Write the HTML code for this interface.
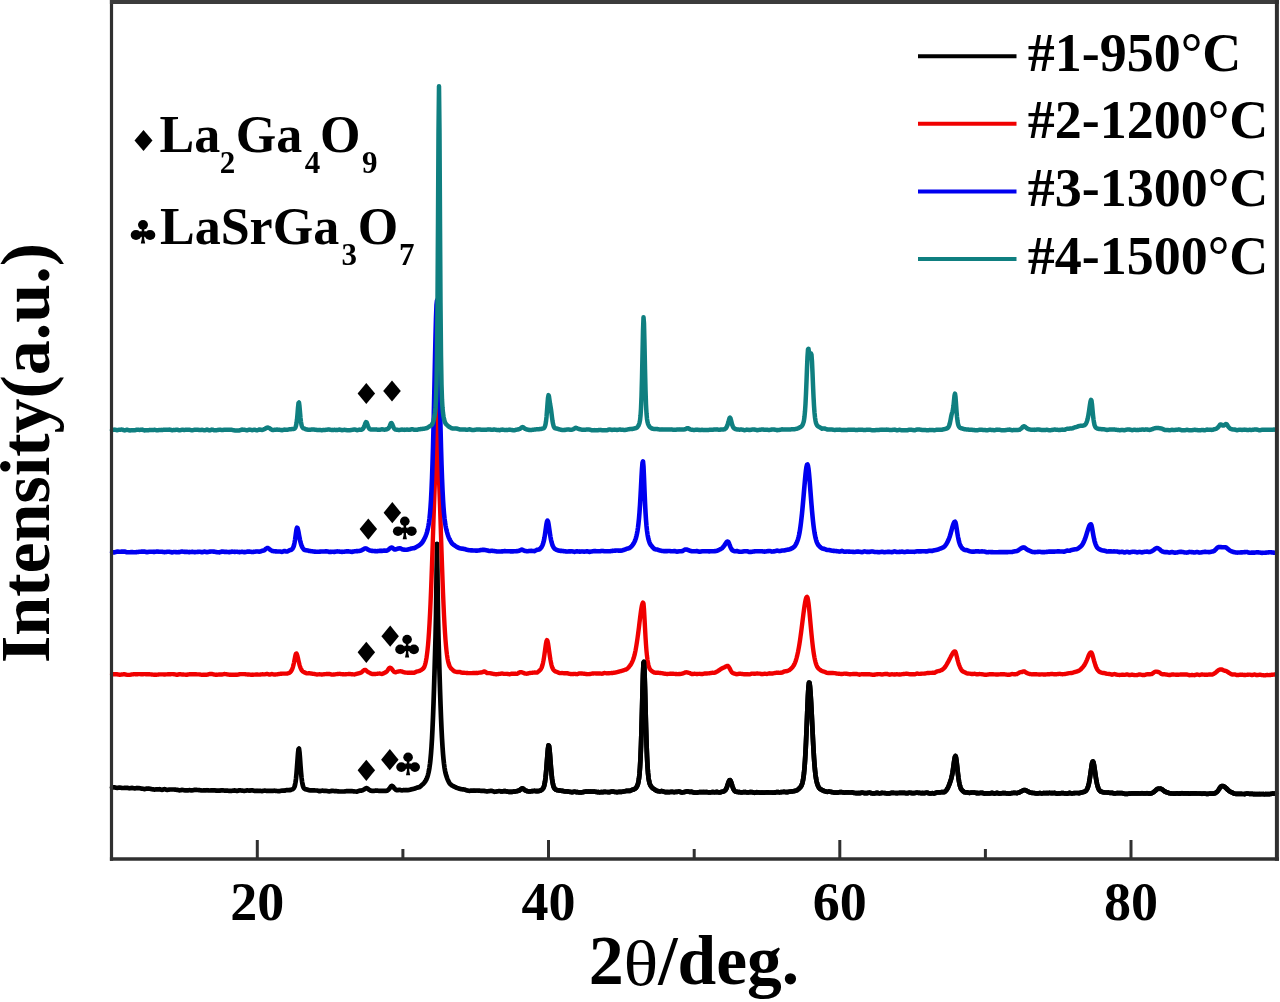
<!DOCTYPE html>
<html><head><meta charset="utf-8"><style>
html,body{margin:0;padding:0;background:#fff;}
body{width:1280px;height:1002px;overflow:hidden;}
svg{display:block;will-change:transform;}
text{font-family:"Liberation Serif",serif;font-weight:bold;fill:#000;}
</style></head><body>
<svg width="1280" height="1002" viewBox="0 0 1280 1002">
<rect x="0" y="0" width="1280" height="1002" fill="#fff"/>

<defs><clipPath id="cr"><rect x="500" y="0" width="780" height="1002"/></clipPath></defs>
<path d="M112.0,787.5 L112.5,787.4 L113.0,787.4 L113.5,787.4 L114.0,787.4 L114.5,787.4 L115.0,787.5 L115.5,787.6 L116.0,787.7 L116.5,787.8 L117.0,787.9 L117.5,787.8 L118.0,787.8 L118.5,787.7 L119.0,787.6 L119.5,787.5 L120.0,787.6 L120.5,787.7 L121.0,787.8 L121.5,787.9 L122.0,788.0 L122.5,788.0 L123.0,788.0 L123.5,788.0 L124.0,788.0 L124.5,787.9 L125.0,787.9 L125.5,787.9 L126.0,787.8 L126.5,787.8 L127.0,787.8 L127.5,787.9 L128.0,788.0 L128.5,788.1 L129.0,788.2 L129.5,788.3 L130.0,788.2 L130.5,788.1 L131.0,788.1 L131.5,788.0 L132.0,787.9 L132.5,788.0 L133.0,788.1 L133.5,788.2 L134.0,788.3 L134.5,788.4 L135.0,788.3 L135.5,788.3 L136.0,788.2 L136.5,788.2 L137.0,788.1 L137.5,788.2 L138.0,788.2 L138.5,788.2 L139.0,788.2 L139.5,788.2 L140.0,788.3 L140.5,788.4 L141.0,788.5 L141.5,788.6 L142.0,788.6 L142.5,788.7 L143.0,788.8 L143.5,788.9 L144.0,789.0 L144.5,789.1 L145.0,789.0 L145.5,788.9 L146.0,788.8 L146.5,788.7 L147.0,788.5 L147.5,788.6 L148.0,788.6 L148.5,788.7 L149.0,788.7 L149.5,788.7 L150.0,788.8 L150.5,788.9 L151.0,789.0 L151.5,789.1 L152.0,789.2 L152.5,789.3 L153.0,789.3 L153.5,789.4 L154.0,789.5 L154.5,789.6 L155.0,789.5 L155.5,789.5 L156.0,789.4 L156.5,789.4 L157.0,789.3 L157.5,789.3 L158.0,789.3 L158.5,789.3 L159.0,789.3 L159.5,789.2 L160.0,789.4 L160.5,789.5 L161.0,789.6 L161.5,789.7 L162.0,789.9 L162.5,789.7 L163.0,789.6 L163.5,789.4 L164.0,789.3 L164.5,789.1 L165.0,789.3 L165.5,789.4 L166.0,789.6 L166.5,789.8 L167.0,789.9 L167.5,789.9 L168.0,789.8 L168.5,789.7 L169.0,789.6 L169.5,789.5 L170.0,789.5 L170.5,789.5 L171.0,789.5 L171.5,789.5 L172.0,789.5 L172.5,789.5 L173.0,789.5 L173.5,789.5 L174.0,789.5 L174.5,789.5 L175.0,789.6 L175.5,789.6 L176.0,789.7 L176.5,789.8 L177.0,789.8 L177.5,789.9 L178.0,790.0 L178.5,790.1 L179.0,790.2 L179.5,790.4 L180.0,790.3 L180.5,790.2 L181.0,790.1 L181.5,790.0 L182.0,789.9 L182.5,790.0 L183.0,790.0 L183.5,790.1 L184.0,790.2 L184.5,790.3 L185.0,790.3 L185.5,790.4 L186.0,790.4 L186.5,790.4 L187.0,790.4 L187.5,790.4 L188.0,790.3 L188.5,790.3 L189.0,790.2 L189.5,790.2 L190.0,790.2 L190.5,790.3 L191.0,790.3 L191.5,790.3 L192.0,790.4 L192.5,790.3 L193.0,790.2 L193.5,790.1 L194.0,790.0 L194.5,789.9 L195.0,789.9 L195.5,789.9 L196.0,789.9 L196.5,789.9 L197.0,790.0 L197.5,790.0 L198.0,790.0 L198.5,790.0 L199.0,790.1 L199.5,790.1 L200.0,790.2 L200.5,790.3 L201.0,790.4 L201.5,790.5 L202.0,790.5 L202.5,790.5 L203.0,790.5 L203.5,790.4 L204.0,790.4 L204.5,790.3 L205.0,790.3 L205.5,790.3 L206.0,790.3 L206.5,790.3 L207.0,790.2 L207.5,790.3 L208.0,790.4 L208.5,790.4 L209.0,790.5 L209.5,790.5 L210.0,790.5 L210.5,790.5 L211.0,790.4 L211.5,790.4 L212.0,790.4 L212.5,790.4 L213.0,790.4 L213.5,790.3 L214.0,790.3 L214.5,790.3 L215.0,790.4 L215.5,790.5 L216.0,790.6 L216.5,790.7 L217.0,790.7 L217.5,790.7 L218.0,790.7 L218.5,790.7 L219.0,790.7 L219.5,790.7 L220.0,790.6 L220.5,790.5 L221.0,790.4 L221.5,790.4 L222.0,790.3 L222.5,790.3 L223.0,790.4 L223.5,790.5 L224.0,790.5 L224.5,790.6 L225.0,790.6 L225.5,790.6 L226.0,790.6 L226.5,790.6 L227.0,790.6 L227.5,790.6 L228.0,790.7 L228.5,790.8 L229.0,790.8 L229.5,790.9 L230.0,790.9 L230.5,790.9 L231.0,790.8 L231.5,790.8 L232.0,790.8 L232.5,790.7 L233.0,790.6 L233.5,790.6 L234.0,790.5 L234.5,790.4 L235.0,790.5 L235.5,790.7 L236.0,790.8 L236.5,790.9 L237.0,791.0 L237.5,790.9 L238.0,790.7 L238.5,790.6 L239.0,790.4 L239.5,790.3 L240.0,790.3 L240.5,790.4 L241.0,790.5 L241.5,790.5 L242.0,790.6 L242.5,790.6 L243.0,790.7 L243.5,790.8 L244.0,790.8 L244.5,790.9 L245.0,790.8 L245.5,790.7 L246.0,790.6 L246.5,790.5 L247.0,790.4 L247.5,790.4 L248.0,790.5 L248.5,790.5 L249.0,790.6 L249.5,790.7 L250.0,790.6 L250.5,790.5 L251.0,790.4 L251.5,790.4 L252.0,790.3 L252.5,790.4 L253.0,790.5 L253.5,790.6 L254.0,790.7 L254.5,790.9 L255.0,790.9 L255.5,790.9 L256.0,790.9 L256.5,790.9 L257.0,791.0 L257.5,790.9 L258.0,790.9 L258.5,790.9 L259.0,790.8 L259.5,790.8 L260.0,790.9 L260.5,790.9 L261.0,791.0 L261.5,791.0 L262.0,791.1 L262.5,791.0 L263.0,790.9 L263.5,790.8 L264.0,790.7 L264.5,790.6 L265.0,790.6 L265.5,790.7 L266.0,790.8 L266.5,790.9 L267.0,790.9 L267.5,790.9 L268.0,790.9 L268.5,790.9 L269.0,790.9 L269.5,790.8 L270.0,790.8 L270.5,790.8 L271.0,790.8 L271.5,790.8 L272.0,790.8 L272.5,790.8 L273.0,790.8 L273.5,790.8 L274.0,790.7 L274.5,790.7 L275.0,790.8 L275.5,790.8 L276.0,790.9 L276.5,791.0 L277.0,791.0 L277.5,791.0 L278.0,791.1 L278.5,791.1 L279.0,791.1 L279.5,791.1 L280.0,791.0 L280.5,790.9 L281.0,790.8 L281.5,790.7 L282.0,790.6 L282.5,790.6 L283.0,790.6 L283.5,790.7 L284.0,790.7 L284.5,790.7 L285.0,790.6 L285.5,790.4 L286.0,790.3 L286.5,790.1 L287.0,790.0 L287.5,790.0 L288.0,790.1 L288.5,790.1 L289.0,790.2 L289.5,790.2 L290.0,790.1 L290.5,790.0 L291.0,789.8 L291.5,789.6 L292.0,789.4 L292.5,789.2 L293.0,788.9 L293.5,788.5 L294.0,787.8 L294.5,786.8 L295.0,785.0 L295.5,782.4 L296.0,778.7 L296.5,773.6 L297.0,767.3 L297.5,760.3 L298.0,753.6 L298.5,749.1 L299.0,748.6 L299.5,752.2 L300.0,758.5 L300.5,765.6 L301.0,772.0 L301.5,777.3 L302.0,781.3 L302.5,784.2 L303.0,786.1 L303.5,787.4 L304.0,788.2 L304.5,788.8 L305.0,789.1 L305.5,789.2 L306.0,789.4 L306.5,789.4 L307.0,789.5 L307.5,789.7 L308.0,789.9 L308.5,790.0 L309.0,790.2 L309.5,790.3 L310.0,790.4 L310.5,790.4 L311.0,790.4 L311.5,790.3 L312.0,790.3 L312.5,790.4 L313.0,790.4 L313.5,790.4 L314.0,790.4 L314.5,790.4 L315.0,790.5 L315.5,790.5 L316.0,790.5 L316.5,790.5 L317.0,790.5 L317.5,790.6 L318.0,790.8 L318.5,790.9 L319.0,791.1 L319.5,791.2 L320.0,791.1 L320.5,791.0 L321.0,790.9 L321.5,790.8 L322.0,790.7 L322.5,790.7 L323.0,790.7 L323.5,790.8 L324.0,790.8 L324.5,790.8 L325.0,790.9 L325.5,790.9 L326.0,790.9 L326.5,791.0 L327.0,791.0 L327.5,791.1 L328.0,791.2 L328.5,791.3 L329.0,791.4 L329.5,791.4 L330.0,791.3 L330.5,791.2 L331.0,791.0 L331.5,790.9 L332.0,790.8 L332.5,790.8 L333.0,790.9 L333.5,791.0 L334.0,791.0 L334.5,791.1 L335.0,791.1 L335.5,791.2 L336.0,791.2 L336.5,791.2 L337.0,791.2 L337.5,791.3 L338.0,791.3 L338.5,791.4 L339.0,791.5 L339.5,791.5 L340.0,791.5 L340.5,791.5 L341.0,791.5 L341.5,791.5 L342.0,791.5 L342.5,791.5 L343.0,791.5 L343.5,791.5 L344.0,791.5 L344.5,791.5 L345.0,791.4 L345.5,791.3 L346.0,791.2 L346.5,791.1 L347.0,791.0 L347.5,791.0 L348.0,791.1 L348.5,791.1 L349.0,791.1 L349.5,791.1 L350.0,791.1 L350.5,791.1 L351.0,791.1 L351.5,791.1 L352.0,791.1 L352.5,791.2 L353.0,791.3 L353.5,791.4 L354.0,791.4 L354.5,791.5 L355.0,791.5 L355.5,791.5 L356.0,791.5 L356.5,791.6 L357.0,791.6 L357.5,791.4 L358.0,791.2 L358.5,791.1 L359.0,790.9 L359.5,790.7 L360.0,790.7 L360.5,790.7 L361.0,790.6 L361.5,790.6 L362.0,790.4 L362.5,790.3 L363.0,790.1 L363.5,789.8 L364.0,789.5 L364.5,789.2 L365.0,788.8 L365.5,788.5 L366.0,788.2 L366.5,788.1 L367.0,788.2 L367.5,788.5 L368.0,788.9 L368.5,789.3 L369.0,789.7 L369.5,790.0 L370.0,790.3 L370.5,790.5 L371.0,790.7 L371.5,790.8 L372.0,790.9 L372.5,790.9 L373.0,790.9 L373.5,790.9 L374.0,790.8 L374.5,790.8 L375.0,790.7 L375.5,790.7 L376.0,790.6 L376.5,790.6 L377.0,790.5 L377.5,790.6 L378.0,790.7 L378.5,790.8 L379.0,790.8 L379.5,790.9 L380.0,790.9 L380.5,790.8 L381.0,790.8 L381.5,790.8 L382.0,790.8 L382.5,790.8 L383.0,790.8 L383.5,790.8 L384.0,790.8 L384.5,790.8 L385.0,790.8 L385.5,790.8 L386.0,790.8 L386.5,790.8 L387.0,790.7 L387.5,790.4 L388.0,790.1 L388.5,789.6 L389.0,789.1 L389.5,788.5 L390.0,787.8 L390.5,787.1 L391.0,786.5 L391.5,786.0 L392.0,785.9 L392.5,786.1 L393.0,786.6 L393.5,787.2 L394.0,787.9 L394.5,788.5 L395.0,789.0 L395.5,789.4 L396.0,789.8 L396.5,790.0 L397.0,790.2 L397.5,790.2 L398.0,790.1 L398.5,790.0 L399.0,789.9 L399.5,789.8 L400.0,790.0 L400.5,790.1 L401.0,790.2 L401.5,790.3 L402.0,790.4 L402.5,790.3 L403.0,790.2 L403.5,790.2 L404.0,790.2 L404.5,790.1 L405.0,790.2 L405.5,790.2 L406.0,790.2 L406.5,790.2 L407.0,790.2 L407.5,790.1 L408.0,790.1 L408.5,790.0 L409.0,790.0 L409.5,789.9 L410.0,789.7 L410.5,789.6 L411.0,789.5 L411.5,789.3 L412.0,789.1 L412.5,789.1 L413.0,789.0 L413.5,788.9 L414.0,788.8 L414.5,788.6 L415.0,788.5 L415.5,788.3 L416.0,788.1 L416.5,787.9 L417.0,787.6 L417.5,787.6 L418.0,787.5 L418.5,787.3 L419.0,787.2 L419.5,787.1 L420.0,786.7 L420.5,786.3 L421.0,785.9 L421.5,785.4 L422.0,784.9 L422.5,784.5 L423.0,784.1 L423.5,783.6 L424.0,783.0 L424.5,782.4 L425.0,781.7 L425.5,780.9 L426.0,780.1 L426.5,779.1 L427.0,777.9 L427.5,776.5 L428.0,774.8 L428.5,772.8 L429.0,770.3 L429.5,767.3 L430.0,763.7 L430.5,759.2 L431.0,753.6 L431.5,746.8 L432.0,738.6 L432.5,728.7 L433.0,717.1 L433.5,703.8 L434.0,688.9 L434.5,672.6 L435.0,655.5 L435.5,637.7 L436.0,615.0 L436.5,576.5 L437.0,543.9 L437.5,576.5 L438.0,615.0 L438.5,637.7 L439.0,655.6 L439.5,672.7 L440.0,689.0 L440.5,703.8 L441.0,717.1 L441.5,728.6 L442.0,738.4 L442.5,746.7 L443.0,753.6 L443.5,759.2 L444.0,763.8 L444.5,767.6 L445.0,770.5 L445.5,772.9 L446.0,774.8 L446.5,776.4 L447.0,777.8 L447.5,779.1 L448.0,780.3 L448.5,781.4 L449.0,782.3 L449.5,783.2 L450.0,783.8 L450.5,784.3 L451.0,784.7 L451.5,785.2 L452.0,785.5 L452.5,785.8 L453.0,786.1 L453.5,786.3 L454.0,786.5 L454.5,786.7 L455.0,787.0 L455.5,787.3 L456.0,787.5 L456.5,787.7 L457.0,787.9 L457.5,788.1 L458.0,788.3 L458.5,788.4 L459.0,788.6 L459.5,788.7 L460.0,788.9 L460.5,789.0 L461.0,789.1 L461.5,789.2 L462.0,789.3 L462.5,789.3 L463.0,789.4 L463.5,789.4 L464.0,789.5 L464.5,789.5 L465.0,789.7 L465.5,789.9 L466.0,790.1 L466.5,790.3 L467.0,790.5 L467.5,790.5 L468.0,790.6 L468.5,790.7 L469.0,790.8 L469.5,790.8 L470.0,790.8 L470.5,790.7 L471.0,790.7 L471.5,790.6 L472.0,790.6 L472.5,790.6 L473.0,790.6 L473.5,790.7 L474.0,790.7 L474.5,790.7 L475.0,790.7 L475.5,790.6 L476.0,790.6 L476.5,790.5 L477.0,790.5 L477.5,790.5 L478.0,790.6 L478.5,790.6 L479.0,790.6 L479.5,790.6 L480.0,790.7 L480.5,790.8 L481.0,790.8 L481.5,790.9 L482.0,790.9 L482.5,790.9 L483.0,790.9 L483.5,790.9 L484.0,790.9 L484.5,790.9 L485.0,791.1 L485.5,791.2 L486.0,791.3 L486.5,791.4 L487.0,791.5 L487.5,791.4 L488.0,791.3 L488.5,791.2 L489.0,791.1 L489.5,791.0 L490.0,791.0 L490.5,790.9 L491.0,790.9 L491.5,790.9 L492.0,790.9 L492.5,791.1 L493.0,791.3 L493.5,791.4 L494.0,791.6 L494.5,791.8 L495.0,791.7 L495.5,791.6 L496.0,791.6 L496.5,791.5 L497.0,791.4 L497.5,791.4 L498.0,791.3 L498.5,791.2 L499.0,791.2 L499.5,791.1 L500.0,791.2 L500.5,791.3 L501.0,791.4 L501.5,791.4 L502.0,791.5 L502.5,791.4 L503.0,791.3 L503.5,791.2 L504.0,791.1 L504.5,791.1 L505.0,791.2 L505.5,791.2 L506.0,791.3 L506.5,791.4 L507.0,791.5 L507.5,791.6 L508.0,791.7 L508.5,791.8 L509.0,791.8 L509.5,791.9 L510.0,791.9 L510.5,791.9 L511.0,791.9 L511.5,791.8 L512.0,791.8 L512.5,791.8 L513.0,791.7 L513.5,791.7 L514.0,791.7 L514.5,791.6 L515.0,791.5 L515.5,791.4 L516.0,791.3 L516.5,791.2 L517.0,791.1 L517.5,791.0 L518.0,790.9 L518.5,790.7 L519.0,790.5 L519.5,790.3 L520.0,789.9 L520.5,789.5 L521.0,789.1 L521.5,788.7 L522.0,788.4 L522.5,788.4 L523.0,788.6 L523.5,788.9 L524.0,789.4 L524.5,789.9 L525.0,790.2 L525.5,790.5 L526.0,790.8 L526.5,790.9 L527.0,791.0 L527.5,791.2 L528.0,791.3 L528.5,791.4 L529.0,791.5 L529.5,791.5 L530.0,791.5 L530.5,791.4 L531.0,791.3 L531.5,791.2 L532.0,791.1 L532.5,791.1 L533.0,791.0 L533.5,791.0 L534.0,791.0 L534.5,790.9 L535.0,791.0 L535.5,791.0 L536.0,791.1 L536.5,791.2 L537.0,791.2 L537.5,791.2 L538.0,791.1 L538.5,791.0 L539.0,791.0 L539.5,790.9 L540.0,790.7 L540.5,790.5 L541.0,790.3 L541.5,790.0 L542.0,789.6 L542.5,789.1 L543.0,788.5 L543.5,787.6 L544.0,786.3 L544.5,784.4 L545.0,781.7 L545.5,778.0 L546.0,773.2 L546.5,767.4 L547.0,760.8 L547.5,754.2 L548.0,748.5 L548.5,745.4 L549.0,745.7 L549.5,749.5 L550.0,755.3 L550.5,761.9 L551.0,768.3 L551.5,773.8 L552.0,778.3 L552.5,781.8 L553.0,784.4 L553.5,786.3 L554.0,787.5 L554.5,788.4 L555.0,789.0 L555.5,789.4 L556.0,789.7 L556.5,789.9 L557.0,790.1 L557.5,790.2 L558.0,790.3 L558.5,790.4 L559.0,790.4 L559.5,790.5 L560.0,790.6 L560.5,790.6 L561.0,790.7 L561.5,790.8 L562.0,790.8 L562.5,790.9 L563.0,791.0 L563.5,791.1 L564.0,791.2 L564.5,791.3 L565.0,791.3 L565.5,791.3 L566.0,791.3 L566.5,791.3 L567.0,791.4 L567.5,791.5 L568.0,791.6 L568.5,791.7 L569.0,791.7 L569.5,791.8 L570.0,791.9 L570.5,792.0 L571.0,792.0 L571.5,792.1 L572.0,792.1 L572.5,792.1 L573.0,792.0 L573.5,791.9 L574.0,791.8 L574.5,791.7 L575.0,791.8 L575.5,791.9 L576.0,792.0 L576.5,792.1 L577.0,792.2 L577.5,792.2 L578.0,792.2 L578.5,792.3 L579.0,792.3 L579.5,792.3 L580.0,792.3 L580.5,792.3 L581.0,792.3 L581.5,792.3 L582.0,792.3 L582.5,792.2 L583.0,792.1 L583.5,792.0 L584.0,791.9 L584.5,791.8 L585.0,791.7 L585.5,791.7 L586.0,791.7 L586.5,791.7 L587.0,791.6 L587.5,791.6 L588.0,791.7 L588.5,791.7 L589.0,791.7 L589.5,791.7 L590.0,791.7 L590.5,791.7 L591.0,791.6 L591.5,791.6 L592.0,791.6 L592.5,791.6 L593.0,791.6 L593.5,791.6 L594.0,791.6 L594.5,791.6 L595.0,791.7 L595.5,791.8 L596.0,791.9 L596.5,792.0 L597.0,792.0 L597.5,792.1 L598.0,792.1 L598.5,792.2 L599.0,792.2 L599.5,792.3 L600.0,792.3 L600.5,792.2 L601.0,792.2 L601.5,792.2 L602.0,792.2 L602.5,792.1 L603.0,792.1 L603.5,792.0 L604.0,791.9 L604.5,791.9 L605.0,791.9 L605.5,791.9 L606.0,792.0 L606.5,792.0 L607.0,792.0 L607.5,792.0 L608.0,792.1 L608.5,792.1 L609.0,792.1 L609.5,792.1 L610.0,792.0 L610.5,791.9 L611.0,791.7 L611.5,791.6 L612.0,791.5 L612.5,791.6 L613.0,791.7 L613.5,791.7 L614.0,791.8 L614.5,791.9 L615.0,792.0 L615.5,792.0 L616.0,792.0 L616.5,792.1 L617.0,792.1 L617.5,792.1 L618.0,792.0 L618.5,792.0 L619.0,791.9 L619.5,791.9 L620.0,791.9 L620.5,791.9 L621.0,791.8 L621.5,791.8 L622.0,791.8 L622.5,791.7 L623.0,791.6 L623.5,791.5 L624.0,791.4 L624.5,791.3 L625.0,791.2 L625.5,791.1 L626.0,791.0 L626.5,790.9 L627.0,790.8 L627.5,790.9 L628.0,790.9 L628.5,790.9 L629.0,791.0 L629.5,791.0 L630.0,790.8 L630.5,790.6 L631.0,790.4 L631.5,790.1 L632.0,789.9 L632.5,789.8 L633.0,789.6 L633.5,789.5 L634.0,789.3 L634.5,789.0 L635.0,788.7 L635.5,788.3 L636.0,787.8 L636.5,787.1 L637.0,786.4 L637.5,785.2 L638.0,783.7 L638.5,781.5 L639.0,778.4 L639.5,773.9 L640.0,767.3 L640.5,758.1 L641.0,745.7 L641.5,729.9 L642.0,711.4 L642.5,691.8 L643.0,674.2 L643.5,662.9 L644.0,661.9 L644.5,671.6 L645.0,688.4 L645.5,707.9 L646.0,726.8 L646.5,743.1 L647.0,756.2 L647.5,766.0 L648.0,772.9 L648.5,777.6 L649.0,780.8 L649.5,782.9 L650.0,784.4 L650.5,785.5 L651.0,786.3 L651.5,787.0 L652.0,787.6 L652.5,788.0 L653.0,788.4 L653.5,788.8 L654.0,789.1 L654.5,789.4 L655.0,789.7 L655.5,790.1 L656.0,790.4 L656.5,790.7 L657.0,790.9 L657.5,791.0 L658.0,791.1 L658.5,791.2 L659.0,791.3 L659.5,791.4 L660.0,791.3 L660.5,791.3 L661.0,791.2 L661.5,791.2 L662.0,791.1 L662.5,791.3 L663.0,791.4 L663.5,791.6 L664.0,791.8 L664.5,791.9 L665.0,792.0 L665.5,792.1 L666.0,792.1 L666.5,792.2 L667.0,792.2 L667.5,792.2 L668.0,792.2 L668.5,792.1 L669.0,792.1 L669.5,792.1 L670.0,792.0 L670.5,792.0 L671.0,791.9 L671.5,791.9 L672.0,791.9 L672.5,791.9 L673.0,792.0 L673.5,792.0 L674.0,792.1 L674.5,792.1 L675.0,792.0 L675.5,792.0 L676.0,791.9 L676.5,791.8 L677.0,791.8 L677.5,791.8 L678.0,791.7 L678.5,791.7 L679.0,791.7 L679.5,791.7 L680.0,791.9 L680.5,792.0 L681.0,792.2 L681.5,792.4 L682.0,792.5 L682.5,792.4 L683.0,792.3 L683.5,792.2 L684.0,792.1 L684.5,792.0 L685.0,791.9 L685.5,791.8 L686.0,791.6 L686.5,791.5 L687.0,791.4 L687.5,791.4 L688.0,791.5 L688.5,791.6 L689.0,791.7 L689.5,791.9 L690.0,791.9 L690.5,791.9 L691.0,791.9 L691.5,792.0 L692.0,791.9 L692.5,792.1 L693.0,792.2 L693.5,792.4 L694.0,792.5 L694.5,792.6 L695.0,792.6 L695.5,792.6 L696.0,792.6 L696.5,792.6 L697.0,792.6 L697.5,792.5 L698.0,792.4 L698.5,792.3 L699.0,792.2 L699.5,792.1 L700.0,792.1 L700.5,792.1 L701.0,792.1 L701.5,792.1 L702.0,792.1 L702.5,792.1 L703.0,792.2 L703.5,792.2 L704.0,792.2 L704.5,792.2 L705.0,792.2 L705.5,792.2 L706.0,792.2 L706.5,792.2 L707.0,792.1 L707.5,792.2 L708.0,792.3 L708.5,792.3 L709.0,792.4 L709.5,792.4 L710.0,792.4 L710.5,792.3 L711.0,792.3 L711.5,792.2 L712.0,792.1 L712.5,792.2 L713.0,792.2 L713.5,792.2 L714.0,792.2 L714.5,792.3 L715.0,792.2 L715.5,792.1 L716.0,792.1 L716.5,792.0 L717.0,791.9 L717.5,792.1 L718.0,792.2 L718.5,792.3 L719.0,792.4 L719.5,792.5 L720.0,792.4 L720.5,792.2 L721.0,792.1 L721.5,791.9 L722.0,791.8 L722.5,791.7 L723.0,791.6 L723.5,791.4 L724.0,791.2 L724.5,790.9 L725.0,790.5 L725.5,789.9 L726.0,789.1 L726.5,788.1 L727.0,786.8 L727.5,785.4 L728.0,783.8 L728.5,782.3 L729.0,781.0 L729.5,780.3 L730.0,780.1 L730.5,780.7 L731.0,781.9 L731.5,783.3 L732.0,784.9 L732.5,786.5 L733.0,787.9 L733.5,789.1 L734.0,790.0 L734.5,790.8 L735.0,791.2 L735.5,791.5 L736.0,791.7 L736.5,791.8 L737.0,791.8 L737.5,791.9 L738.0,792.0 L738.5,792.1 L739.0,792.1 L739.5,792.2 L740.0,792.2 L740.5,792.3 L741.0,792.3 L741.5,792.3 L742.0,792.3 L742.5,792.3 L743.0,792.2 L743.5,792.1 L744.0,792.1 L744.5,792.0 L745.0,792.1 L745.5,792.2 L746.0,792.2 L746.5,792.3 L747.0,792.4 L747.5,792.4 L748.0,792.3 L748.5,792.3 L749.0,792.3 L749.5,792.2 L750.0,792.2 L750.5,792.2 L751.0,792.1 L751.5,792.1 L752.0,792.1 L752.5,792.2 L753.0,792.4 L753.5,792.5 L754.0,792.7 L754.5,792.8 L755.0,792.7 L755.5,792.6 L756.0,792.5 L756.5,792.4 L757.0,792.2 L757.5,792.3 L758.0,792.4 L758.5,792.4 L759.0,792.5 L759.5,792.5 L760.0,792.6 L760.5,792.6 L761.0,792.7 L761.5,792.7 L762.0,792.7 L762.5,792.7 L763.0,792.7 L763.5,792.6 L764.0,792.6 L764.5,792.6 L765.0,792.5 L765.5,792.5 L766.0,792.5 L766.5,792.4 L767.0,792.4 L767.5,792.4 L768.0,792.4 L768.5,792.5 L769.0,792.5 L769.5,792.5 L770.0,792.5 L770.5,792.5 L771.0,792.5 L771.5,792.5 L772.0,792.5 L772.5,792.6 L773.0,792.6 L773.5,792.6 L774.0,792.7 L774.5,792.7 L775.0,792.6 L775.5,792.4 L776.0,792.3 L776.5,792.2 L777.0,792.0 L777.5,792.1 L778.0,792.2 L778.5,792.2 L779.0,792.3 L779.5,792.4 L780.0,792.3 L780.5,792.2 L781.0,792.1 L781.5,792.1 L782.0,792.0 L782.5,792.0 L783.0,792.0 L783.5,791.9 L784.0,791.9 L784.5,791.9 L785.0,792.0 L785.5,792.0 L786.0,792.1 L786.5,792.1 L787.0,792.2 L787.5,792.1 L788.0,792.0 L788.5,791.9 L789.0,791.8 L789.5,791.7 L790.0,791.6 L790.5,791.6 L791.0,791.5 L791.5,791.5 L792.0,791.4 L792.5,791.3 L793.0,791.3 L793.5,791.2 L794.0,791.1 L794.5,791.0 L795.0,790.9 L795.5,790.8 L796.0,790.6 L796.5,790.4 L797.0,790.2 L797.5,789.9 L798.0,789.5 L798.5,789.1 L799.0,788.7 L799.5,788.2 L800.0,787.7 L800.5,787.1 L801.0,786.4 L801.5,785.5 L802.0,784.2 L802.5,782.6 L803.0,780.3 L803.5,777.2 L804.0,773.1 L804.5,767.8 L805.0,760.9 L805.5,752.5 L806.0,742.4 L806.5,730.9 L807.0,718.5 L807.5,706.1 L808.0,694.9 L808.5,686.7 L809.0,682.5 L809.5,682.8 L810.0,686.6 L810.5,693.0 L811.0,701.0 L811.5,710.1 L812.0,720.0 L812.5,730.4 L813.0,740.4 L813.5,749.7 L814.0,757.9 L814.5,764.7 L815.0,770.3 L815.5,774.8 L816.0,778.3 L816.5,781.0 L817.0,783.0 L817.5,784.7 L818.0,785.9 L818.5,786.9 L819.0,787.8 L819.5,788.4 L820.0,788.9 L820.5,789.2 L821.0,789.5 L821.5,789.8 L822.0,790.0 L822.5,790.3 L823.0,790.5 L823.5,790.8 L824.0,791.0 L824.5,791.1 L825.0,791.3 L825.5,791.4 L826.0,791.6 L826.5,791.7 L827.0,791.8 L827.5,791.8 L828.0,791.7 L828.5,791.7 L829.0,791.6 L829.5,791.6 L830.0,791.7 L830.5,791.8 L831.0,791.9 L831.5,792.0 L832.0,792.1 L832.5,792.2 L833.0,792.3 L833.5,792.4 L834.0,792.5 L834.5,792.6 L835.0,792.7 L835.5,792.7 L836.0,792.7 L836.5,792.7 L837.0,792.7 L837.5,792.6 L838.0,792.5 L838.5,792.4 L839.0,792.3 L839.5,792.2 L840.0,792.2 L840.5,792.2 L841.0,792.2 L841.5,792.2 L842.0,792.2 L842.5,792.3 L843.0,792.4 L843.5,792.5 L844.0,792.5 L844.5,792.6 L845.0,792.5 L845.5,792.5 L846.0,792.4 L846.5,792.4 L847.0,792.3 L847.5,792.4 L848.0,792.4 L848.5,792.4 L849.0,792.5 L849.5,792.5 L850.0,792.5 L850.5,792.5 L851.0,792.5 L851.5,792.4 L852.0,792.4 L852.5,792.5 L853.0,792.6 L853.5,792.8 L854.0,792.9 L854.5,793.0 L855.0,793.0 L855.5,793.0 L856.0,793.1 L856.5,793.1 L857.0,793.1 L857.5,793.1 L858.0,793.2 L858.5,793.2 L859.0,793.2 L859.5,793.2 L860.0,793.1 L860.5,793.0 L861.0,792.9 L861.5,792.7 L862.0,792.6 L862.5,792.7 L863.0,792.8 L863.5,792.9 L864.0,793.0 L864.5,793.1 L865.0,793.1 L865.5,793.1 L866.0,793.1 L866.5,793.1 L867.0,793.1 L867.5,793.0 L868.0,792.9 L868.5,792.8 L869.0,792.7 L869.5,792.6 L870.0,792.8 L870.5,792.9 L871.0,793.1 L871.5,793.2 L872.0,793.3 L872.5,793.3 L873.0,793.4 L873.5,793.4 L874.0,793.4 L874.5,793.4 L875.0,793.3 L875.5,793.2 L876.0,793.0 L876.5,792.9 L877.0,792.8 L877.5,792.9 L878.0,793.0 L878.5,793.2 L879.0,793.3 L879.5,793.4 L880.0,793.3 L880.5,793.2 L881.0,793.1 L881.5,793.0 L882.0,792.9 L882.5,793.0 L883.0,793.0 L883.5,793.0 L884.0,793.0 L884.5,793.0 L885.0,793.1 L885.5,793.2 L886.0,793.3 L886.5,793.4 L887.0,793.5 L887.5,793.5 L888.0,793.4 L888.5,793.4 L889.0,793.4 L889.5,793.4 L890.0,793.2 L890.5,793.1 L891.0,793.0 L891.5,792.9 L892.0,792.8 L892.5,792.8 L893.0,792.9 L893.5,792.9 L894.0,793.0 L894.5,793.0 L895.0,793.0 L895.5,793.0 L896.0,793.1 L896.5,793.1 L897.0,793.1 L897.5,793.1 L898.0,793.0 L898.5,793.0 L899.0,793.0 L899.5,792.9 L900.0,792.9 L900.5,792.9 L901.0,792.9 L901.5,792.8 L902.0,792.8 L902.5,792.8 L903.0,792.9 L903.5,792.9 L904.0,792.9 L904.5,792.9 L905.0,793.0 L905.5,793.1 L906.0,793.1 L906.5,793.2 L907.0,793.3 L907.5,793.2 L908.0,793.0 L908.5,792.9 L909.0,792.8 L909.5,792.7 L910.0,792.8 L910.5,792.9 L911.0,792.9 L911.5,793.0 L912.0,793.1 L912.5,793.1 L913.0,793.1 L913.5,793.1 L914.0,793.1 L914.5,793.0 L915.0,793.0 L915.5,792.9 L916.0,792.8 L916.5,792.7 L917.0,792.7 L917.5,792.7 L918.0,792.8 L918.5,792.8 L919.0,792.9 L919.5,792.9 L920.0,793.0 L920.5,793.0 L921.0,793.1 L921.5,793.1 L922.0,793.2 L922.5,793.2 L923.0,793.1 L923.5,793.1 L924.0,793.1 L924.5,793.1 L925.0,793.0 L925.5,792.9 L926.0,792.8 L926.5,792.7 L927.0,792.6 L927.5,792.8 L928.0,793.0 L928.5,793.1 L929.0,793.3 L929.5,793.4 L930.0,793.4 L930.5,793.3 L931.0,793.3 L931.5,793.3 L932.0,793.2 L932.5,793.2 L933.0,793.3 L933.5,793.3 L934.0,793.3 L934.5,793.3 L935.0,793.1 L935.5,793.0 L936.0,792.8 L936.5,792.6 L937.0,792.4 L937.5,792.4 L938.0,792.4 L938.5,792.4 L939.0,792.4 L939.5,792.4 L940.0,792.4 L940.5,792.3 L941.0,792.2 L941.5,792.1 L942.0,792.0 L942.5,792.0 L943.0,792.1 L943.5,792.1 L944.0,792.1 L944.5,792.0 L945.0,791.7 L945.5,791.2 L946.0,790.7 L946.5,790.1 L947.0,789.3 L947.5,788.5 L948.0,787.5 L948.5,786.4 L949.0,785.2 L949.5,783.9 L950.0,782.5 L950.5,781.0 L951.0,779.4 L951.5,777.5 L952.0,775.3 L952.5,772.7 L953.0,769.6 L953.5,766.0 L954.0,762.4 L954.5,759.1 L955.0,756.7 L955.5,756.1 L956.0,757.6 L956.5,760.8 L957.0,765.2 L957.5,769.8 L958.0,774.2 L958.5,778.1 L959.0,781.4 L959.5,784.0 L960.0,786.1 L960.5,787.6 L961.0,788.8 L961.5,789.6 L962.0,790.1 L962.5,790.7 L963.0,791.2 L963.5,791.5 L964.0,791.9 L964.5,792.2 L965.0,792.3 L965.5,792.3 L966.0,792.4 L966.5,792.4 L967.0,792.4 L967.5,792.5 L968.0,792.6 L968.5,792.7 L969.0,792.8 L969.5,792.8 L970.0,792.8 L970.5,792.7 L971.0,792.6 L971.5,792.5 L972.0,792.5 L972.5,792.5 L973.0,792.5 L973.5,792.5 L974.0,792.5 L974.5,792.6 L975.0,792.7 L975.5,792.8 L976.0,792.9 L976.5,793.1 L977.0,793.2 L977.5,793.2 L978.0,793.1 L978.5,793.1 L979.0,793.1 L979.5,793.0 L980.0,793.0 L980.5,792.9 L981.0,792.9 L981.5,792.8 L982.0,792.8 L982.5,792.9 L983.0,793.1 L983.5,793.2 L984.0,793.4 L984.5,793.6 L985.0,793.5 L985.5,793.5 L986.0,793.4 L986.5,793.4 L987.0,793.3 L987.5,793.4 L988.0,793.4 L988.5,793.4 L989.0,793.5 L989.5,793.5 L990.0,793.4 L990.5,793.2 L991.0,793.1 L991.5,793.0 L992.0,792.9 L992.5,793.0 L993.0,793.2 L993.5,793.3 L994.0,793.4 L994.5,793.6 L995.0,793.4 L995.5,793.3 L996.0,793.2 L996.5,793.0 L997.0,792.9 L997.5,793.0 L998.0,793.2 L998.5,793.3 L999.0,793.5 L999.5,793.6 L1000.0,793.5 L1000.5,793.5 L1001.0,793.4 L1001.5,793.3 L1002.0,793.2 L1002.5,793.2 L1003.0,793.2 L1003.5,793.2 L1004.0,793.2 L1004.5,793.1 L1005.0,793.2 L1005.5,793.2 L1006.0,793.3 L1006.5,793.3 L1007.0,793.3 L1007.5,793.4 L1008.0,793.5 L1008.5,793.5 L1009.0,793.6 L1009.5,793.7 L1010.0,793.5 L1010.5,793.4 L1011.0,793.3 L1011.5,793.2 L1012.0,793.0 L1012.5,793.0 L1013.0,793.0 L1013.5,792.9 L1014.0,792.9 L1014.5,792.9 L1015.0,792.9 L1015.5,793.0 L1016.0,793.0 L1016.5,793.0 L1017.0,793.1 L1017.5,792.9 L1018.0,792.8 L1018.5,792.7 L1019.0,792.5 L1019.5,792.3 L1020.0,792.1 L1020.5,791.8 L1021.0,791.6 L1021.5,791.3 L1022.0,791.0 L1022.5,790.7 L1023.0,790.4 L1023.5,790.2 L1024.0,790.1 L1024.5,790.0 L1025.0,790.1 L1025.5,790.2 L1026.0,790.4 L1026.5,790.7 L1027.0,790.9 L1027.5,791.2 L1028.0,791.5 L1028.5,791.8 L1029.0,792.0 L1029.5,792.3 L1030.0,792.4 L1030.5,792.6 L1031.0,792.7 L1031.5,792.8 L1032.0,792.9 L1032.5,792.9 L1033.0,793.0 L1033.5,793.0 L1034.0,793.0 L1034.5,793.1 L1035.0,793.2 L1035.5,793.3 L1036.0,793.3 L1036.5,793.4 L1037.0,793.5 L1037.5,793.5 L1038.0,793.4 L1038.5,793.3 L1039.0,793.2 L1039.5,793.1 L1040.0,793.2 L1040.5,793.2 L1041.0,793.3 L1041.5,793.3 L1042.0,793.4 L1042.5,793.3 L1043.0,793.2 L1043.5,793.2 L1044.0,793.1 L1044.5,793.1 L1045.0,793.1 L1045.5,793.1 L1046.0,793.2 L1046.5,793.2 L1047.0,793.2 L1047.5,793.2 L1048.0,793.1 L1048.5,793.1 L1049.0,793.0 L1049.5,792.9 L1050.0,793.0 L1050.5,793.0 L1051.0,793.1 L1051.5,793.1 L1052.0,793.2 L1052.5,793.1 L1053.0,793.1 L1053.5,793.0 L1054.0,793.0 L1054.5,792.9 L1055.0,793.1 L1055.5,793.2 L1056.0,793.3 L1056.5,793.5 L1057.0,793.6 L1057.5,793.6 L1058.0,793.5 L1058.5,793.5 L1059.0,793.4 L1059.5,793.4 L1060.0,793.3 L1060.5,793.3 L1061.0,793.2 L1061.5,793.1 L1062.0,793.1 L1062.5,793.1 L1063.0,793.2 L1063.5,793.2 L1064.0,793.3 L1064.5,793.3 L1065.0,793.4 L1065.5,793.5 L1066.0,793.5 L1066.5,793.6 L1067.0,793.7 L1067.5,793.5 L1068.0,793.4 L1068.5,793.2 L1069.0,793.1 L1069.5,792.9 L1070.0,793.0 L1070.5,793.1 L1071.0,793.3 L1071.5,793.4 L1072.0,793.5 L1072.5,793.4 L1073.0,793.3 L1073.5,793.2 L1074.0,793.1 L1074.5,793.1 L1075.0,793.0 L1075.5,793.0 L1076.0,793.0 L1076.5,793.0 L1077.0,793.0 L1077.5,793.0 L1078.0,793.0 L1078.5,793.1 L1079.0,793.1 L1079.5,793.1 L1080.0,792.9 L1080.5,792.8 L1081.0,792.7 L1081.5,792.5 L1082.0,792.3 L1082.5,792.2 L1083.0,792.1 L1083.5,792.0 L1084.0,791.9 L1084.5,791.7 L1085.0,791.4 L1085.5,791.1 L1086.0,790.7 L1086.5,790.1 L1087.0,789.3 L1087.5,788.3 L1088.0,786.9 L1088.5,785.2 L1089.0,783.0 L1089.5,780.3 L1090.0,777.1 L1090.5,773.6 L1091.0,770.0 L1091.5,766.5 L1092.0,763.5 L1092.5,761.8 L1093.0,761.4 L1093.5,762.5 L1094.0,764.9 L1094.5,768.1 L1095.0,771.6 L1095.5,775.1 L1096.0,778.3 L1096.5,781.3 L1097.0,783.7 L1097.5,785.8 L1098.0,787.4 L1098.5,788.7 L1099.0,789.7 L1099.5,790.4 L1100.0,790.9 L1100.5,791.3 L1101.0,791.5 L1101.5,791.8 L1102.0,791.9 L1102.5,792.1 L1103.0,792.2 L1103.5,792.3 L1104.0,792.4 L1104.5,792.5 L1105.0,792.5 L1105.5,792.5 L1106.0,792.5 L1106.5,792.5 L1107.0,792.5 L1107.5,792.6 L1108.0,792.6 L1108.5,792.7 L1109.0,792.7 L1109.5,792.8 L1110.0,792.8 L1110.5,792.8 L1111.0,792.8 L1111.5,792.8 L1112.0,792.8 L1112.5,793.0 L1113.0,793.1 L1113.5,793.3 L1114.0,793.4 L1114.5,793.5 L1115.0,793.5 L1115.5,793.4 L1116.0,793.3 L1116.5,793.2 L1117.0,793.2 L1117.5,793.2 L1118.0,793.1 L1118.5,793.1 L1119.0,793.1 L1119.5,793.1 L1120.0,793.1 L1120.5,793.1 L1121.0,793.1 L1121.5,793.1 L1122.0,793.1 L1122.5,793.2 L1123.0,793.4 L1123.5,793.5 L1124.0,793.7 L1124.5,793.8 L1125.0,793.8 L1125.5,793.8 L1126.0,793.8 L1126.5,793.8 L1127.0,793.8 L1127.5,793.8 L1128.0,793.8 L1128.5,793.7 L1129.0,793.7 L1129.5,793.7 L1130.0,793.6 L1130.5,793.5 L1131.0,793.5 L1131.5,793.4 L1132.0,793.3 L1132.5,793.3 L1133.0,793.3 L1133.5,793.3 L1134.0,793.3 L1134.5,793.3 L1135.0,793.3 L1135.5,793.3 L1136.0,793.3 L1136.5,793.4 L1137.0,793.4 L1137.5,793.4 L1138.0,793.4 L1138.5,793.5 L1139.0,793.5 L1139.5,793.5 L1140.0,793.5 L1140.5,793.4 L1141.0,793.3 L1141.5,793.3 L1142.0,793.2 L1142.5,793.3 L1143.0,793.3 L1143.5,793.4 L1144.0,793.4 L1144.5,793.5 L1145.0,793.4 L1145.5,793.4 L1146.0,793.3 L1146.5,793.3 L1147.0,793.2 L1147.5,793.3 L1148.0,793.4 L1148.5,793.5 L1149.0,793.6 L1149.5,793.7 L1150.0,793.6 L1150.5,793.5 L1151.0,793.4 L1151.5,793.3 L1152.0,793.1 L1152.5,792.9 L1153.0,792.5 L1153.5,792.2 L1154.0,791.8 L1154.5,791.4 L1155.0,791.0 L1155.5,790.6 L1156.0,790.1 L1156.5,789.7 L1157.0,789.2 L1157.5,789.0 L1158.0,788.8 L1158.5,788.7 L1159.0,788.7 L1159.5,788.8 L1160.0,788.7 L1160.5,788.7 L1161.0,788.9 L1161.5,789.0 L1162.0,789.3 L1162.5,789.7 L1163.0,790.1 L1163.5,790.5 L1164.0,790.9 L1164.5,791.3 L1165.0,791.5 L1165.5,791.8 L1166.0,792.0 L1166.5,792.2 L1167.0,792.3 L1167.5,792.5 L1168.0,792.7 L1168.5,792.9 L1169.0,793.1 L1169.5,793.2 L1170.0,793.3 L1170.5,793.4 L1171.0,793.4 L1171.5,793.5 L1172.0,793.5 L1172.5,793.5 L1173.0,793.5 L1173.5,793.6 L1174.0,793.6 L1174.5,793.6 L1175.0,793.6 L1175.5,793.5 L1176.0,793.5 L1176.5,793.4 L1177.0,793.4 L1177.5,793.4 L1178.0,793.5 L1178.5,793.5 L1179.0,793.6 L1179.5,793.7 L1180.0,793.6 L1180.5,793.5 L1181.0,793.4 L1181.5,793.3 L1182.0,793.2 L1182.5,793.3 L1183.0,793.3 L1183.5,793.4 L1184.0,793.4 L1184.5,793.5 L1185.0,793.4 L1185.5,793.4 L1186.0,793.4 L1186.5,793.4 L1187.0,793.3 L1187.5,793.4 L1188.0,793.4 L1188.5,793.5 L1189.0,793.6 L1189.5,793.6 L1190.0,793.6 L1190.5,793.5 L1191.0,793.4 L1191.5,793.4 L1192.0,793.3 L1192.5,793.3 L1193.0,793.3 L1193.5,793.3 L1194.0,793.3 L1194.5,793.3 L1195.0,793.3 L1195.5,793.4 L1196.0,793.4 L1196.5,793.5 L1197.0,793.5 L1197.5,793.5 L1198.0,793.5 L1198.5,793.5 L1199.0,793.5 L1199.5,793.5 L1200.0,793.5 L1200.5,793.6 L1201.0,793.6 L1201.5,793.7 L1202.0,793.8 L1202.5,793.7 L1203.0,793.7 L1203.5,793.7 L1204.0,793.7 L1204.5,793.7 L1205.0,793.7 L1205.5,793.7 L1206.0,793.8 L1206.5,793.8 L1207.0,793.8 L1207.5,793.8 L1208.0,793.8 L1208.5,793.8 L1209.0,793.7 L1209.5,793.7 L1210.0,793.7 L1210.5,793.7 L1211.0,793.7 L1211.5,793.6 L1212.0,793.6 L1212.5,793.6 L1213.0,793.6 L1213.5,793.5 L1214.0,793.5 L1214.5,793.4 L1215.0,793.2 L1215.5,793.0 L1216.0,792.6 L1216.5,792.3 L1217.0,791.8 L1217.5,791.3 L1218.0,790.7 L1218.5,790.0 L1219.0,789.3 L1219.5,788.4 L1220.0,787.7 L1220.5,787.0 L1221.0,786.5 L1221.5,786.1 L1222.0,786.1 L1222.5,786.0 L1223.0,786.1 L1223.5,786.3 L1224.0,786.6 L1224.5,786.8 L1225.0,787.2 L1225.5,787.6 L1226.0,788.0 L1226.5,788.5 L1227.0,789.0 L1227.5,789.5 L1228.0,790.0 L1228.5,790.4 L1229.0,790.9 L1229.5,791.3 L1230.0,791.6 L1230.5,791.9 L1231.0,792.1 L1231.5,792.2 L1232.0,792.3 L1232.5,792.7 L1233.0,793.0 L1233.5,793.2 L1234.0,793.4 L1234.5,793.7 L1235.0,793.7 L1235.5,793.8 L1236.0,793.8 L1236.5,793.9 L1237.0,793.9 L1237.5,793.9 L1238.0,793.9 L1238.5,793.9 L1239.0,793.8 L1239.5,793.8 L1240.0,793.8 L1240.5,793.9 L1241.0,793.9 L1241.5,793.9 L1242.0,794.0 L1242.5,794.0 L1243.0,794.0 L1243.5,794.0 L1244.0,794.0 L1244.5,794.1 L1245.0,794.0 L1245.5,793.8 L1246.0,793.7 L1246.5,793.6 L1247.0,793.5 L1247.5,793.6 L1248.0,793.6 L1248.5,793.7 L1249.0,793.8 L1249.5,793.9 L1250.0,793.9 L1250.5,793.9 L1251.0,793.9 L1251.5,793.9 L1252.0,793.9 L1252.5,793.9 L1253.0,794.0 L1253.5,794.1 L1254.0,794.1 L1254.5,794.2 L1255.0,794.2 L1255.5,794.2 L1256.0,794.2 L1256.5,794.2 L1257.0,794.2 L1257.5,794.2 L1258.0,794.2 L1258.5,794.2 L1259.0,794.2 L1259.5,794.2 L1260.0,794.2 L1260.5,794.1 L1261.0,794.1 L1261.5,794.0 L1262.0,794.0 L1262.5,794.0 L1263.0,794.1 L1263.5,794.2 L1264.0,794.2 L1264.5,794.3 L1265.0,794.2 L1265.5,794.2 L1266.0,794.2 L1266.5,794.1 L1267.0,794.1 L1267.5,794.1 L1268.0,794.1 L1268.5,794.1 L1269.0,794.1 L1269.5,794.1 L1270.0,794.0 L1270.5,794.0 L1271.0,793.9 L1271.5,793.8 L1272.0,793.7 L1272.5,793.7 L1273.0,793.6 L1273.5,793.6 L1274.0,793.6 L1274.5,793.5 L1275.0,793.6 L1275.5,793.6 L1276.0,793.6" fill="none" stroke="#000000" stroke-width="4.7" stroke-linejoin="round" stroke-linecap="round"/>
<path d="M112.0,674.2 L112.5,674.2 L113.0,674.2 L113.5,674.2 L114.0,674.2 L114.5,674.2 L115.0,674.2 L115.5,674.2 L116.0,674.2 L116.5,674.2 L117.0,674.2 L117.5,674.3 L118.0,674.5 L118.5,674.6 L119.0,674.7 L119.5,674.8 L120.0,674.8 L120.5,674.7 L121.0,674.6 L121.5,674.5 L122.0,674.5 L122.5,674.4 L123.0,674.4 L123.5,674.3 L124.0,674.3 L124.5,674.2 L125.0,674.3 L125.5,674.5 L126.0,674.6 L126.5,674.7 L127.0,674.8 L127.5,674.9 L128.0,674.9 L128.5,674.9 L129.0,674.9 L129.5,674.9 L130.0,674.8 L130.5,674.7 L131.0,674.6 L131.5,674.5 L132.0,674.4 L132.5,674.4 L133.0,674.3 L133.5,674.3 L134.0,674.2 L134.5,674.1 L135.0,674.2 L135.5,674.2 L136.0,674.2 L136.5,674.2 L137.0,674.2 L137.5,674.2 L138.0,674.2 L138.5,674.1 L139.0,674.1 L139.5,674.1 L140.0,674.1 L140.5,674.2 L141.0,674.2 L141.5,674.3 L142.0,674.3 L142.5,674.3 L143.0,674.2 L143.5,674.2 L144.0,674.1 L144.5,674.1 L145.0,674.1 L145.5,674.2 L146.0,674.2 L146.5,674.2 L147.0,674.2 L147.5,674.2 L148.0,674.2 L148.5,674.2 L149.0,674.2 L149.5,674.2 L150.0,674.3 L150.5,674.4 L151.0,674.4 L151.5,674.5 L152.0,674.5 L152.5,674.6 L153.0,674.6 L153.5,674.7 L154.0,674.8 L154.5,674.8 L155.0,674.8 L155.5,674.8 L156.0,674.7 L156.5,674.7 L157.0,674.7 L157.5,674.6 L158.0,674.6 L158.5,674.5 L159.0,674.4 L159.5,674.4 L160.0,674.4 L160.5,674.4 L161.0,674.4 L161.5,674.4 L162.0,674.4 L162.5,674.4 L163.0,674.4 L163.5,674.4 L164.0,674.5 L164.5,674.5 L165.0,674.5 L165.5,674.4 L166.0,674.4 L166.5,674.4 L167.0,674.4 L167.5,674.3 L168.0,674.3 L168.5,674.3 L169.0,674.3 L169.5,674.3 L170.0,674.3 L170.5,674.2 L171.0,674.2 L171.5,674.1 L172.0,674.1 L172.5,674.1 L173.0,674.1 L173.5,674.2 L174.0,674.2 L174.5,674.3 L175.0,674.4 L175.5,674.5 L176.0,674.6 L176.5,674.8 L177.0,674.9 L177.5,674.7 L178.0,674.6 L178.5,674.4 L179.0,674.3 L179.5,674.1 L180.0,674.2 L180.5,674.3 L181.0,674.3 L181.5,674.4 L182.0,674.5 L182.5,674.5 L183.0,674.5 L183.5,674.5 L184.0,674.6 L184.5,674.6 L185.0,674.6 L185.5,674.7 L186.0,674.7 L186.5,674.7 L187.0,674.8 L187.5,674.7 L188.0,674.5 L188.5,674.4 L189.0,674.3 L189.5,674.2 L190.0,674.2 L190.5,674.2 L191.0,674.2 L191.5,674.2 L192.0,674.2 L192.5,674.2 L193.0,674.2 L193.5,674.2 L194.0,674.2 L194.5,674.2 L195.0,674.3 L195.5,674.3 L196.0,674.3 L196.5,674.3 L197.0,674.4 L197.5,674.4 L198.0,674.4 L198.5,674.4 L199.0,674.4 L199.5,674.4 L200.0,674.5 L200.5,674.6 L201.0,674.7 L201.5,674.8 L202.0,674.9 L202.5,674.8 L203.0,674.8 L203.5,674.8 L204.0,674.8 L204.5,674.8 L205.0,674.8 L205.5,674.8 L206.0,674.8 L206.5,674.8 L207.0,674.8 L207.5,674.6 L208.0,674.5 L208.5,674.3 L209.0,674.2 L209.5,674.0 L210.0,674.0 L210.5,674.0 L211.0,674.0 L211.5,674.0 L212.0,674.0 L212.5,674.1 L213.0,674.3 L213.5,674.4 L214.0,674.5 L214.5,674.6 L215.0,674.7 L215.5,674.7 L216.0,674.7 L216.5,674.8 L217.0,674.8 L217.5,674.7 L218.0,674.6 L218.5,674.6 L219.0,674.5 L219.5,674.4 L220.0,674.4 L220.5,674.5 L221.0,674.5 L221.5,674.5 L222.0,674.5 L222.5,674.4 L223.0,674.3 L223.5,674.2 L224.0,674.1 L224.5,674.0 L225.0,674.1 L225.5,674.1 L226.0,674.2 L226.5,674.3 L227.0,674.3 L227.5,674.4 L228.0,674.5 L228.5,674.6 L229.0,674.7 L229.5,674.8 L230.0,674.8 L230.5,674.8 L231.0,674.8 L231.5,674.7 L232.0,674.7 L232.5,674.7 L233.0,674.7 L233.5,674.7 L234.0,674.7 L234.5,674.7 L235.0,674.8 L235.5,674.8 L236.0,674.8 L236.5,674.8 L237.0,674.8 L237.5,674.7 L238.0,674.6 L238.5,674.5 L239.0,674.3 L239.5,674.2 L240.0,674.2 L240.5,674.1 L241.0,674.1 L241.5,674.1 L242.0,674.1 L242.5,674.1 L243.0,674.1 L243.5,674.1 L244.0,674.1 L244.5,674.1 L245.0,674.2 L245.5,674.2 L246.0,674.3 L246.5,674.4 L247.0,674.4 L247.5,674.5 L248.0,674.5 L248.5,674.5 L249.0,674.5 L249.5,674.6 L250.0,674.6 L250.5,674.7 L251.0,674.7 L251.5,674.7 L252.0,674.8 L252.5,674.8 L253.0,674.7 L253.5,674.7 L254.0,674.6 L254.5,674.6 L255.0,674.6 L255.5,674.6 L256.0,674.5 L256.5,674.5 L257.0,674.5 L257.5,674.5 L258.0,674.6 L258.5,674.6 L259.0,674.6 L259.5,674.6 L260.0,674.6 L260.5,674.5 L261.0,674.4 L261.5,674.4 L262.0,674.3 L262.5,674.3 L263.0,674.3 L263.5,674.4 L264.0,674.4 L264.5,674.4 L265.0,674.3 L265.5,674.2 L266.0,674.1 L266.5,674.0 L267.0,673.9 L267.5,674.0 L268.0,674.2 L268.5,674.3 L269.0,674.4 L269.5,674.6 L270.0,674.5 L270.5,674.4 L271.0,674.2 L271.5,674.1 L272.0,674.0 L272.5,674.2 L273.0,674.3 L273.5,674.4 L274.0,674.5 L274.5,674.6 L275.0,674.6 L275.5,674.5 L276.0,674.4 L276.5,674.4 L277.0,674.3 L277.5,674.2 L278.0,674.2 L278.5,674.1 L279.0,674.0 L279.5,673.9 L280.0,673.9 L280.5,673.8 L281.0,673.8 L281.5,673.7 L282.0,673.7 L282.5,673.6 L283.0,673.6 L283.5,673.6 L284.0,673.6 L284.5,673.6 L285.0,673.6 L285.5,673.6 L286.0,673.6 L286.5,673.6 L287.0,673.6 L287.5,673.5 L288.0,673.3 L288.5,673.2 L289.0,673.0 L289.5,672.8 L290.0,672.4 L290.5,671.9 L291.0,671.3 L291.5,670.5 L292.0,669.5 L292.5,668.4 L293.0,666.8 L293.5,664.9 L294.0,662.6 L294.5,660.0 L295.0,657.3 L295.5,655.0 L296.0,653.6 L296.5,653.5 L297.0,654.5 L297.5,656.2 L298.0,658.3 L298.5,660.6 L299.0,662.8 L299.5,664.8 L300.0,666.4 L300.5,667.8 L301.0,669.0 L301.5,669.9 L302.0,670.6 L302.5,671.2 L303.0,671.6 L303.5,671.9 L304.0,672.2 L304.5,672.4 L305.0,672.6 L305.5,672.9 L306.0,673.1 L306.5,673.2 L307.0,673.4 L307.5,673.4 L308.0,673.4 L308.5,673.3 L309.0,673.3 L309.5,673.2 L310.0,673.3 L310.5,673.4 L311.0,673.5 L311.5,673.6 L312.0,673.7 L312.5,673.7 L313.0,673.8 L313.5,673.9 L314.0,673.9 L314.5,674.0 L315.0,674.1 L315.5,674.2 L316.0,674.3 L316.5,674.4 L317.0,674.5 L317.5,674.4 L318.0,674.4 L318.5,674.4 L319.0,674.3 L319.5,674.3 L320.0,674.3 L320.5,674.4 L321.0,674.4 L321.5,674.5 L322.0,674.5 L322.5,674.4 L323.0,674.4 L323.5,674.3 L324.0,674.2 L324.5,674.2 L325.0,674.1 L325.5,674.1 L326.0,674.1 L326.5,674.0 L327.0,674.0 L327.5,674.0 L328.0,674.0 L328.5,674.0 L329.0,674.0 L329.5,674.0 L330.0,674.1 L330.5,674.3 L331.0,674.4 L331.5,674.5 L332.0,674.6 L332.5,674.6 L333.0,674.6 L333.5,674.5 L334.0,674.5 L334.5,674.4 L335.0,674.4 L335.5,674.3 L336.0,674.2 L336.5,674.1 L337.0,674.1 L337.5,674.0 L338.0,674.0 L338.5,673.9 L339.0,673.9 L339.5,673.8 L340.0,673.9 L340.5,674.0 L341.0,674.1 L341.5,674.1 L342.0,674.2 L342.5,674.3 L343.0,674.3 L343.5,674.3 L344.0,674.3 L344.5,674.4 L345.0,674.3 L345.5,674.3 L346.0,674.2 L346.5,674.2 L347.0,674.1 L347.5,674.1 L348.0,674.1 L348.5,674.0 L349.0,674.0 L349.5,674.0 L350.0,674.0 L350.5,674.1 L351.0,674.2 L351.5,674.2 L352.0,674.3 L352.5,674.3 L353.0,674.4 L353.5,674.4 L354.0,674.4 L354.5,674.5 L355.0,674.3 L355.5,674.2 L356.0,674.0 L356.5,673.9 L357.0,673.7 L357.5,673.6 L358.0,673.5 L358.5,673.4 L359.0,673.3 L359.5,673.1 L360.0,673.0 L360.5,672.8 L361.0,672.6 L361.5,672.3 L362.0,671.9 L362.5,671.5 L363.0,671.0 L363.5,670.6 L364.0,670.2 L364.5,669.9 L365.0,669.9 L365.5,670.0 L366.0,670.3 L366.5,670.8 L367.0,671.3 L367.5,671.6 L368.0,672.0 L368.5,672.3 L369.0,672.5 L369.5,672.7 L370.0,673.1 L370.5,673.3 L371.0,673.6 L371.5,673.8 L372.0,674.0 L372.5,674.0 L373.0,674.0 L373.5,674.0 L374.0,674.0 L374.5,674.0 L375.0,674.0 L375.5,674.0 L376.0,673.9 L376.5,673.9 L377.0,673.8 L377.5,673.8 L378.0,673.7 L378.5,673.6 L379.0,673.6 L379.5,673.5 L380.0,673.6 L380.5,673.7 L381.0,673.8 L381.5,673.9 L382.0,674.0 L382.5,673.8 L383.0,673.6 L383.5,673.4 L384.0,673.1 L384.5,672.8 L385.0,672.6 L385.5,672.4 L386.0,672.1 L386.5,671.7 L387.0,671.2 L387.5,670.5 L388.0,669.7 L388.5,669.0 L389.0,668.3 L389.5,667.8 L390.0,667.7 L390.5,667.8 L391.0,668.1 L391.5,668.6 L392.0,669.2 L392.5,669.9 L393.0,670.6 L393.5,671.2 L394.0,671.7 L394.5,672.1 L395.0,672.2 L395.5,672.2 L396.0,672.2 L396.5,672.0 L397.0,671.8 L397.5,671.7 L398.0,671.6 L398.5,671.5 L399.0,671.4 L399.5,671.4 L400.0,671.2 L400.5,671.2 L401.0,671.3 L401.5,671.4 L402.0,671.6 L402.5,671.8 L403.0,672.0 L403.5,672.1 L404.0,672.3 L404.5,672.4 L405.0,672.5 L405.5,672.6 L406.0,672.6 L406.5,672.6 L407.0,672.7 L407.5,672.7 L408.0,672.7 L408.5,672.7 L409.0,672.7 L409.5,672.8 L410.0,672.8 L410.5,672.8 L411.0,672.8 L411.5,672.8 L412.0,672.7 L412.5,672.7 L413.0,672.7 L413.5,672.7 L414.0,672.7 L414.5,672.7 L415.0,672.4 L415.5,672.2 L416.0,671.9 L416.5,671.7 L417.0,671.4 L417.5,671.4 L418.0,671.3 L418.5,671.2 L419.0,671.0 L419.5,670.9 L420.0,670.7 L420.5,670.4 L421.0,670.1 L421.5,669.8 L422.0,669.4 L422.5,669.1 L423.0,668.6 L423.5,668.1 L424.0,667.4 L424.5,666.4 L425.0,664.9 L425.5,663.0 L426.0,660.7 L426.5,657.9 L427.0,654.3 L427.5,650.2 L428.0,645.2 L428.5,639.1 L429.0,632.0 L429.5,623.7 L430.0,614.2 L430.5,603.5 L431.0,591.6 L431.5,578.5 L432.0,564.6 L432.5,550.0 L433.0,535.0 L433.5,519.9 L434.0,505.2 L434.5,491.3 L435.0,478.4 L435.5,466.4 L436.0,451.7 L436.5,425.0 L437.0,401.6 L437.5,425.0 L438.0,451.9 L438.5,466.7 L439.0,478.8 L439.5,491.7 L440.0,505.7 L440.5,520.4 L441.0,535.5 L441.5,550.6 L442.0,565.2 L442.5,579.2 L443.0,592.3 L443.5,604.2 L444.0,615.0 L444.5,624.6 L445.0,632.8 L445.5,639.9 L446.0,645.9 L446.5,650.9 L447.0,655.0 L447.5,658.3 L448.0,660.9 L448.5,663.0 L449.0,664.6 L449.5,665.9 L450.0,666.9 L450.5,667.7 L451.0,668.4 L451.5,668.9 L452.0,669.3 L452.5,669.8 L453.0,670.3 L453.5,670.7 L454.0,671.1 L454.5,671.4 L455.0,671.5 L455.5,671.7 L456.0,671.8 L456.5,671.9 L457.0,672.0 L457.5,672.0 L458.0,672.0 L458.5,671.9 L459.0,671.9 L459.5,671.9 L460.0,672.1 L460.5,672.3 L461.0,672.4 L461.5,672.6 L462.0,672.8 L462.5,672.8 L463.0,672.8 L463.5,672.8 L464.0,672.8 L464.5,672.8 L465.0,672.9 L465.5,672.9 L466.0,672.9 L466.5,673.0 L467.0,673.0 L467.5,673.0 L468.0,673.1 L468.5,673.1 L469.0,673.1 L469.5,673.1 L470.0,673.1 L470.5,673.1 L471.0,673.1 L471.5,673.1 L472.0,673.1 L472.5,673.1 L473.0,673.0 L473.5,673.0 L474.0,673.0 L474.5,672.9 L475.0,673.0 L475.5,673.0 L476.0,673.0 L476.5,673.1 L477.0,673.0 L477.5,673.0 L478.0,672.9 L478.5,672.8 L479.0,672.7 L479.5,672.6 L480.0,672.6 L480.5,672.5 L481.0,672.5 L481.5,672.4 L482.0,672.4 L482.5,672.1 L483.0,671.9 L483.5,671.7 L484.0,671.5 L484.5,671.4 L485.0,671.7 L485.5,672.0 L486.0,672.3 L486.5,672.7 L487.0,673.0 L487.5,673.0 L488.0,673.1 L488.5,673.1 L489.0,673.1 L489.5,673.1 L490.0,673.2 L490.5,673.3 L491.0,673.4 L491.5,673.5 L492.0,673.6 L492.5,673.7 L493.0,673.8 L493.5,673.9 L494.0,674.0 L494.5,674.1 L495.0,674.1 L495.5,674.2 L496.0,674.2 L496.5,674.2 L497.0,674.2 L497.5,674.1 L498.0,674.1 L498.5,674.0 L499.0,673.9 L499.5,673.9 L500.0,673.8 L500.5,673.7 L501.0,673.7 L501.5,673.6 L502.0,673.5 L502.5,673.6 L503.0,673.7 L503.5,673.8 L504.0,673.9 L504.5,673.9 L505.0,673.9 L505.5,673.9 L506.0,673.9 L506.5,673.9 L507.0,673.8 L507.5,673.9 L508.0,674.0 L508.5,674.1 L509.0,674.2 L509.5,674.3 L510.0,674.2 L510.5,674.0 L511.0,673.9 L511.5,673.8 L512.0,673.6 L512.5,673.7 L513.0,673.7 L513.5,673.7 L514.0,673.7 L514.5,673.7 L515.0,673.8 L515.5,673.8 L516.0,673.8 L516.5,673.9 L517.0,673.9 L517.5,673.6 L518.0,673.3 L518.5,673.0 L519.0,672.7 L519.5,672.3 L520.0,672.2 L520.5,672.2 L521.0,672.2 L521.5,672.2 L522.0,672.3 L522.5,672.5 L523.0,672.7 L523.5,672.9 L524.0,673.2 L524.5,673.4 L525.0,673.5 L525.5,673.6 L526.0,673.6 L526.5,673.7 L527.0,673.7 L527.5,673.6 L528.0,673.4 L528.5,673.3 L529.0,673.2 L529.5,673.0 L530.0,673.0 L530.5,672.9 L531.0,672.9 L531.5,672.9 L532.0,672.8 L532.5,672.8 L533.0,672.7 L533.5,672.6 L534.0,672.6 L534.5,672.5 L535.0,672.5 L535.5,672.6 L536.0,672.6 L536.5,672.6 L537.0,672.6 L537.5,672.3 L538.0,671.9 L538.5,671.5 L539.0,671.1 L539.5,670.5 L540.0,670.1 L540.5,669.6 L541.0,668.8 L541.5,667.9 L542.0,666.6 L542.5,665.0 L543.0,662.9 L543.5,660.4 L544.0,657.5 L544.5,654.2 L545.0,650.5 L545.5,646.7 L546.0,643.4 L546.5,641.0 L547.0,640.1 L547.5,640.9 L548.0,643.2 L548.5,646.4 L549.0,650.0 L549.5,653.6 L550.0,657.1 L550.5,660.2 L551.0,662.8 L551.5,665.0 L552.0,666.8 L552.5,668.1 L553.0,669.1 L553.5,669.8 L554.0,670.4 L554.5,670.8 L555.0,671.2 L555.5,671.5 L556.0,671.7 L556.5,671.8 L557.0,672.0 L557.5,672.2 L558.0,672.4 L558.5,672.7 L559.0,672.9 L559.5,673.0 L560.0,673.1 L560.5,673.1 L561.0,673.1 L561.5,673.1 L562.0,673.0 L562.5,673.1 L563.0,673.1 L563.5,673.2 L564.0,673.2 L564.5,673.2 L565.0,673.2 L565.5,673.2 L566.0,673.2 L566.5,673.2 L567.0,673.1 L567.5,673.3 L568.0,673.4 L568.5,673.6 L569.0,673.7 L569.5,673.9 L570.0,673.9 L570.5,674.0 L571.0,674.0 L571.5,674.1 L572.0,674.1 L572.5,674.1 L573.0,674.0 L573.5,674.0 L574.0,673.9 L574.5,673.9 L575.0,673.9 L575.5,674.0 L576.0,674.1 L576.5,674.1 L577.0,674.2 L577.5,674.0 L578.0,673.9 L578.5,673.7 L579.0,673.5 L579.5,673.4 L580.0,673.4 L580.5,673.4 L581.0,673.5 L581.5,673.5 L582.0,673.5 L582.5,673.6 L583.0,673.6 L583.5,673.7 L584.0,673.7 L584.5,673.7 L585.0,673.8 L585.5,673.9 L586.0,674.0 L586.5,674.1 L587.0,674.2 L587.5,674.1 L588.0,674.1 L588.5,674.1 L589.0,674.1 L589.5,674.1 L590.0,674.0 L590.5,673.9 L591.0,673.8 L591.5,673.7 L592.0,673.6 L592.5,673.5 L593.0,673.5 L593.5,673.5 L594.0,673.4 L594.5,673.4 L595.0,673.4 L595.5,673.4 L596.0,673.5 L596.5,673.5 L597.0,673.5 L597.5,673.5 L598.0,673.5 L598.5,673.5 L599.0,673.5 L599.5,673.5 L600.0,673.5 L600.5,673.6 L601.0,673.6 L601.5,673.7 L602.0,673.8 L602.5,673.6 L603.0,673.5 L603.5,673.3 L604.0,673.1 L604.5,673.0 L605.0,673.1 L605.5,673.1 L606.0,673.2 L606.5,673.3 L607.0,673.4 L607.5,673.3 L608.0,673.3 L608.5,673.3 L609.0,673.2 L609.5,673.2 L610.0,673.1 L610.5,673.1 L611.0,673.1 L611.5,673.0 L612.0,673.0 L612.5,673.0 L613.0,672.9 L613.5,672.8 L614.0,672.8 L614.5,672.7 L615.0,672.6 L615.5,672.5 L616.0,672.4 L616.5,672.3 L617.0,672.2 L617.5,672.0 L618.0,671.9 L618.5,671.8 L619.0,671.6 L619.5,671.5 L620.0,671.3 L620.5,671.2 L621.0,671.1 L621.5,671.0 L622.0,670.8 L622.5,670.7 L623.0,670.5 L623.5,670.3 L624.0,670.2 L624.5,670.0 L625.0,669.8 L625.5,669.6 L626.0,669.5 L626.5,669.2 L627.0,669.0 L627.5,668.5 L628.0,668.0 L628.5,667.5 L629.0,666.9 L629.5,666.2 L630.0,665.6 L630.5,664.9 L631.0,664.2 L631.5,663.3 L632.0,662.3 L632.5,661.2 L633.0,660.0 L633.5,658.6 L634.0,657.0 L634.5,655.2 L635.0,653.0 L635.5,650.6 L636.0,647.9 L636.5,644.9 L637.0,641.7 L637.5,638.3 L638.0,634.6 L638.5,630.7 L639.0,626.7 L639.5,622.6 L640.0,618.5 L640.5,614.6 L641.0,610.9 L641.5,607.6 L642.0,605.0 L642.5,603.3 L643.0,602.5 L643.5,603.5 L644.0,609.2 L644.5,618.1 L645.0,627.7 L645.5,636.8 L646.0,644.7 L646.5,651.1 L647.0,656.1 L647.5,660.1 L648.0,663.1 L648.5,665.3 L649.0,667.0 L649.5,668.3 L650.0,669.1 L650.5,669.8 L651.0,670.4 L651.5,670.8 L652.0,671.2 L652.5,671.6 L653.0,671.9 L653.5,672.2 L654.0,672.4 L654.5,672.6 L655.0,672.7 L655.5,672.7 L656.0,672.7 L656.5,672.7 L657.0,672.7 L657.5,672.7 L658.0,672.8 L658.5,672.8 L659.0,672.9 L659.5,672.9 L660.0,673.0 L660.5,673.0 L661.0,673.1 L661.5,673.1 L662.0,673.2 L662.5,673.3 L663.0,673.4 L663.5,673.5 L664.0,673.6 L664.5,673.7 L665.0,673.8 L665.5,673.8 L666.0,673.9 L666.5,673.9 L667.0,674.0 L667.5,674.0 L668.0,673.9 L668.5,673.9 L669.0,673.9 L669.5,673.8 L670.0,673.8 L670.5,673.8 L671.0,673.8 L671.5,673.7 L672.0,673.7 L672.5,673.7 L673.0,673.8 L673.5,673.8 L674.0,673.9 L674.5,673.9 L675.0,673.9 L675.5,674.0 L676.0,674.0 L676.5,674.0 L677.0,674.1 L677.5,674.1 L678.0,674.1 L678.5,674.1 L679.0,674.0 L679.5,674.0 L680.0,674.0 L680.5,673.9 L681.0,673.9 L681.5,673.8 L682.0,673.7 L682.5,673.5 L683.0,673.4 L683.5,673.2 L684.0,673.0 L684.5,672.8 L685.0,672.6 L685.5,672.4 L686.0,672.3 L686.5,672.3 L687.0,672.4 L687.5,672.5 L688.0,672.6 L688.5,672.7 L689.0,672.9 L689.5,672.9 L690.0,673.2 L690.5,673.5 L691.0,673.7 L691.5,673.9 L692.0,674.1 L692.5,674.1 L693.0,674.0 L693.5,673.9 L694.0,673.8 L694.5,673.8 L695.0,673.8 L695.5,673.9 L696.0,673.9 L696.5,674.0 L697.0,674.0 L697.5,674.0 L698.0,673.9 L698.5,673.9 L699.0,673.9 L699.5,673.8 L700.0,673.9 L700.5,673.9 L701.0,674.0 L701.5,674.1 L702.0,674.1 L702.5,674.0 L703.0,673.9 L703.5,673.8 L704.0,673.7 L704.5,673.5 L705.0,673.5 L705.5,673.5 L706.0,673.5 L706.5,673.5 L707.0,673.5 L707.5,673.4 L708.0,673.4 L708.5,673.4 L709.0,673.3 L709.5,673.3 L710.0,673.2 L710.5,673.1 L711.0,673.0 L711.5,672.9 L712.0,672.8 L712.5,672.8 L713.0,672.8 L713.5,672.9 L714.0,672.8 L714.5,672.8 L715.0,672.6 L715.5,672.4 L716.0,672.1 L716.5,671.9 L717.0,671.6 L717.5,671.3 L718.0,671.0 L718.5,670.7 L719.0,670.3 L719.5,670.0 L720.0,669.7 L720.5,669.4 L721.0,669.0 L721.5,668.7 L722.0,668.4 L722.5,668.1 L723.0,667.9 L723.5,667.7 L724.0,667.5 L724.5,667.3 L725.0,667.0 L725.5,666.6 L726.0,666.4 L726.5,666.2 L727.0,666.0 L727.5,665.9 L728.0,666.0 L728.5,666.5 L729.0,667.2 L729.5,668.1 L730.0,669.1 L730.5,670.1 L731.0,670.9 L731.5,671.7 L732.0,672.4 L732.5,672.8 L733.0,673.1 L733.5,673.3 L734.0,673.5 L734.5,673.6 L735.0,673.8 L735.5,673.9 L736.0,674.1 L736.5,674.2 L737.0,674.3 L737.5,674.1 L738.0,674.0 L738.5,673.9 L739.0,673.7 L739.5,673.6 L740.0,673.7 L740.5,673.7 L741.0,673.8 L741.5,673.9 L742.0,674.0 L742.5,674.0 L743.0,674.1 L743.5,674.2 L744.0,674.2 L744.5,674.3 L745.0,674.3 L745.5,674.3 L746.0,674.3 L746.5,674.3 L747.0,674.3 L747.5,674.3 L748.0,674.3 L748.5,674.3 L749.0,674.4 L749.5,674.4 L750.0,674.2 L750.5,674.0 L751.0,673.9 L751.5,673.7 L752.0,673.6 L752.5,673.6 L753.0,673.6 L753.5,673.7 L754.0,673.7 L754.5,673.7 L755.0,673.7 L755.5,673.7 L756.0,673.6 L756.5,673.6 L757.0,673.5 L757.5,673.5 L758.0,673.6 L758.5,673.6 L759.0,673.6 L759.5,673.6 L760.0,673.7 L760.5,673.8 L761.0,673.9 L761.5,674.1 L762.0,674.2 L762.5,674.1 L763.0,674.0 L763.5,673.9 L764.0,673.8 L764.5,673.8 L765.0,673.8 L765.5,673.8 L766.0,673.9 L766.5,673.9 L767.0,674.0 L767.5,673.8 L768.0,673.7 L768.5,673.6 L769.0,673.5 L769.5,673.3 L770.0,673.4 L770.5,673.5 L771.0,673.5 L771.5,673.6 L772.0,673.6 L772.5,673.5 L773.0,673.4 L773.5,673.3 L774.0,673.2 L774.5,673.1 L775.0,673.0 L775.5,672.9 L776.0,672.8 L776.5,672.8 L777.0,672.7 L777.5,672.7 L778.0,672.8 L778.5,672.8 L779.0,672.8 L779.5,672.9 L780.0,672.8 L780.5,672.8 L781.0,672.7 L781.5,672.7 L782.0,672.6 L782.5,672.4 L783.0,672.1 L783.5,671.9 L784.0,671.6 L784.5,671.4 L785.0,671.3 L785.5,671.3 L786.0,671.2 L786.5,671.2 L787.0,671.1 L787.5,670.9 L788.0,670.7 L788.5,670.5 L789.0,670.3 L789.5,670.0 L790.0,669.6 L790.5,669.2 L791.0,668.8 L791.5,668.3 L792.0,667.7 L792.5,667.2 L793.0,666.5 L793.5,665.8 L794.0,665.0 L794.5,664.0 L795.0,662.8 L795.5,661.5 L796.0,660.0 L796.5,658.3 L797.0,656.4 L797.5,654.3 L798.0,652.0 L798.5,649.4 L799.0,646.6 L799.5,643.6 L800.0,640.3 L800.5,636.8 L801.0,633.1 L801.5,629.3 L802.0,625.3 L802.5,621.3 L803.0,617.3 L803.5,613.3 L804.0,609.6 L804.5,606.1 L805.0,603.0 L805.5,600.4 L806.0,598.4 L806.5,597.2 L807.0,596.8 L807.5,597.5 L808.0,599.7 L808.5,603.1 L809.0,607.5 L809.5,612.5 L810.0,618.0 L810.5,623.5 L811.0,629.0 L811.5,634.2 L812.0,639.1 L812.5,643.7 L813.0,647.9 L813.5,651.6 L814.0,654.8 L814.5,657.6 L815.0,660.0 L815.5,662.1 L816.0,663.8 L816.5,665.2 L817.0,666.5 L817.5,667.3 L818.0,668.0 L818.5,668.6 L819.0,669.0 L819.5,669.4 L820.0,669.8 L820.5,670.2 L821.0,670.5 L821.5,670.8 L822.0,671.0 L822.5,671.2 L823.0,671.4 L823.5,671.5 L824.0,671.7 L824.5,671.8 L825.0,672.0 L825.5,672.2 L826.0,672.5 L826.5,672.7 L827.0,672.9 L827.5,672.9 L828.0,673.0 L828.5,673.0 L829.0,673.0 L829.5,673.0 L830.0,673.0 L830.5,673.0 L831.0,673.0 L831.5,672.9 L832.0,672.9 L832.5,673.0 L833.0,673.0 L833.5,673.1 L834.0,673.1 L834.5,673.1 L835.0,673.2 L835.5,673.3 L836.0,673.4 L836.5,673.5 L837.0,673.6 L837.5,673.6 L838.0,673.7 L838.5,673.7 L839.0,673.8 L839.5,673.8 L840.0,673.9 L840.5,673.9 L841.0,674.0 L841.5,674.0 L842.0,674.0 L842.5,673.9 L843.0,673.9 L843.5,673.8 L844.0,673.7 L844.5,673.6 L845.0,673.6 L845.5,673.7 L846.0,673.7 L846.5,673.7 L847.0,673.7 L847.5,673.9 L848.0,674.0 L848.5,674.1 L849.0,674.2 L849.5,674.3 L850.0,674.2 L850.5,674.2 L851.0,674.2 L851.5,674.1 L852.0,674.1 L852.5,674.1 L853.0,674.0 L853.5,674.0 L854.0,674.0 L854.5,674.0 L855.0,674.0 L855.5,674.0 L856.0,674.0 L856.5,674.0 L857.0,674.0 L857.5,674.2 L858.0,674.3 L858.5,674.4 L859.0,674.5 L859.5,674.7 L860.0,674.5 L860.5,674.4 L861.0,674.3 L861.5,674.2 L862.0,674.1 L862.5,674.2 L863.0,674.2 L863.5,674.2 L864.0,674.3 L864.5,674.3 L865.0,674.3 L865.5,674.3 L866.0,674.2 L866.5,674.2 L867.0,674.2 L867.5,674.2 L868.0,674.2 L868.5,674.2 L869.0,674.2 L869.5,674.2 L870.0,674.3 L870.5,674.4 L871.0,674.5 L871.5,674.6 L872.0,674.7 L872.5,674.7 L873.0,674.7 L873.5,674.7 L874.0,674.8 L874.5,674.8 L875.0,674.7 L875.5,674.5 L876.0,674.4 L876.5,674.3 L877.0,674.2 L877.5,674.2 L878.0,674.2 L878.5,674.1 L879.0,674.1 L879.5,674.1 L880.0,674.2 L880.5,674.3 L881.0,674.3 L881.5,674.4 L882.0,674.5 L882.5,674.4 L883.0,674.3 L883.5,674.3 L884.0,674.2 L884.5,674.1 L885.0,674.0 L885.5,674.0 L886.0,674.0 L886.5,673.9 L887.0,673.9 L887.5,674.0 L888.0,674.2 L888.5,674.4 L889.0,674.5 L889.5,674.7 L890.0,674.6 L890.5,674.5 L891.0,674.4 L891.5,674.3 L892.0,674.2 L892.5,674.3 L893.0,674.4 L893.5,674.4 L894.0,674.5 L894.5,674.6 L895.0,674.5 L895.5,674.4 L896.0,674.3 L896.5,674.3 L897.0,674.2 L897.5,674.3 L898.0,674.4 L898.5,674.4 L899.0,674.5 L899.5,674.6 L900.0,674.5 L900.5,674.4 L901.0,674.4 L901.5,674.3 L902.0,674.2 L902.5,674.1 L903.0,674.1 L903.5,674.0 L904.0,674.0 L904.5,673.9 L905.0,673.9 L905.5,673.8 L906.0,673.8 L906.5,673.8 L907.0,673.7 L907.5,673.8 L908.0,673.9 L908.5,674.0 L909.0,674.1 L909.5,674.2 L910.0,674.2 L910.5,674.2 L911.0,674.2 L911.5,674.2 L912.0,674.2 L912.5,674.2 L913.0,674.3 L913.5,674.3 L914.0,674.3 L914.5,674.4 L915.0,674.2 L915.5,674.0 L916.0,673.9 L916.5,673.7 L917.0,673.5 L917.5,673.6 L918.0,673.7 L918.5,673.8 L919.0,673.9 L919.5,673.9 L920.0,673.9 L920.5,673.8 L921.0,673.7 L921.5,673.7 L922.0,673.6 L922.5,673.6 L923.0,673.6 L923.5,673.6 L924.0,673.6 L924.5,673.6 L925.0,673.5 L925.5,673.4 L926.0,673.3 L926.5,673.2 L927.0,673.1 L927.5,673.0 L928.0,673.0 L928.5,673.0 L929.0,673.0 L929.5,672.9 L930.0,672.9 L930.5,672.9 L931.0,672.9 L931.5,672.9 L932.0,672.8 L932.5,672.8 L933.0,672.8 L933.5,672.8 L934.0,672.8 L934.5,672.8 L935.0,672.5 L935.5,672.2 L936.0,672.0 L936.5,671.7 L937.0,671.4 L937.5,671.3 L938.0,671.2 L938.5,671.1 L939.0,671.0 L939.5,670.9 L940.0,670.7 L940.5,670.5 L941.0,670.3 L941.5,670.1 L942.0,669.8 L942.5,669.5 L943.0,669.1 L943.5,668.7 L944.0,668.3 L944.5,667.8 L945.0,667.1 L945.5,666.4 L946.0,665.6 L946.5,664.8 L947.0,663.9 L947.5,663.0 L948.0,662.2 L948.5,661.2 L949.0,660.2 L949.5,659.2 L950.0,658.2 L950.5,657.3 L951.0,656.3 L951.5,655.4 L952.0,654.5 L952.5,653.6 L953.0,652.8 L953.5,652.1 L954.0,651.7 L954.5,651.4 L955.0,651.4 L955.5,652.1 L956.0,653.5 L956.5,655.5 L957.0,657.5 L957.5,659.6 L958.0,661.5 L958.5,663.2 L959.0,664.7 L959.5,666.0 L960.0,667.3 L960.5,668.4 L961.0,669.3 L961.5,670.1 L962.0,670.8 L962.5,671.2 L963.0,671.5 L963.5,671.8 L964.0,672.0 L964.5,672.1 L965.0,672.4 L965.5,672.7 L966.0,673.0 L966.5,673.2 L967.0,673.4 L967.5,673.5 L968.0,673.5 L968.5,673.6 L969.0,673.6 L969.5,673.6 L970.0,673.7 L970.5,673.8 L971.0,673.9 L971.5,674.0 L972.0,674.1 L972.5,674.0 L973.0,674.0 L973.5,673.9 L974.0,673.8 L974.5,673.7 L975.0,673.9 L975.5,674.0 L976.0,674.1 L976.5,674.3 L977.0,674.4 L977.5,674.3 L978.0,674.3 L978.5,674.2 L979.0,674.1 L979.5,674.0 L980.0,674.1 L980.5,674.1 L981.0,674.1 L981.5,674.2 L982.0,674.2 L982.5,674.3 L983.0,674.4 L983.5,674.5 L984.0,674.6 L984.5,674.7 L985.0,674.7 L985.5,674.7 L986.0,674.7 L986.5,674.7 L987.0,674.7 L987.5,674.6 L988.0,674.5 L988.5,674.4 L989.0,674.3 L989.5,674.2 L990.0,674.2 L990.5,674.2 L991.0,674.2 L991.5,674.2 L992.0,674.2 L992.5,674.3 L993.0,674.3 L993.5,674.3 L994.0,674.4 L994.5,674.4 L995.0,674.4 L995.5,674.4 L996.0,674.5 L996.5,674.5 L997.0,674.5 L997.5,674.5 L998.0,674.5 L998.5,674.4 L999.0,674.4 L999.5,674.4 L1000.0,674.4 L1000.5,674.3 L1001.0,674.3 L1001.5,674.2 L1002.0,674.2 L1002.5,674.2 L1003.0,674.2 L1003.5,674.2 L1004.0,674.3 L1004.5,674.3 L1005.0,674.4 L1005.5,674.4 L1006.0,674.5 L1006.5,674.6 L1007.0,674.7 L1007.5,674.7 L1008.0,674.7 L1008.5,674.8 L1009.0,674.8 L1009.5,674.8 L1010.0,674.6 L1010.5,674.5 L1011.0,674.3 L1011.5,674.2 L1012.0,674.0 L1012.5,674.1 L1013.0,674.1 L1013.5,674.2 L1014.0,674.2 L1014.5,674.3 L1015.0,674.3 L1015.5,674.2 L1016.0,674.2 L1016.5,674.1 L1017.0,674.0 L1017.5,673.7 L1018.0,673.4 L1018.5,673.1 L1019.0,672.8 L1019.5,672.4 L1020.0,672.3 L1020.5,672.2 L1021.0,672.1 L1021.5,672.0 L1022.0,672.0 L1022.5,671.7 L1023.0,671.5 L1023.5,671.5 L1024.0,671.4 L1024.5,671.5 L1025.0,671.8 L1025.5,672.1 L1026.0,672.5 L1026.5,672.8 L1027.0,673.1 L1027.5,673.3 L1028.0,673.5 L1028.5,673.7 L1029.0,673.8 L1029.5,673.9 L1030.0,674.1 L1030.5,674.1 L1031.0,674.2 L1031.5,674.3 L1032.0,674.4 L1032.5,674.3 L1033.0,674.3 L1033.5,674.3 L1034.0,674.2 L1034.5,674.2 L1035.0,674.2 L1035.5,674.2 L1036.0,674.3 L1036.5,674.3 L1037.0,674.3 L1037.5,674.4 L1038.0,674.4 L1038.5,674.4 L1039.0,674.5 L1039.5,674.5 L1040.0,674.5 L1040.5,674.4 L1041.0,674.4 L1041.5,674.4 L1042.0,674.3 L1042.5,674.4 L1043.0,674.4 L1043.5,674.5 L1044.0,674.5 L1044.5,674.5 L1045.0,674.5 L1045.5,674.5 L1046.0,674.4 L1046.5,674.4 L1047.0,674.3 L1047.5,674.3 L1048.0,674.3 L1048.5,674.3 L1049.0,674.3 L1049.5,674.3 L1050.0,674.2 L1050.5,674.1 L1051.0,674.0 L1051.5,673.9 L1052.0,673.9 L1052.5,674.0 L1053.0,674.1 L1053.5,674.2 L1054.0,674.3 L1054.5,674.3 L1055.0,674.3 L1055.5,674.3 L1056.0,674.2 L1056.5,674.2 L1057.0,674.2 L1057.5,674.1 L1058.0,674.0 L1058.5,674.0 L1059.0,673.9 L1059.5,673.8 L1060.0,673.9 L1060.5,674.0 L1061.0,674.1 L1061.5,674.1 L1062.0,674.2 L1062.5,674.2 L1063.0,674.2 L1063.5,674.1 L1064.0,674.1 L1064.5,674.1 L1065.0,674.0 L1065.5,673.9 L1066.0,673.8 L1066.5,673.7 L1067.0,673.6 L1067.5,673.5 L1068.0,673.4 L1068.5,673.3 L1069.0,673.2 L1069.5,673.1 L1070.0,673.1 L1070.5,673.1 L1071.0,673.0 L1071.5,673.0 L1072.0,673.0 L1072.5,672.8 L1073.0,672.7 L1073.5,672.5 L1074.0,672.3 L1074.5,672.1 L1075.0,672.0 L1075.5,671.9 L1076.0,671.7 L1076.5,671.6 L1077.0,671.4 L1077.5,671.2 L1078.0,671.1 L1078.5,670.9 L1079.0,670.6 L1079.5,670.4 L1080.0,670.0 L1080.5,669.6 L1081.0,669.1 L1081.5,668.6 L1082.0,668.0 L1082.5,667.5 L1083.0,667.0 L1083.5,666.3 L1084.0,665.6 L1084.5,664.9 L1085.0,664.0 L1085.5,663.0 L1086.0,662.0 L1086.5,660.9 L1087.0,659.8 L1087.5,658.5 L1088.0,657.2 L1088.5,655.9 L1089.0,654.7 L1089.5,653.7 L1090.0,653.0 L1090.5,652.6 L1091.0,652.4 L1091.5,652.7 L1092.0,653.6 L1092.5,655.0 L1093.0,656.8 L1093.5,658.7 L1094.0,660.6 L1094.5,662.3 L1095.0,664.0 L1095.5,665.6 L1096.0,666.9 L1096.5,668.1 L1097.0,669.1 L1097.5,669.8 L1098.0,670.5 L1098.5,671.0 L1099.0,671.5 L1099.5,671.8 L1100.0,672.1 L1100.5,672.3 L1101.0,672.5 L1101.5,672.7 L1102.0,672.8 L1102.5,672.9 L1103.0,673.0 L1103.5,673.0 L1104.0,673.0 L1104.5,673.1 L1105.0,673.2 L1105.5,673.4 L1106.0,673.6 L1106.5,673.7 L1107.0,673.8 L1107.5,673.9 L1108.0,673.9 L1108.5,673.9 L1109.0,674.0 L1109.5,674.0 L1110.0,674.1 L1110.5,674.3 L1111.0,674.4 L1111.5,674.5 L1112.0,674.7 L1112.5,674.5 L1113.0,674.4 L1113.5,674.3 L1114.0,674.2 L1114.5,674.0 L1115.0,674.2 L1115.5,674.3 L1116.0,674.5 L1116.5,674.6 L1117.0,674.8 L1117.5,674.8 L1118.0,674.9 L1118.5,674.9 L1119.0,674.9 L1119.5,675.0 L1120.0,674.9 L1120.5,674.9 L1121.0,674.9 L1121.5,674.8 L1122.0,674.8 L1122.5,674.8 L1123.0,674.8 L1123.5,674.8 L1124.0,674.9 L1124.5,674.9 L1125.0,674.8 L1125.5,674.7 L1126.0,674.6 L1126.5,674.5 L1127.0,674.4 L1127.5,674.5 L1128.0,674.7 L1128.5,674.8 L1129.0,674.9 L1129.5,675.1 L1130.0,675.0 L1130.5,674.9 L1131.0,674.8 L1131.5,674.8 L1132.0,674.7 L1132.5,674.8 L1133.0,674.8 L1133.5,674.9 L1134.0,675.0 L1134.5,675.1 L1135.0,675.1 L1135.5,675.1 L1136.0,675.1 L1136.5,675.1 L1137.0,675.1 L1137.5,674.9 L1138.0,674.8 L1138.5,674.7 L1139.0,674.5 L1139.5,674.4 L1140.0,674.5 L1140.5,674.6 L1141.0,674.7 L1141.5,674.8 L1142.0,674.9 L1142.5,675.0 L1143.0,675.0 L1143.5,675.0 L1144.0,675.0 L1144.5,675.0 L1145.0,674.9 L1145.5,674.7 L1146.0,674.5 L1146.5,674.4 L1147.0,674.2 L1147.5,674.2 L1148.0,674.2 L1148.5,674.3 L1149.0,674.3 L1149.5,674.2 L1150.0,674.2 L1150.5,674.2 L1151.0,674.1 L1151.5,674.1 L1152.0,673.9 L1152.5,673.6 L1153.0,673.2 L1153.5,672.8 L1154.0,672.4 L1154.5,672.0 L1155.0,671.8 L1155.5,671.7 L1156.0,671.6 L1156.5,671.6 L1157.0,671.8 L1157.5,671.8 L1158.0,671.9 L1158.5,672.1 L1159.0,672.3 L1159.5,672.5 L1160.0,672.9 L1160.5,673.3 L1161.0,673.6 L1161.5,674.0 L1162.0,674.2 L1162.5,674.3 L1163.0,674.3 L1163.5,674.3 L1164.0,674.2 L1164.5,674.2 L1165.0,674.3 L1165.5,674.4 L1166.0,674.5 L1166.5,674.6 L1167.0,674.7 L1167.5,674.8 L1168.0,674.8 L1168.5,674.9 L1169.0,675.0 L1169.5,675.1 L1170.0,675.0 L1170.5,674.9 L1171.0,674.7 L1171.5,674.6 L1172.0,674.5 L1172.5,674.5 L1173.0,674.5 L1173.5,674.5 L1174.0,674.6 L1174.5,674.6 L1175.0,674.6 L1175.5,674.7 L1176.0,674.7 L1176.5,674.8 L1177.0,674.8 L1177.5,674.8 L1178.0,674.7 L1178.5,674.7 L1179.0,674.7 L1179.5,674.6 L1180.0,674.6 L1180.5,674.5 L1181.0,674.5 L1181.5,674.5 L1182.0,674.4 L1182.5,674.4 L1183.0,674.5 L1183.5,674.5 L1184.0,674.5 L1184.5,674.5 L1185.0,674.5 L1185.5,674.5 L1186.0,674.5 L1186.5,674.5 L1187.0,674.5 L1187.5,674.7 L1188.0,674.8 L1188.5,674.9 L1189.0,675.1 L1189.5,675.2 L1190.0,675.2 L1190.5,675.1 L1191.0,675.1 L1191.5,675.0 L1192.0,675.0 L1192.5,675.0 L1193.0,675.1 L1193.5,675.1 L1194.0,675.1 L1194.5,675.2 L1195.0,675.0 L1195.5,674.9 L1196.0,674.8 L1196.5,674.6 L1197.0,674.5 L1197.5,674.6 L1198.0,674.7 L1198.5,674.8 L1199.0,674.9 L1199.5,675.0 L1200.0,674.9 L1200.5,674.8 L1201.0,674.7 L1201.5,674.5 L1202.0,674.4 L1202.5,674.5 L1203.0,674.6 L1203.5,674.6 L1204.0,674.7 L1204.5,674.8 L1205.0,674.8 L1205.5,674.8 L1206.0,674.8 L1206.5,674.8 L1207.0,674.8 L1207.5,674.7 L1208.0,674.7 L1208.5,674.6 L1209.0,674.5 L1209.5,674.4 L1210.0,674.5 L1210.5,674.5 L1211.0,674.6 L1211.5,674.6 L1212.0,674.6 L1212.5,674.4 L1213.0,674.2 L1213.5,674.0 L1214.0,673.7 L1214.5,673.4 L1215.0,673.1 L1215.5,672.7 L1216.0,672.3 L1216.5,671.9 L1217.0,671.4 L1217.5,670.9 L1218.0,670.5 L1218.5,670.1 L1219.0,669.9 L1219.5,669.7 L1220.0,669.5 L1220.5,669.4 L1221.0,669.4 L1221.5,669.5 L1222.0,669.5 L1222.5,669.8 L1223.0,670.1 L1223.5,670.3 L1224.0,670.5 L1224.5,670.7 L1225.0,670.7 L1225.5,670.8 L1226.0,671.0 L1226.5,671.2 L1227.0,671.5 L1227.5,671.8 L1228.0,672.2 L1228.5,672.5 L1229.0,672.8 L1229.5,673.1 L1230.0,673.4 L1230.5,673.8 L1231.0,674.0 L1231.5,674.3 L1232.0,674.5 L1232.5,674.5 L1233.0,674.5 L1233.5,674.4 L1234.0,674.4 L1234.5,674.4 L1235.0,674.5 L1235.5,674.7 L1236.0,674.8 L1236.5,675.0 L1237.0,675.1 L1237.5,675.1 L1238.0,675.0 L1238.5,675.0 L1239.0,674.9 L1239.5,674.8 L1240.0,674.8 L1240.5,674.8 L1241.0,674.8 L1241.5,674.7 L1242.0,674.7 L1242.5,674.8 L1243.0,674.8 L1243.5,674.9 L1244.0,675.0 L1244.5,675.1 L1245.0,675.0 L1245.5,675.0 L1246.0,674.9 L1246.5,674.9 L1247.0,674.8 L1247.5,674.8 L1248.0,674.7 L1248.5,674.7 L1249.0,674.6 L1249.5,674.6 L1250.0,674.7 L1250.5,674.8 L1251.0,674.9 L1251.5,675.0 L1252.0,675.1 L1252.5,675.0 L1253.0,674.9 L1253.5,674.8 L1254.0,674.6 L1254.5,674.5 L1255.0,674.6 L1255.5,674.8 L1256.0,674.9 L1256.5,675.1 L1257.0,675.2 L1257.5,675.1 L1258.0,675.0 L1258.5,674.9 L1259.0,674.8 L1259.5,674.7 L1260.0,674.8 L1260.5,674.8 L1261.0,674.9 L1261.5,675.0 L1262.0,675.1 L1262.5,675.1 L1263.0,675.2 L1263.5,675.3 L1264.0,675.3 L1264.5,675.4 L1265.0,675.3 L1265.5,675.2 L1266.0,675.2 L1266.5,675.1 L1267.0,675.0 L1267.5,675.0 L1268.0,675.1 L1268.5,675.1 L1269.0,675.1 L1269.5,675.1 L1270.0,675.0 L1270.5,675.0 L1271.0,674.9 L1271.5,674.8 L1272.0,674.8 L1272.5,674.7 L1273.0,674.7 L1273.5,674.6 L1274.0,674.6 L1274.5,674.5 L1275.0,674.5 L1275.5,674.5 L1276.0,674.5" fill="none" stroke="#f00000" stroke-width="4.4" stroke-linejoin="round" stroke-linecap="round"/>
<path d="M112.0,787.5 L112.5,787.4 L113.0,787.4 L113.5,787.4 L114.0,787.4 L114.5,787.4 L115.0,787.5 L115.5,787.6 L116.0,787.7 L116.5,787.8 L117.0,787.9 L117.5,787.8 L118.0,787.8 L118.5,787.7 L119.0,787.6 L119.5,787.5 L120.0,787.6 L120.5,787.7 L121.0,787.8 L121.5,787.9 L122.0,788.0 L122.5,788.0 L123.0,788.0 L123.5,788.0 L124.0,788.0 L124.5,787.9 L125.0,787.9 L125.5,787.9 L126.0,787.8 L126.5,787.8 L127.0,787.8 L127.5,787.9 L128.0,788.0 L128.5,788.1 L129.0,788.2 L129.5,788.3 L130.0,788.2 L130.5,788.1 L131.0,788.1 L131.5,788.0 L132.0,787.9 L132.5,788.0 L133.0,788.1 L133.5,788.2 L134.0,788.3 L134.5,788.4 L135.0,788.3 L135.5,788.3 L136.0,788.2 L136.5,788.2 L137.0,788.1 L137.5,788.2 L138.0,788.2 L138.5,788.2 L139.0,788.2 L139.5,788.2 L140.0,788.3 L140.5,788.4 L141.0,788.5 L141.5,788.6 L142.0,788.6 L142.5,788.7 L143.0,788.8 L143.5,788.9 L144.0,789.0 L144.5,789.1 L145.0,789.0 L145.5,788.9 L146.0,788.8 L146.5,788.7 L147.0,788.5 L147.5,788.6 L148.0,788.6 L148.5,788.7 L149.0,788.7 L149.5,788.7 L150.0,788.8 L150.5,788.9 L151.0,789.0 L151.5,789.1 L152.0,789.2 L152.5,789.3 L153.0,789.3 L153.5,789.4 L154.0,789.5 L154.5,789.6 L155.0,789.5 L155.5,789.5 L156.0,789.4 L156.5,789.4 L157.0,789.3 L157.5,789.3 L158.0,789.3 L158.5,789.3 L159.0,789.3 L159.5,789.2 L160.0,789.4 L160.5,789.5 L161.0,789.6 L161.5,789.7 L162.0,789.9 L162.5,789.7 L163.0,789.6 L163.5,789.4 L164.0,789.3 L164.5,789.1 L165.0,789.3 L165.5,789.4 L166.0,789.6 L166.5,789.8 L167.0,789.9 L167.5,789.9 L168.0,789.8 L168.5,789.7 L169.0,789.6 L169.5,789.5 L170.0,789.5 L170.5,789.5 L171.0,789.5 L171.5,789.5 L172.0,789.5 L172.5,789.5 L173.0,789.5 L173.5,789.5 L174.0,789.5 L174.5,789.5 L175.0,789.6 L175.5,789.6 L176.0,789.7 L176.5,789.8 L177.0,789.8 L177.5,789.9 L178.0,790.0 L178.5,790.1 L179.0,790.2 L179.5,790.4 L180.0,790.3 L180.5,790.2 L181.0,790.1 L181.5,790.0 L182.0,789.9 L182.5,790.0 L183.0,790.0 L183.5,790.1 L184.0,790.2 L184.5,790.3 L185.0,790.3 L185.5,790.4 L186.0,790.4 L186.5,790.4 L187.0,790.4 L187.5,790.4 L188.0,790.3 L188.5,790.3 L189.0,790.2 L189.5,790.2 L190.0,790.2 L190.5,790.3 L191.0,790.3 L191.5,790.3 L192.0,790.4 L192.5,790.3 L193.0,790.2 L193.5,790.1 L194.0,790.0 L194.5,789.9 L195.0,789.9 L195.5,789.9 L196.0,789.9 L196.5,789.9 L197.0,790.0 L197.5,790.0 L198.0,790.0 L198.5,790.0 L199.0,790.1 L199.5,790.1 L200.0,790.2 L200.5,790.3 L201.0,790.4 L201.5,790.5 L202.0,790.5 L202.5,790.5 L203.0,790.5 L203.5,790.4 L204.0,790.4 L204.5,790.3 L205.0,790.3 L205.5,790.3 L206.0,790.3 L206.5,790.3 L207.0,790.2 L207.5,790.3 L208.0,790.4 L208.5,790.4 L209.0,790.5 L209.5,790.5 L210.0,790.5 L210.5,790.5 L211.0,790.4 L211.5,790.4 L212.0,790.4 L212.5,790.4 L213.0,790.4 L213.5,790.3 L214.0,790.3 L214.5,790.3 L215.0,790.4 L215.5,790.5 L216.0,790.6 L216.5,790.7 L217.0,790.7 L217.5,790.7 L218.0,790.7 L218.5,790.7 L219.0,790.7 L219.5,790.7 L220.0,790.6 L220.5,790.5 L221.0,790.4 L221.5,790.4 L222.0,790.3 L222.5,790.3 L223.0,790.4 L223.5,790.5 L224.0,790.5 L224.5,790.6 L225.0,790.6 L225.5,790.6 L226.0,790.6 L226.5,790.6 L227.0,790.6 L227.5,790.6 L228.0,790.7 L228.5,790.8 L229.0,790.8 L229.5,790.9 L230.0,790.9 L230.5,790.9 L231.0,790.8 L231.5,790.8 L232.0,790.8 L232.5,790.7 L233.0,790.6 L233.5,790.6 L234.0,790.5 L234.5,790.4 L235.0,790.5 L235.5,790.7 L236.0,790.8 L236.5,790.9 L237.0,791.0 L237.5,790.9 L238.0,790.7 L238.5,790.6 L239.0,790.4 L239.5,790.3 L240.0,790.3 L240.5,790.4 L241.0,790.5 L241.5,790.5 L242.0,790.6 L242.5,790.6 L243.0,790.7 L243.5,790.8 L244.0,790.8 L244.5,790.9 L245.0,790.8 L245.5,790.7 L246.0,790.6 L246.5,790.5 L247.0,790.4 L247.5,790.4 L248.0,790.5 L248.5,790.5 L249.0,790.6 L249.5,790.7 L250.0,790.6 L250.5,790.5 L251.0,790.4 L251.5,790.4 L252.0,790.3 L252.5,790.4 L253.0,790.5 L253.5,790.6 L254.0,790.7 L254.5,790.9 L255.0,790.9 L255.5,790.9 L256.0,790.9 L256.5,790.9 L257.0,791.0 L257.5,790.9 L258.0,790.9 L258.5,790.9 L259.0,790.8 L259.5,790.8 L260.0,790.9 L260.5,790.9 L261.0,791.0 L261.5,791.0 L262.0,791.1 L262.5,791.0 L263.0,790.9 L263.5,790.8 L264.0,790.7 L264.5,790.6 L265.0,790.6 L265.5,790.7 L266.0,790.8 L266.5,790.9 L267.0,790.9 L267.5,790.9 L268.0,790.9 L268.5,790.9 L269.0,790.9 L269.5,790.8 L270.0,790.8 L270.5,790.8 L271.0,790.8 L271.5,790.8 L272.0,790.8 L272.5,790.8 L273.0,790.8 L273.5,790.8 L274.0,790.7 L274.5,790.7 L275.0,790.8 L275.5,790.8 L276.0,790.9 L276.5,791.0 L277.0,791.0 L277.5,791.0 L278.0,791.1 L278.5,791.1 L279.0,791.1 L279.5,791.1 L280.0,791.0 L280.5,790.9 L281.0,790.8 L281.5,790.7 L282.0,790.6 L282.5,790.6 L283.0,790.6 L283.5,790.7 L284.0,790.7 L284.5,790.7 L285.0,790.6 L285.5,790.4 L286.0,790.3 L286.5,790.1 L287.0,790.0 L287.5,790.0 L288.0,790.1 L288.5,790.1 L289.0,790.2 L289.5,790.2 L290.0,790.1 L290.5,790.0 L291.0,789.8 L291.5,789.6 L292.0,789.4 L292.5,789.2 L293.0,788.9 L293.5,788.5 L294.0,787.8 L294.5,786.8 L295.0,785.0 L295.5,782.4 L296.0,778.7 L296.5,773.6 L297.0,767.3 L297.5,760.3 L298.0,753.6 L298.5,749.1 L299.0,748.6 L299.5,752.2 L300.0,758.5 L300.5,765.6 L301.0,772.0 L301.5,777.3 L302.0,781.3 L302.5,784.2 L303.0,786.1 L303.5,787.4 L304.0,788.2 L304.5,788.8 L305.0,789.1 L305.5,789.2 L306.0,789.4 L306.5,789.4 L307.0,789.5 L307.5,789.7 L308.0,789.9 L308.5,790.0 L309.0,790.2 L309.5,790.3 L310.0,790.4 L310.5,790.4 L311.0,790.4 L311.5,790.3 L312.0,790.3 L312.5,790.4 L313.0,790.4 L313.5,790.4 L314.0,790.4 L314.5,790.4 L315.0,790.5 L315.5,790.5 L316.0,790.5 L316.5,790.5 L317.0,790.5 L317.5,790.6 L318.0,790.8 L318.5,790.9 L319.0,791.1 L319.5,791.2 L320.0,791.1 L320.5,791.0 L321.0,790.9 L321.5,790.8 L322.0,790.7 L322.5,790.7 L323.0,790.7 L323.5,790.8 L324.0,790.8 L324.5,790.8 L325.0,790.9 L325.5,790.9 L326.0,790.9 L326.5,791.0 L327.0,791.0 L327.5,791.1 L328.0,791.2 L328.5,791.3 L329.0,791.4 L329.5,791.4 L330.0,791.3 L330.5,791.2 L331.0,791.0 L331.5,790.9 L332.0,790.8 L332.5,790.8 L333.0,790.9 L333.5,791.0 L334.0,791.0 L334.5,791.1 L335.0,791.1 L335.5,791.2 L336.0,791.2 L336.5,791.2 L337.0,791.2 L337.5,791.3 L338.0,791.3 L338.5,791.4 L339.0,791.5 L339.5,791.5 L340.0,791.5 L340.5,791.5 L341.0,791.5 L341.5,791.5 L342.0,791.5 L342.5,791.5 L343.0,791.5 L343.5,791.5 L344.0,791.5 L344.5,791.5 L345.0,791.4 L345.5,791.3 L346.0,791.2 L346.5,791.1 L347.0,791.0 L347.5,791.0 L348.0,791.1 L348.5,791.1 L349.0,791.1 L349.5,791.1 L350.0,791.1 L350.5,791.1 L351.0,791.1 L351.5,791.1 L352.0,791.1 L352.5,791.2 L353.0,791.3 L353.5,791.4 L354.0,791.4 L354.5,791.5 L355.0,791.5 L355.5,791.5 L356.0,791.5 L356.5,791.6 L357.0,791.6 L357.5,791.4 L358.0,791.2 L358.5,791.1 L359.0,790.9 L359.5,790.7 L360.0,790.7 L360.5,790.7 L361.0,790.6 L361.5,790.6 L362.0,790.4 L362.5,790.3 L363.0,790.1 L363.5,789.8 L364.0,789.5 L364.5,789.2 L365.0,788.8 L365.5,788.5 L366.0,788.2 L366.5,788.1 L367.0,788.2 L367.5,788.5 L368.0,788.9 L368.5,789.3 L369.0,789.7 L369.5,790.0 L370.0,790.3 L370.5,790.5 L371.0,790.7 L371.5,790.8 L372.0,790.9 L372.5,790.9 L373.0,790.9 L373.5,790.9 L374.0,790.8 L374.5,790.8 L375.0,790.7 L375.5,790.7 L376.0,790.6 L376.5,790.6 L377.0,790.5 L377.5,790.6 L378.0,790.7 L378.5,790.8 L379.0,790.8 L379.5,790.9 L380.0,790.9 L380.5,790.8 L381.0,790.8 L381.5,790.8 L382.0,790.8 L382.5,790.8 L383.0,790.8 L383.5,790.8 L384.0,790.8 L384.5,790.8 L385.0,790.8 L385.5,790.8 L386.0,790.8 L386.5,790.8 L387.0,790.7 L387.5,790.4 L388.0,790.1 L388.5,789.6 L389.0,789.1 L389.5,788.5 L390.0,787.8 L390.5,787.1 L391.0,786.5 L391.5,786.0 L392.0,785.9 L392.5,786.1 L393.0,786.6 L393.5,787.2 L394.0,787.9 L394.5,788.5 L395.0,789.0 L395.5,789.4 L396.0,789.8 L396.5,790.0 L397.0,790.2 L397.5,790.2 L398.0,790.1 L398.5,790.0 L399.0,789.9 L399.5,789.8 L400.0,790.0 L400.5,790.1 L401.0,790.2 L401.5,790.3 L402.0,790.4 L402.5,790.3 L403.0,790.2 L403.5,790.2 L404.0,790.2 L404.5,790.1 L405.0,790.2 L405.5,790.2 L406.0,790.2 L406.5,790.2 L407.0,790.2 L407.5,790.1 L408.0,790.1 L408.5,790.0 L409.0,790.0 L409.5,789.9 L410.0,789.7 L410.5,789.6 L411.0,789.5 L411.5,789.3 L412.0,789.1 L412.5,789.1 L413.0,789.0 L413.5,788.9 L414.0,788.8 L414.5,788.6 L415.0,788.5 L415.5,788.3 L416.0,788.1 L416.5,787.9 L417.0,787.6 L417.5,787.6 L418.0,787.5 L418.5,787.3 L419.0,787.2 L419.5,787.1 L420.0,786.7 L420.5,786.3 L421.0,785.9 L421.5,785.4 L422.0,784.9 L422.5,784.5 L423.0,784.1 L423.5,783.6 L424.0,783.0 L424.5,782.4 L425.0,781.7 L425.5,780.9 L426.0,780.1 L426.5,779.1 L427.0,777.9 L427.5,776.5 L428.0,774.8 L428.5,772.8 L429.0,770.3 L429.5,767.3 L430.0,763.7 L430.5,759.2 L431.0,753.6 L431.5,746.8 L432.0,738.6 L432.5,728.7 L433.0,717.1 L433.5,703.8 L434.0,688.9 L434.5,672.6 L435.0,655.5 L435.5,637.7 L436.0,615.0 L436.5,576.5 L437.0,543.9 L437.5,576.5 L438.0,615.0 L438.5,637.7 L439.0,655.6 L439.5,672.7 L440.0,689.0 L440.5,703.8 L441.0,717.1 L441.5,728.6 L442.0,738.4 L442.5,746.7 L443.0,753.6 L443.5,759.2 L444.0,763.8 L444.5,767.6 L445.0,770.5 L445.5,772.9 L446.0,774.8 L446.5,776.4 L447.0,777.8 L447.5,779.1 L448.0,780.3 L448.5,781.4 L449.0,782.3 L449.5,783.2 L450.0,783.8 L450.5,784.3 L451.0,784.7 L451.5,785.2 L452.0,785.5 L452.5,785.8 L453.0,786.1 L453.5,786.3 L454.0,786.5 L454.5,786.7 L455.0,787.0 L455.5,787.3 L456.0,787.5 L456.5,787.7 L457.0,787.9 L457.5,788.1 L458.0,788.3 L458.5,788.4 L459.0,788.6 L459.5,788.7 L460.0,788.9 L460.5,789.0 L461.0,789.1 L461.5,789.2 L462.0,789.3 L462.5,789.3 L463.0,789.4 L463.5,789.4 L464.0,789.5 L464.5,789.5 L465.0,789.7 L465.5,789.9 L466.0,790.1 L466.5,790.3 L467.0,790.5 L467.5,790.5 L468.0,790.6 L468.5,790.7 L469.0,790.8 L469.5,790.8 L470.0,790.8 L470.5,790.7 L471.0,790.7 L471.5,790.6 L472.0,790.6 L472.5,790.6 L473.0,790.6 L473.5,790.7 L474.0,790.7 L474.5,790.7 L475.0,790.7 L475.5,790.6 L476.0,790.6 L476.5,790.5 L477.0,790.5 L477.5,790.5 L478.0,790.6 L478.5,790.6 L479.0,790.6 L479.5,790.6 L480.0,790.7 L480.5,790.8 L481.0,790.8 L481.5,790.9 L482.0,790.9 L482.5,790.9 L483.0,790.9 L483.5,790.9 L484.0,790.9 L484.5,790.9 L485.0,791.1 L485.5,791.2 L486.0,791.3 L486.5,791.4 L487.0,791.5 L487.5,791.4 L488.0,791.3 L488.5,791.2 L489.0,791.1 L489.5,791.0 L490.0,791.0 L490.5,790.9 L491.0,790.9 L491.5,790.9 L492.0,790.9 L492.5,791.1 L493.0,791.3 L493.5,791.4 L494.0,791.6 L494.5,791.8 L495.0,791.7 L495.5,791.6 L496.0,791.6 L496.5,791.5 L497.0,791.4 L497.5,791.4 L498.0,791.3 L498.5,791.2 L499.0,791.2 L499.5,791.1 L500.0,791.2 L500.5,791.3 L501.0,791.4 L501.5,791.4 L502.0,791.5 L502.5,791.4 L503.0,791.3 L503.5,791.2 L504.0,791.1 L504.5,791.1 L505.0,791.2 L505.5,791.2 L506.0,791.3 L506.5,791.4 L507.0,791.5 L507.5,791.6 L508.0,791.7 L508.5,791.8 L509.0,791.8 L509.5,791.9 L510.0,791.9 L510.5,791.9 L511.0,791.9 L511.5,791.8 L512.0,791.8 L512.5,791.8 L513.0,791.7 L513.5,791.7 L514.0,791.7 L514.5,791.6 L515.0,791.5 L515.5,791.4 L516.0,791.3 L516.5,791.2 L517.0,791.1 L517.5,791.0 L518.0,790.9 L518.5,790.7 L519.0,790.5 L519.5,790.3 L520.0,789.9 L520.5,789.5 L521.0,789.1 L521.5,788.7 L522.0,788.4 L522.5,788.4 L523.0,788.6 L523.5,788.9 L524.0,789.4 L524.5,789.9 L525.0,790.2 L525.5,790.5 L526.0,790.8 L526.5,790.9 L527.0,791.0 L527.5,791.2 L528.0,791.3 L528.5,791.4 L529.0,791.5 L529.5,791.5 L530.0,791.5 L530.5,791.4 L531.0,791.3 L531.5,791.2 L532.0,791.1 L532.5,791.1 L533.0,791.0 L533.5,791.0 L534.0,791.0 L534.5,790.9 L535.0,791.0 L535.5,791.0 L536.0,791.1 L536.5,791.2 L537.0,791.2 L537.5,791.2 L538.0,791.1 L538.5,791.0 L539.0,791.0 L539.5,790.9 L540.0,790.7 L540.5,790.5 L541.0,790.3 L541.5,790.0 L542.0,789.6 L542.5,789.1 L543.0,788.5 L543.5,787.6 L544.0,786.3 L544.5,784.4 L545.0,781.7 L545.5,778.0 L546.0,773.2 L546.5,767.4 L547.0,760.8 L547.5,754.2 L548.0,748.5 L548.5,745.4 L549.0,745.7 L549.5,749.5 L550.0,755.3 L550.5,761.9 L551.0,768.3 L551.5,773.8 L552.0,778.3 L552.5,781.8 L553.0,784.4 L553.5,786.3 L554.0,787.5 L554.5,788.4 L555.0,789.0 L555.5,789.4 L556.0,789.7 L556.5,789.9 L557.0,790.1 L557.5,790.2 L558.0,790.3 L558.5,790.4 L559.0,790.4 L559.5,790.5 L560.0,790.6 L560.5,790.6 L561.0,790.7 L561.5,790.8 L562.0,790.8 L562.5,790.9 L563.0,791.0 L563.5,791.1 L564.0,791.2 L564.5,791.3 L565.0,791.3 L565.5,791.3 L566.0,791.3 L566.5,791.3 L567.0,791.4 L567.5,791.5 L568.0,791.6 L568.5,791.7 L569.0,791.7 L569.5,791.8 L570.0,791.9 L570.5,792.0 L571.0,792.0 L571.5,792.1 L572.0,792.1 L572.5,792.1 L573.0,792.0 L573.5,791.9 L574.0,791.8 L574.5,791.7 L575.0,791.8 L575.5,791.9 L576.0,792.0 L576.5,792.1 L577.0,792.2 L577.5,792.2 L578.0,792.2 L578.5,792.3 L579.0,792.3 L579.5,792.3 L580.0,792.3 L580.5,792.3 L581.0,792.3 L581.5,792.3 L582.0,792.3 L582.5,792.2 L583.0,792.1 L583.5,792.0 L584.0,791.9 L584.5,791.8 L585.0,791.7 L585.5,791.7 L586.0,791.7 L586.5,791.7 L587.0,791.6 L587.5,791.6 L588.0,791.7 L588.5,791.7 L589.0,791.7 L589.5,791.7 L590.0,791.7 L590.5,791.7 L591.0,791.6 L591.5,791.6 L592.0,791.6 L592.5,791.6 L593.0,791.6 L593.5,791.6 L594.0,791.6 L594.5,791.6 L595.0,791.7 L595.5,791.8 L596.0,791.9 L596.5,792.0 L597.0,792.0 L597.5,792.1 L598.0,792.1 L598.5,792.2 L599.0,792.2 L599.5,792.3 L600.0,792.3 L600.5,792.2 L601.0,792.2 L601.5,792.2 L602.0,792.2 L602.5,792.1 L603.0,792.1 L603.5,792.0 L604.0,791.9 L604.5,791.9 L605.0,791.9 L605.5,791.9 L606.0,792.0 L606.5,792.0 L607.0,792.0 L607.5,792.0 L608.0,792.1 L608.5,792.1 L609.0,792.1 L609.5,792.1 L610.0,792.0 L610.5,791.9 L611.0,791.7 L611.5,791.6 L612.0,791.5 L612.5,791.6 L613.0,791.7 L613.5,791.7 L614.0,791.8 L614.5,791.9 L615.0,792.0 L615.5,792.0 L616.0,792.0 L616.5,792.1 L617.0,792.1 L617.5,792.1 L618.0,792.0 L618.5,792.0 L619.0,791.9 L619.5,791.9 L620.0,791.9 L620.5,791.9 L621.0,791.8 L621.5,791.8 L622.0,791.8 L622.5,791.7 L623.0,791.6 L623.5,791.5 L624.0,791.4 L624.5,791.3 L625.0,791.2 L625.5,791.1 L626.0,791.0 L626.5,790.9 L627.0,790.8 L627.5,790.9 L628.0,790.9 L628.5,790.9 L629.0,791.0 L629.5,791.0 L630.0,790.8 L630.5,790.6 L631.0,790.4 L631.5,790.1 L632.0,789.9 L632.5,789.8 L633.0,789.6 L633.5,789.5 L634.0,789.3 L634.5,789.0 L635.0,788.7 L635.5,788.3 L636.0,787.8 L636.5,787.1 L637.0,786.4 L637.5,785.2 L638.0,783.7 L638.5,781.5 L639.0,778.4 L639.5,773.9 L640.0,767.3 L640.5,758.1 L641.0,745.7 L641.5,729.9 L642.0,711.4 L642.5,691.8 L643.0,674.2 L643.5,662.9 L644.0,661.9 L644.5,671.6 L645.0,688.4 L645.5,707.9 L646.0,726.8 L646.5,743.1 L647.0,756.2 L647.5,766.0 L648.0,772.9 L648.5,777.6 L649.0,780.8 L649.5,782.9 L650.0,784.4 L650.5,785.5 L651.0,786.3 L651.5,787.0 L652.0,787.6 L652.5,788.0 L653.0,788.4 L653.5,788.8 L654.0,789.1 L654.5,789.4 L655.0,789.7 L655.5,790.1 L656.0,790.4 L656.5,790.7 L657.0,790.9 L657.5,791.0 L658.0,791.1 L658.5,791.2 L659.0,791.3 L659.5,791.4 L660.0,791.3 L660.5,791.3 L661.0,791.2 L661.5,791.2 L662.0,791.1 L662.5,791.3 L663.0,791.4 L663.5,791.6 L664.0,791.8 L664.5,791.9 L665.0,792.0 L665.5,792.1 L666.0,792.1 L666.5,792.2 L667.0,792.2 L667.5,792.2 L668.0,792.2 L668.5,792.1 L669.0,792.1 L669.5,792.1 L670.0,792.0 L670.5,792.0 L671.0,791.9 L671.5,791.9 L672.0,791.9 L672.5,791.9 L673.0,792.0 L673.5,792.0 L674.0,792.1 L674.5,792.1 L675.0,792.0 L675.5,792.0 L676.0,791.9 L676.5,791.8 L677.0,791.8 L677.5,791.8 L678.0,791.7 L678.5,791.7 L679.0,791.7 L679.5,791.7 L680.0,791.9 L680.5,792.0 L681.0,792.2 L681.5,792.4 L682.0,792.5 L682.5,792.4 L683.0,792.3 L683.5,792.2 L684.0,792.1 L684.5,792.0 L685.0,791.9 L685.5,791.8 L686.0,791.6 L686.5,791.5 L687.0,791.4 L687.5,791.4 L688.0,791.5 L688.5,791.6 L689.0,791.7 L689.5,791.9 L690.0,791.9 L690.5,791.9 L691.0,791.9 L691.5,792.0 L692.0,791.9 L692.5,792.1 L693.0,792.2 L693.5,792.4 L694.0,792.5 L694.5,792.6 L695.0,792.6 L695.5,792.6 L696.0,792.6 L696.5,792.6 L697.0,792.6 L697.5,792.5 L698.0,792.4 L698.5,792.3 L699.0,792.2 L699.5,792.1 L700.0,792.1 L700.5,792.1 L701.0,792.1 L701.5,792.1 L702.0,792.1 L702.5,792.1 L703.0,792.2 L703.5,792.2 L704.0,792.2 L704.5,792.2 L705.0,792.2 L705.5,792.2 L706.0,792.2 L706.5,792.2 L707.0,792.1 L707.5,792.2 L708.0,792.3 L708.5,792.3 L709.0,792.4 L709.5,792.4 L710.0,792.4 L710.5,792.3 L711.0,792.3 L711.5,792.2 L712.0,792.1 L712.5,792.2 L713.0,792.2 L713.5,792.2 L714.0,792.2 L714.5,792.3 L715.0,792.2 L715.5,792.1 L716.0,792.1 L716.5,792.0 L717.0,791.9 L717.5,792.1 L718.0,792.2 L718.5,792.3 L719.0,792.4 L719.5,792.5 L720.0,792.4 L720.5,792.2 L721.0,792.1 L721.5,791.9 L722.0,791.8 L722.5,791.7 L723.0,791.6 L723.5,791.4 L724.0,791.2 L724.5,790.9 L725.0,790.5 L725.5,789.9 L726.0,789.1 L726.5,788.1 L727.0,786.8 L727.5,785.4 L728.0,783.8 L728.5,782.3 L729.0,781.0 L729.5,780.3 L730.0,780.1 L730.5,780.7 L731.0,781.9 L731.5,783.3 L732.0,784.9 L732.5,786.5 L733.0,787.9 L733.5,789.1 L734.0,790.0 L734.5,790.8 L735.0,791.2 L735.5,791.5 L736.0,791.7 L736.5,791.8 L737.0,791.8 L737.5,791.9 L738.0,792.0 L738.5,792.1 L739.0,792.1 L739.5,792.2 L740.0,792.2 L740.5,792.3 L741.0,792.3 L741.5,792.3 L742.0,792.3 L742.5,792.3 L743.0,792.2 L743.5,792.1 L744.0,792.1 L744.5,792.0 L745.0,792.1 L745.5,792.2 L746.0,792.2 L746.5,792.3 L747.0,792.4 L747.5,792.4 L748.0,792.3 L748.5,792.3 L749.0,792.3 L749.5,792.2 L750.0,792.2 L750.5,792.2 L751.0,792.1 L751.5,792.1 L752.0,792.1 L752.5,792.2 L753.0,792.4 L753.5,792.5 L754.0,792.7 L754.5,792.8 L755.0,792.7 L755.5,792.6 L756.0,792.5 L756.5,792.4 L757.0,792.2 L757.5,792.3 L758.0,792.4 L758.5,792.4 L759.0,792.5 L759.5,792.5 L760.0,792.6 L760.5,792.6 L761.0,792.7 L761.5,792.7 L762.0,792.7 L762.5,792.7 L763.0,792.7 L763.5,792.6 L764.0,792.6 L764.5,792.6 L765.0,792.5 L765.5,792.5 L766.0,792.5 L766.5,792.4 L767.0,792.4 L767.5,792.4 L768.0,792.4 L768.5,792.5 L769.0,792.5 L769.5,792.5 L770.0,792.5 L770.5,792.5 L771.0,792.5 L771.5,792.5 L772.0,792.5 L772.5,792.6 L773.0,792.6 L773.5,792.6 L774.0,792.7 L774.5,792.7 L775.0,792.6 L775.5,792.4 L776.0,792.3 L776.5,792.2 L777.0,792.0 L777.5,792.1 L778.0,792.2 L778.5,792.2 L779.0,792.3 L779.5,792.4 L780.0,792.3 L780.5,792.2 L781.0,792.1 L781.5,792.1 L782.0,792.0 L782.5,792.0 L783.0,792.0 L783.5,791.9 L784.0,791.9 L784.5,791.9 L785.0,792.0 L785.5,792.0 L786.0,792.1 L786.5,792.1 L787.0,792.2 L787.5,792.1 L788.0,792.0 L788.5,791.9 L789.0,791.8 L789.5,791.7 L790.0,791.6 L790.5,791.6 L791.0,791.5 L791.5,791.5 L792.0,791.4 L792.5,791.3 L793.0,791.3 L793.5,791.2 L794.0,791.1 L794.5,791.0 L795.0,790.9 L795.5,790.8 L796.0,790.6 L796.5,790.4 L797.0,790.2 L797.5,789.9 L798.0,789.5 L798.5,789.1 L799.0,788.7 L799.5,788.2 L800.0,787.7 L800.5,787.1 L801.0,786.4 L801.5,785.5 L802.0,784.2 L802.5,782.6 L803.0,780.3 L803.5,777.2 L804.0,773.1 L804.5,767.8 L805.0,760.9 L805.5,752.5 L806.0,742.4 L806.5,730.9 L807.0,718.5 L807.5,706.1 L808.0,694.9 L808.5,686.7 L809.0,682.5 L809.5,682.8 L810.0,686.6 L810.5,693.0 L811.0,701.0 L811.5,710.1 L812.0,720.0 L812.5,730.4 L813.0,740.4 L813.5,749.7 L814.0,757.9 L814.5,764.7 L815.0,770.3 L815.5,774.8 L816.0,778.3 L816.5,781.0 L817.0,783.0 L817.5,784.7 L818.0,785.9 L818.5,786.9 L819.0,787.8 L819.5,788.4 L820.0,788.9 L820.5,789.2 L821.0,789.5 L821.5,789.8 L822.0,790.0 L822.5,790.3 L823.0,790.5 L823.5,790.8 L824.0,791.0 L824.5,791.1 L825.0,791.3 L825.5,791.4 L826.0,791.6 L826.5,791.7 L827.0,791.8 L827.5,791.8 L828.0,791.7 L828.5,791.7 L829.0,791.6 L829.5,791.6 L830.0,791.7 L830.5,791.8 L831.0,791.9 L831.5,792.0 L832.0,792.1 L832.5,792.2 L833.0,792.3 L833.5,792.4 L834.0,792.5 L834.5,792.6 L835.0,792.7 L835.5,792.7 L836.0,792.7 L836.5,792.7 L837.0,792.7 L837.5,792.6 L838.0,792.5 L838.5,792.4 L839.0,792.3 L839.5,792.2 L840.0,792.2 L840.5,792.2 L841.0,792.2 L841.5,792.2 L842.0,792.2 L842.5,792.3 L843.0,792.4 L843.5,792.5 L844.0,792.5 L844.5,792.6 L845.0,792.5 L845.5,792.5 L846.0,792.4 L846.5,792.4 L847.0,792.3 L847.5,792.4 L848.0,792.4 L848.5,792.4 L849.0,792.5 L849.5,792.5 L850.0,792.5 L850.5,792.5 L851.0,792.5 L851.5,792.4 L852.0,792.4 L852.5,792.5 L853.0,792.6 L853.5,792.8 L854.0,792.9 L854.5,793.0 L855.0,793.0 L855.5,793.0 L856.0,793.1 L856.5,793.1 L857.0,793.1 L857.5,793.1 L858.0,793.2 L858.5,793.2 L859.0,793.2 L859.5,793.2 L860.0,793.1 L860.5,793.0 L861.0,792.9 L861.5,792.7 L862.0,792.6 L862.5,792.7 L863.0,792.8 L863.5,792.9 L864.0,793.0 L864.5,793.1 L865.0,793.1 L865.5,793.1 L866.0,793.1 L866.5,793.1 L867.0,793.1 L867.5,793.0 L868.0,792.9 L868.5,792.8 L869.0,792.7 L869.5,792.6 L870.0,792.8 L870.5,792.9 L871.0,793.1 L871.5,793.2 L872.0,793.3 L872.5,793.3 L873.0,793.4 L873.5,793.4 L874.0,793.4 L874.5,793.4 L875.0,793.3 L875.5,793.2 L876.0,793.0 L876.5,792.9 L877.0,792.8 L877.5,792.9 L878.0,793.0 L878.5,793.2 L879.0,793.3 L879.5,793.4 L880.0,793.3 L880.5,793.2 L881.0,793.1 L881.5,793.0 L882.0,792.9 L882.5,793.0 L883.0,793.0 L883.5,793.0 L884.0,793.0 L884.5,793.0 L885.0,793.1 L885.5,793.2 L886.0,793.3 L886.5,793.4 L887.0,793.5 L887.5,793.5 L888.0,793.4 L888.5,793.4 L889.0,793.4 L889.5,793.4 L890.0,793.2 L890.5,793.1 L891.0,793.0 L891.5,792.9 L892.0,792.8 L892.5,792.8 L893.0,792.9 L893.5,792.9 L894.0,793.0 L894.5,793.0 L895.0,793.0 L895.5,793.0 L896.0,793.1 L896.5,793.1 L897.0,793.1 L897.5,793.1 L898.0,793.0 L898.5,793.0 L899.0,793.0 L899.5,792.9 L900.0,792.9 L900.5,792.9 L901.0,792.9 L901.5,792.8 L902.0,792.8 L902.5,792.8 L903.0,792.9 L903.5,792.9 L904.0,792.9 L904.5,792.9 L905.0,793.0 L905.5,793.1 L906.0,793.1 L906.5,793.2 L907.0,793.3 L907.5,793.2 L908.0,793.0 L908.5,792.9 L909.0,792.8 L909.5,792.7 L910.0,792.8 L910.5,792.9 L911.0,792.9 L911.5,793.0 L912.0,793.1 L912.5,793.1 L913.0,793.1 L913.5,793.1 L914.0,793.1 L914.5,793.0 L915.0,793.0 L915.5,792.9 L916.0,792.8 L916.5,792.7 L917.0,792.7 L917.5,792.7 L918.0,792.8 L918.5,792.8 L919.0,792.9 L919.5,792.9 L920.0,793.0 L920.5,793.0 L921.0,793.1 L921.5,793.1 L922.0,793.2 L922.5,793.2 L923.0,793.1 L923.5,793.1 L924.0,793.1 L924.5,793.1 L925.0,793.0 L925.5,792.9 L926.0,792.8 L926.5,792.7 L927.0,792.6 L927.5,792.8 L928.0,793.0 L928.5,793.1 L929.0,793.3 L929.5,793.4 L930.0,793.4 L930.5,793.3 L931.0,793.3 L931.5,793.3 L932.0,793.2 L932.5,793.2 L933.0,793.3 L933.5,793.3 L934.0,793.3 L934.5,793.3 L935.0,793.1 L935.5,793.0 L936.0,792.8 L936.5,792.6 L937.0,792.4 L937.5,792.4 L938.0,792.4 L938.5,792.4 L939.0,792.4 L939.5,792.4 L940.0,792.4 L940.5,792.3 L941.0,792.2 L941.5,792.1 L942.0,792.0 L942.5,792.0 L943.0,792.1 L943.5,792.1 L944.0,792.1 L944.5,792.0 L945.0,791.7 L945.5,791.2 L946.0,790.7 L946.5,790.1 L947.0,789.3 L947.5,788.5 L948.0,787.5 L948.5,786.4 L949.0,785.2 L949.5,783.9 L950.0,782.5 L950.5,781.0 L951.0,779.4 L951.5,777.5 L952.0,775.3 L952.5,772.7 L953.0,769.6 L953.5,766.0 L954.0,762.4 L954.5,759.1 L955.0,756.7 L955.5,756.1 L956.0,757.6 L956.5,760.8 L957.0,765.2 L957.5,769.8 L958.0,774.2 L958.5,778.1 L959.0,781.4 L959.5,784.0 L960.0,786.1 L960.5,787.6 L961.0,788.8 L961.5,789.6 L962.0,790.1 L962.5,790.7 L963.0,791.2 L963.5,791.5 L964.0,791.9 L964.5,792.2 L965.0,792.3 L965.5,792.3 L966.0,792.4 L966.5,792.4 L967.0,792.4 L967.5,792.5 L968.0,792.6 L968.5,792.7 L969.0,792.8 L969.5,792.8 L970.0,792.8 L970.5,792.7 L971.0,792.6 L971.5,792.5 L972.0,792.5 L972.5,792.5 L973.0,792.5 L973.5,792.5 L974.0,792.5 L974.5,792.6 L975.0,792.7 L975.5,792.8 L976.0,792.9 L976.5,793.1 L977.0,793.2 L977.5,793.2 L978.0,793.1 L978.5,793.1 L979.0,793.1 L979.5,793.0 L980.0,793.0 L980.5,792.9 L981.0,792.9 L981.5,792.8 L982.0,792.8 L982.5,792.9 L983.0,793.1 L983.5,793.2 L984.0,793.4 L984.5,793.6 L985.0,793.5 L985.5,793.5 L986.0,793.4 L986.5,793.4 L987.0,793.3 L987.5,793.4 L988.0,793.4 L988.5,793.4 L989.0,793.5 L989.5,793.5 L990.0,793.4 L990.5,793.2 L991.0,793.1 L991.5,793.0 L992.0,792.9 L992.5,793.0 L993.0,793.2 L993.5,793.3 L994.0,793.4 L994.5,793.6 L995.0,793.4 L995.5,793.3 L996.0,793.2 L996.5,793.0 L997.0,792.9 L997.5,793.0 L998.0,793.2 L998.5,793.3 L999.0,793.5 L999.5,793.6 L1000.0,793.5 L1000.5,793.5 L1001.0,793.4 L1001.5,793.3 L1002.0,793.2 L1002.5,793.2 L1003.0,793.2 L1003.5,793.2 L1004.0,793.2 L1004.5,793.1 L1005.0,793.2 L1005.5,793.2 L1006.0,793.3 L1006.5,793.3 L1007.0,793.3 L1007.5,793.4 L1008.0,793.5 L1008.5,793.5 L1009.0,793.6 L1009.5,793.7 L1010.0,793.5 L1010.5,793.4 L1011.0,793.3 L1011.5,793.2 L1012.0,793.0 L1012.5,793.0 L1013.0,793.0 L1013.5,792.9 L1014.0,792.9 L1014.5,792.9 L1015.0,792.9 L1015.5,793.0 L1016.0,793.0 L1016.5,793.0 L1017.0,793.1 L1017.5,792.9 L1018.0,792.8 L1018.5,792.7 L1019.0,792.5 L1019.5,792.3 L1020.0,792.1 L1020.5,791.8 L1021.0,791.6 L1021.5,791.3 L1022.0,791.0 L1022.5,790.7 L1023.0,790.4 L1023.5,790.2 L1024.0,790.1 L1024.5,790.0 L1025.0,790.1 L1025.5,790.2 L1026.0,790.4 L1026.5,790.7 L1027.0,790.9 L1027.5,791.2 L1028.0,791.5 L1028.5,791.8 L1029.0,792.0 L1029.5,792.3 L1030.0,792.4 L1030.5,792.6 L1031.0,792.7 L1031.5,792.8 L1032.0,792.9 L1032.5,792.9 L1033.0,793.0 L1033.5,793.0 L1034.0,793.0 L1034.5,793.1 L1035.0,793.2 L1035.5,793.3 L1036.0,793.3 L1036.5,793.4 L1037.0,793.5 L1037.5,793.5 L1038.0,793.4 L1038.5,793.3 L1039.0,793.2 L1039.5,793.1 L1040.0,793.2 L1040.5,793.2 L1041.0,793.3 L1041.5,793.3 L1042.0,793.4 L1042.5,793.3 L1043.0,793.2 L1043.5,793.2 L1044.0,793.1 L1044.5,793.1 L1045.0,793.1 L1045.5,793.1 L1046.0,793.2 L1046.5,793.2 L1047.0,793.2 L1047.5,793.2 L1048.0,793.1 L1048.5,793.1 L1049.0,793.0 L1049.5,792.9 L1050.0,793.0 L1050.5,793.0 L1051.0,793.1 L1051.5,793.1 L1052.0,793.2 L1052.5,793.1 L1053.0,793.1 L1053.5,793.0 L1054.0,793.0 L1054.5,792.9 L1055.0,793.1 L1055.5,793.2 L1056.0,793.3 L1056.5,793.5 L1057.0,793.6 L1057.5,793.6 L1058.0,793.5 L1058.5,793.5 L1059.0,793.4 L1059.5,793.4 L1060.0,793.3 L1060.5,793.3 L1061.0,793.2 L1061.5,793.1 L1062.0,793.1 L1062.5,793.1 L1063.0,793.2 L1063.5,793.2 L1064.0,793.3 L1064.5,793.3 L1065.0,793.4 L1065.5,793.5 L1066.0,793.5 L1066.5,793.6 L1067.0,793.7 L1067.5,793.5 L1068.0,793.4 L1068.5,793.2 L1069.0,793.1 L1069.5,792.9 L1070.0,793.0 L1070.5,793.1 L1071.0,793.3 L1071.5,793.4 L1072.0,793.5 L1072.5,793.4 L1073.0,793.3 L1073.5,793.2 L1074.0,793.1 L1074.5,793.1 L1075.0,793.0 L1075.5,793.0 L1076.0,793.0 L1076.5,793.0 L1077.0,793.0 L1077.5,793.0 L1078.0,793.0 L1078.5,793.1 L1079.0,793.1 L1079.5,793.1 L1080.0,792.9 L1080.5,792.8 L1081.0,792.7 L1081.5,792.5 L1082.0,792.3 L1082.5,792.2 L1083.0,792.1 L1083.5,792.0 L1084.0,791.9 L1084.5,791.7 L1085.0,791.4 L1085.5,791.1 L1086.0,790.7 L1086.5,790.1 L1087.0,789.3 L1087.5,788.3 L1088.0,786.9 L1088.5,785.2 L1089.0,783.0 L1089.5,780.3 L1090.0,777.1 L1090.5,773.6 L1091.0,770.0 L1091.5,766.5 L1092.0,763.5 L1092.5,761.8 L1093.0,761.4 L1093.5,762.5 L1094.0,764.9 L1094.5,768.1 L1095.0,771.6 L1095.5,775.1 L1096.0,778.3 L1096.5,781.3 L1097.0,783.7 L1097.5,785.8 L1098.0,787.4 L1098.5,788.7 L1099.0,789.7 L1099.5,790.4 L1100.0,790.9 L1100.5,791.3 L1101.0,791.5 L1101.5,791.8 L1102.0,791.9 L1102.5,792.1 L1103.0,792.2 L1103.5,792.3 L1104.0,792.4 L1104.5,792.5 L1105.0,792.5 L1105.5,792.5 L1106.0,792.5 L1106.5,792.5 L1107.0,792.5 L1107.5,792.6 L1108.0,792.6 L1108.5,792.7 L1109.0,792.7 L1109.5,792.8 L1110.0,792.8 L1110.5,792.8 L1111.0,792.8 L1111.5,792.8 L1112.0,792.8 L1112.5,793.0 L1113.0,793.1 L1113.5,793.3 L1114.0,793.4 L1114.5,793.5 L1115.0,793.5 L1115.5,793.4 L1116.0,793.3 L1116.5,793.2 L1117.0,793.2 L1117.5,793.2 L1118.0,793.1 L1118.5,793.1 L1119.0,793.1 L1119.5,793.1 L1120.0,793.1 L1120.5,793.1 L1121.0,793.1 L1121.5,793.1 L1122.0,793.1 L1122.5,793.2 L1123.0,793.4 L1123.5,793.5 L1124.0,793.7 L1124.5,793.8 L1125.0,793.8 L1125.5,793.8 L1126.0,793.8 L1126.5,793.8 L1127.0,793.8 L1127.5,793.8 L1128.0,793.8 L1128.5,793.7 L1129.0,793.7 L1129.5,793.7 L1130.0,793.6 L1130.5,793.5 L1131.0,793.5 L1131.5,793.4 L1132.0,793.3 L1132.5,793.3 L1133.0,793.3 L1133.5,793.3 L1134.0,793.3 L1134.5,793.3 L1135.0,793.3 L1135.5,793.3 L1136.0,793.3 L1136.5,793.4 L1137.0,793.4 L1137.5,793.4 L1138.0,793.4 L1138.5,793.5 L1139.0,793.5 L1139.5,793.5 L1140.0,793.5 L1140.5,793.4 L1141.0,793.3 L1141.5,793.3 L1142.0,793.2 L1142.5,793.3 L1143.0,793.3 L1143.5,793.4 L1144.0,793.4 L1144.5,793.5 L1145.0,793.4 L1145.5,793.4 L1146.0,793.3 L1146.5,793.3 L1147.0,793.2 L1147.5,793.3 L1148.0,793.4 L1148.5,793.5 L1149.0,793.6 L1149.5,793.7 L1150.0,793.6 L1150.5,793.5 L1151.0,793.4 L1151.5,793.3 L1152.0,793.1 L1152.5,792.9 L1153.0,792.5 L1153.5,792.2 L1154.0,791.8 L1154.5,791.4 L1155.0,791.0 L1155.5,790.6 L1156.0,790.1 L1156.5,789.7 L1157.0,789.2 L1157.5,789.0 L1158.0,788.8 L1158.5,788.7 L1159.0,788.7 L1159.5,788.8 L1160.0,788.7 L1160.5,788.7 L1161.0,788.9 L1161.5,789.0 L1162.0,789.3 L1162.5,789.7 L1163.0,790.1 L1163.5,790.5 L1164.0,790.9 L1164.5,791.3 L1165.0,791.5 L1165.5,791.8 L1166.0,792.0 L1166.5,792.2 L1167.0,792.3 L1167.5,792.5 L1168.0,792.7 L1168.5,792.9 L1169.0,793.1 L1169.5,793.2 L1170.0,793.3 L1170.5,793.4 L1171.0,793.4 L1171.5,793.5 L1172.0,793.5 L1172.5,793.5 L1173.0,793.5 L1173.5,793.6 L1174.0,793.6 L1174.5,793.6 L1175.0,793.6 L1175.5,793.5 L1176.0,793.5 L1176.5,793.4 L1177.0,793.4 L1177.5,793.4 L1178.0,793.5 L1178.5,793.5 L1179.0,793.6 L1179.5,793.7 L1180.0,793.6 L1180.5,793.5 L1181.0,793.4 L1181.5,793.3 L1182.0,793.2 L1182.5,793.3 L1183.0,793.3 L1183.5,793.4 L1184.0,793.4 L1184.5,793.5 L1185.0,793.4 L1185.5,793.4 L1186.0,793.4 L1186.5,793.4 L1187.0,793.3 L1187.5,793.4 L1188.0,793.4 L1188.5,793.5 L1189.0,793.6 L1189.5,793.6 L1190.0,793.6 L1190.5,793.5 L1191.0,793.4 L1191.5,793.4 L1192.0,793.3 L1192.5,793.3 L1193.0,793.3 L1193.5,793.3 L1194.0,793.3 L1194.5,793.3 L1195.0,793.3 L1195.5,793.4 L1196.0,793.4 L1196.5,793.5 L1197.0,793.5 L1197.5,793.5 L1198.0,793.5 L1198.5,793.5 L1199.0,793.5 L1199.5,793.5 L1200.0,793.5 L1200.5,793.6 L1201.0,793.6 L1201.5,793.7 L1202.0,793.8 L1202.5,793.7 L1203.0,793.7 L1203.5,793.7 L1204.0,793.7 L1204.5,793.7 L1205.0,793.7 L1205.5,793.7 L1206.0,793.8 L1206.5,793.8 L1207.0,793.8 L1207.5,793.8 L1208.0,793.8 L1208.5,793.8 L1209.0,793.7 L1209.5,793.7 L1210.0,793.7 L1210.5,793.7 L1211.0,793.7 L1211.5,793.6 L1212.0,793.6 L1212.5,793.6 L1213.0,793.6 L1213.5,793.5 L1214.0,793.5 L1214.5,793.4 L1215.0,793.2 L1215.5,793.0 L1216.0,792.6 L1216.5,792.3 L1217.0,791.8 L1217.5,791.3 L1218.0,790.7 L1218.5,790.0 L1219.0,789.3 L1219.5,788.4 L1220.0,787.7 L1220.5,787.0 L1221.0,786.5 L1221.5,786.1 L1222.0,786.1 L1222.5,786.0 L1223.0,786.1 L1223.5,786.3 L1224.0,786.6 L1224.5,786.8 L1225.0,787.2 L1225.5,787.6 L1226.0,788.0 L1226.5,788.5 L1227.0,789.0 L1227.5,789.5 L1228.0,790.0 L1228.5,790.4 L1229.0,790.9 L1229.5,791.3 L1230.0,791.6 L1230.5,791.9 L1231.0,792.1 L1231.5,792.2 L1232.0,792.3 L1232.5,792.7 L1233.0,793.0 L1233.5,793.2 L1234.0,793.4 L1234.5,793.7 L1235.0,793.7 L1235.5,793.8 L1236.0,793.8 L1236.5,793.9 L1237.0,793.9 L1237.5,793.9 L1238.0,793.9 L1238.5,793.9 L1239.0,793.8 L1239.5,793.8 L1240.0,793.8 L1240.5,793.9 L1241.0,793.9 L1241.5,793.9 L1242.0,794.0 L1242.5,794.0 L1243.0,794.0 L1243.5,794.0 L1244.0,794.0 L1244.5,794.1 L1245.0,794.0 L1245.5,793.8 L1246.0,793.7 L1246.5,793.6 L1247.0,793.5 L1247.5,793.6 L1248.0,793.6 L1248.5,793.7 L1249.0,793.8 L1249.5,793.9 L1250.0,793.9 L1250.5,793.9 L1251.0,793.9 L1251.5,793.9 L1252.0,793.9 L1252.5,793.9 L1253.0,794.0 L1253.5,794.1 L1254.0,794.1 L1254.5,794.2 L1255.0,794.2 L1255.5,794.2 L1256.0,794.2 L1256.5,794.2 L1257.0,794.2 L1257.5,794.2 L1258.0,794.2 L1258.5,794.2 L1259.0,794.2 L1259.5,794.2 L1260.0,794.2 L1260.5,794.1 L1261.0,794.1 L1261.5,794.0 L1262.0,794.0 L1262.5,794.0 L1263.0,794.1 L1263.5,794.2 L1264.0,794.2 L1264.5,794.3 L1265.0,794.2 L1265.5,794.2 L1266.0,794.2 L1266.5,794.1 L1267.0,794.1 L1267.5,794.1 L1268.0,794.1 L1268.5,794.1 L1269.0,794.1 L1269.5,794.1 L1270.0,794.0 L1270.5,794.0 L1271.0,793.9 L1271.5,793.8 L1272.0,793.7 L1272.5,793.7 L1273.0,793.6 L1273.5,793.6 L1274.0,793.6 L1274.5,793.5 L1275.0,793.6 L1275.5,793.6 L1276.0,793.6" clip-path="url(#cr)" fill="none" stroke="#000000" stroke-width="4.7" stroke-linejoin="round" stroke-linecap="round"/>
<path d="M112.0,552.3 L112.5,552.3 L113.0,552.4 L113.5,552.4 L114.0,552.4 L114.5,552.4 L115.0,552.2 L115.5,552.1 L116.0,551.9 L116.5,551.8 L117.0,551.6 L117.5,551.6 L118.0,551.6 L118.5,551.7 L119.0,551.7 L119.5,551.7 L120.0,551.7 L120.5,551.7 L121.0,551.7 L121.5,551.6 L122.0,551.6 L122.5,551.6 L123.0,551.6 L123.5,551.6 L124.0,551.6 L124.5,551.5 L125.0,551.7 L125.5,551.8 L126.0,552.0 L126.5,552.1 L127.0,552.3 L127.5,552.3 L128.0,552.3 L128.5,552.3 L129.0,552.3 L129.5,552.2 L130.0,552.2 L130.5,552.2 L131.0,552.1 L131.5,552.1 L132.0,552.1 L132.5,552.1 L133.0,552.2 L133.5,552.2 L134.0,552.2 L134.5,552.3 L135.0,552.2 L135.5,552.2 L136.0,552.2 L136.5,552.1 L137.0,552.1 L137.5,552.0 L138.0,552.0 L138.5,551.9 L139.0,551.8 L139.5,551.8 L140.0,551.7 L140.5,551.7 L141.0,551.7 L141.5,551.6 L142.0,551.6 L142.5,551.6 L143.0,551.6 L143.5,551.6 L144.0,551.6 L144.5,551.6 L145.0,551.7 L145.5,551.8 L146.0,552.0 L146.5,552.1 L147.0,552.2 L147.5,552.1 L148.0,552.0 L148.5,551.9 L149.0,551.8 L149.5,551.7 L150.0,551.7 L150.5,551.7 L151.0,551.8 L151.5,551.8 L152.0,551.8 L152.5,551.8 L153.0,551.8 L153.5,551.9 L154.0,551.9 L154.5,551.9 L155.0,551.8 L155.5,551.7 L156.0,551.7 L156.5,551.6 L157.0,551.5 L157.5,551.6 L158.0,551.6 L158.5,551.7 L159.0,551.7 L159.5,551.7 L160.0,551.7 L160.5,551.7 L161.0,551.8 L161.5,551.8 L162.0,551.8 L162.5,551.8 L163.0,551.9 L163.5,552.0 L164.0,552.1 L164.5,552.1 L165.0,552.1 L165.5,552.0 L166.0,552.0 L166.5,551.9 L167.0,551.8 L167.5,551.8 L168.0,551.8 L168.5,551.8 L169.0,551.8 L169.5,551.8 L170.0,551.9 L170.5,552.0 L171.0,552.1 L171.5,552.3 L172.0,552.4 L172.5,552.3 L173.0,552.2 L173.5,552.1 L174.0,552.0 L174.5,552.0 L175.0,552.0 L175.5,552.1 L176.0,552.1 L176.5,552.2 L177.0,552.3 L177.5,552.2 L178.0,552.2 L178.5,552.1 L179.0,552.1 L179.5,552.1 L180.0,551.9 L180.5,551.8 L181.0,551.7 L181.5,551.6 L182.0,551.5 L182.5,551.6 L183.0,551.7 L183.5,551.7 L184.0,551.8 L184.5,551.9 L185.0,551.9 L185.5,551.9 L186.0,551.9 L186.5,551.9 L187.0,551.9 L187.5,551.9 L188.0,552.0 L188.5,552.1 L189.0,552.1 L189.5,552.2 L190.0,552.1 L190.5,552.0 L191.0,552.0 L191.5,551.9 L192.0,551.8 L192.5,551.9 L193.0,551.9 L193.5,552.0 L194.0,552.1 L194.5,552.1 L195.0,552.1 L195.5,552.1 L196.0,552.0 L196.5,552.0 L197.0,552.0 L197.5,551.9 L198.0,551.9 L198.5,551.8 L199.0,551.7 L199.5,551.7 L200.0,551.8 L200.5,551.9 L201.0,552.0 L201.5,552.1 L202.0,552.3 L202.5,552.1 L203.0,552.0 L203.5,551.8 L204.0,551.7 L204.5,551.6 L205.0,551.7 L205.5,551.8 L206.0,552.0 L206.5,552.1 L207.0,552.2 L207.5,552.1 L208.0,552.0 L208.5,551.9 L209.0,551.8 L209.5,551.6 L210.0,551.6 L210.5,551.6 L211.0,551.5 L211.5,551.5 L212.0,551.5 L212.5,551.5 L213.0,551.6 L213.5,551.6 L214.0,551.6 L214.5,551.7 L215.0,551.8 L215.5,551.9 L216.0,552.0 L216.5,552.1 L217.0,552.2 L217.5,552.2 L218.0,552.2 L218.5,552.3 L219.0,552.3 L219.5,552.4 L220.0,552.2 L220.5,552.0 L221.0,551.8 L221.5,551.6 L222.0,551.5 L222.5,551.6 L223.0,551.6 L223.5,551.7 L224.0,551.8 L224.5,551.9 L225.0,551.9 L225.5,551.9 L226.0,551.9 L226.5,551.9 L227.0,551.9 L227.5,552.0 L228.0,552.0 L228.5,552.1 L229.0,552.1 L229.5,552.2 L230.0,552.1 L230.5,552.0 L231.0,551.8 L231.5,551.7 L232.0,551.6 L232.5,551.7 L233.0,551.7 L233.5,551.8 L234.0,551.8 L234.5,551.9 L235.0,551.9 L235.5,551.8 L236.0,551.8 L236.5,551.8 L237.0,551.8 L237.5,551.8 L238.0,551.9 L238.5,552.0 L239.0,552.1 L239.5,552.2 L240.0,552.1 L240.5,552.0 L241.0,551.9 L241.5,551.8 L242.0,551.7 L242.5,551.8 L243.0,551.9 L243.5,552.0 L244.0,552.1 L244.5,552.3 L245.0,552.1 L245.5,552.0 L246.0,551.9 L246.5,551.8 L247.0,551.7 L247.5,551.6 L248.0,551.6 L248.5,551.6 L249.0,551.6 L249.5,551.6 L250.0,551.7 L250.5,551.7 L251.0,551.8 L251.5,551.9 L252.0,552.0 L252.5,552.0 L253.0,551.9 L253.5,551.9 L254.0,551.8 L254.5,551.8 L255.0,551.7 L255.5,551.6 L256.0,551.5 L256.5,551.5 L257.0,551.4 L257.5,551.5 L258.0,551.5 L258.5,551.6 L259.0,551.7 L259.5,551.7 L260.0,551.6 L260.5,551.4 L261.0,551.3 L261.5,551.1 L262.0,550.8 L262.5,550.8 L263.0,550.7 L263.5,550.5 L264.0,550.3 L264.5,550.1 L265.0,549.7 L265.5,549.2 L266.0,548.7 L266.5,548.4 L267.0,548.1 L267.5,548.0 L268.0,548.1 L268.5,548.4 L269.0,548.8 L269.5,549.2 L270.0,549.6 L270.5,550.0 L271.0,550.3 L271.5,550.6 L272.0,550.9 L272.5,551.0 L273.0,551.1 L273.5,551.2 L274.0,551.3 L274.5,551.3 L275.0,551.3 L275.5,551.4 L276.0,551.4 L276.5,551.4 L277.0,551.5 L277.5,551.5 L278.0,551.5 L278.5,551.5 L279.0,551.5 L279.5,551.5 L280.0,551.5 L280.5,551.6 L281.0,551.7 L281.5,551.8 L282.0,551.9 L282.5,551.7 L283.0,551.5 L283.5,551.4 L284.0,551.2 L284.5,551.0 L285.0,551.1 L285.5,551.3 L286.0,551.4 L286.5,551.5 L287.0,551.5 L287.5,551.3 L288.0,551.1 L288.5,550.8 L289.0,550.6 L289.5,550.3 L290.0,550.2 L290.5,550.0 L291.0,549.8 L291.5,549.6 L292.0,549.2 L292.5,548.7 L293.0,547.9 L293.5,546.8 L294.0,545.2 L294.5,542.9 L295.0,540.1 L295.5,536.6 L296.0,532.8 L296.5,529.4 L297.0,527.7 L297.5,528.0 L298.0,529.6 L298.5,532.0 L299.0,534.8 L299.5,537.5 L300.0,540.0 L300.5,542.2 L301.0,544.0 L301.5,545.5 L302.0,546.6 L302.5,547.6 L303.0,548.4 L303.5,549.0 L304.0,549.6 L304.5,550.0 L305.0,550.1 L305.5,550.2 L306.0,550.3 L306.5,550.3 L307.0,550.3 L307.5,550.5 L308.0,550.6 L308.5,550.7 L309.0,550.9 L309.5,551.0 L310.0,551.0 L310.5,551.1 L311.0,551.2 L311.5,551.2 L312.0,551.3 L312.5,551.3 L313.0,551.4 L313.5,551.5 L314.0,551.6 L314.5,551.6 L315.0,551.6 L315.5,551.7 L316.0,551.7 L316.5,551.7 L317.0,551.7 L317.5,551.7 L318.0,551.7 L318.5,551.7 L319.0,551.7 L319.5,551.7 L320.0,551.6 L320.5,551.6 L321.0,551.5 L321.5,551.5 L322.0,551.5 L322.5,551.5 L323.0,551.5 L323.5,551.5 L324.0,551.5 L324.5,551.5 L325.0,551.4 L325.5,551.4 L326.0,551.4 L326.5,551.4 L327.0,551.3 L327.5,551.5 L328.0,551.6 L328.5,551.7 L329.0,551.8 L329.5,552.0 L330.0,551.9 L330.5,551.9 L331.0,551.9 L331.5,551.8 L332.0,551.8 L332.5,551.8 L333.0,551.8 L333.5,551.8 L334.0,551.9 L334.5,551.9 L335.0,551.8 L335.5,551.7 L336.0,551.6 L336.5,551.5 L337.0,551.4 L337.5,551.4 L338.0,551.5 L338.5,551.5 L339.0,551.5 L339.5,551.6 L340.0,551.7 L340.5,551.7 L341.0,551.8 L341.5,551.8 L342.0,551.9 L342.5,551.8 L343.0,551.8 L343.5,551.8 L344.0,551.7 L344.5,551.7 L345.0,551.6 L345.5,551.5 L346.0,551.4 L346.5,551.4 L347.0,551.3 L347.5,551.3 L348.0,551.4 L348.5,551.4 L349.0,551.5 L349.5,551.5 L350.0,551.6 L350.5,551.7 L351.0,551.8 L351.5,551.8 L352.0,551.9 L352.5,551.8 L353.0,551.6 L353.5,551.5 L354.0,551.4 L354.5,551.3 L355.0,551.2 L355.5,551.2 L356.0,551.2 L356.5,551.1 L357.0,551.1 L357.5,551.1 L358.0,551.1 L358.5,551.0 L359.0,551.0 L359.5,550.9 L360.0,550.8 L360.5,550.7 L361.0,550.5 L361.5,550.4 L362.0,550.1 L362.5,549.8 L363.0,549.5 L363.5,549.2 L364.0,548.9 L364.5,548.7 L365.0,548.5 L365.5,548.4 L366.0,548.5 L366.5,548.7 L367.0,548.9 L367.5,549.2 L368.0,549.6 L368.5,549.8 L369.0,550.1 L369.5,550.3 L370.0,550.5 L370.5,550.6 L371.0,550.7 L371.5,550.8 L372.0,550.9 L372.5,550.9 L373.0,551.0 L373.5,551.0 L374.0,551.0 L374.5,551.1 L375.0,551.1 L375.5,551.1 L376.0,551.2 L376.5,551.2 L377.0,551.2 L377.5,551.1 L378.0,551.1 L378.5,551.0 L379.0,550.9 L379.5,550.8 L380.0,550.9 L380.5,550.9 L381.0,550.9 L381.5,550.9 L382.0,550.9 L382.5,550.8 L383.0,550.8 L383.5,550.7 L384.0,550.6 L384.5,550.6 L385.0,550.6 L385.5,550.7 L386.0,550.7 L386.5,550.7 L387.0,550.6 L387.5,550.3 L388.0,550.0 L388.5,549.6 L389.0,549.2 L389.5,548.8 L390.0,548.4 L390.5,548.0 L391.0,547.7 L391.5,547.6 L392.0,547.5 L392.5,547.9 L393.0,548.3 L393.5,548.7 L394.0,549.1 L394.5,549.5 L395.0,549.5 L395.5,549.4 L396.0,549.3 L396.5,549.1 L397.0,548.9 L397.5,548.8 L398.0,548.6 L398.5,548.5 L399.0,548.3 L399.5,548.3 L400.0,548.3 L400.5,548.4 L401.0,548.6 L401.5,548.9 L402.0,549.2 L402.5,549.3 L403.0,549.5 L403.5,549.6 L404.0,549.6 L404.5,549.7 L405.0,549.7 L405.5,549.7 L406.0,549.7 L406.5,549.7 L407.0,549.7 L407.5,549.6 L408.0,549.5 L408.5,549.3 L409.0,549.2 L409.5,549.1 L410.0,549.0 L410.5,548.8 L411.0,548.7 L411.5,548.5 L412.0,548.4 L412.5,548.3 L413.0,548.3 L413.5,548.2 L414.0,548.1 L414.5,548.1 L415.0,547.8 L415.5,547.5 L416.0,547.2 L416.5,546.9 L417.0,546.6 L417.5,546.3 L418.0,546.1 L418.5,545.8 L419.0,545.5 L419.5,545.1 L420.0,544.7 L420.5,544.3 L421.0,543.9 L421.5,543.4 L422.0,542.8 L422.5,542.1 L423.0,541.3 L423.5,540.5 L424.0,539.5 L424.5,538.5 L425.0,537.5 L425.5,536.4 L426.0,535.1 L426.5,533.7 L427.0,532.1 L427.5,530.2 L428.0,528.0 L428.5,525.4 L429.0,522.3 L429.5,518.5 L430.0,513.6 L430.5,507.5 L431.0,499.8 L431.5,490.2 L432.0,478.4 L432.5,464.1 L433.0,447.2 L433.5,427.7 L434.0,405.9 L434.5,382.7 L435.0,359.0 L435.5,336.6 L436.0,317.7 L436.5,305.0 L437.0,300.4 L437.5,304.9 L438.0,317.7 L438.5,336.6 L439.0,359.0 L439.5,382.6 L440.0,405.8 L440.5,427.5 L441.0,446.8 L441.5,463.7 L442.0,477.9 L442.5,489.8 L443.0,499.4 L443.5,507.2 L444.0,513.4 L444.5,518.3 L445.0,522.2 L445.5,525.3 L446.0,528.0 L446.5,530.2 L447.0,532.1 L447.5,533.8 L448.0,535.4 L448.5,536.8 L449.0,538.0 L449.5,539.1 L450.0,540.1 L450.5,541.0 L451.0,541.9 L451.5,542.6 L452.0,543.3 L452.5,543.8 L453.0,544.3 L453.5,544.7 L454.0,545.0 L454.5,545.3 L455.0,545.7 L455.5,546.1 L456.0,546.4 L456.5,546.7 L457.0,547.0 L457.5,547.3 L458.0,547.5 L458.5,547.8 L459.0,548.0 L459.5,548.2 L460.0,548.3 L460.5,548.4 L461.0,548.5 L461.5,548.6 L462.0,548.6 L462.5,548.7 L463.0,548.8 L463.5,548.9 L464.0,548.9 L464.5,549.0 L465.0,549.2 L465.5,549.3 L466.0,549.5 L466.5,549.7 L467.0,549.8 L467.5,549.9 L468.0,550.0 L468.5,550.1 L469.0,550.2 L469.5,550.3 L470.0,550.3 L470.5,550.3 L471.0,550.4 L471.5,550.4 L472.0,550.4 L472.5,550.4 L473.0,550.5 L473.5,550.5 L474.0,550.5 L474.5,550.5 L475.0,550.5 L475.5,550.6 L476.0,550.6 L476.5,550.6 L477.0,550.6 L477.5,550.6 L478.0,550.5 L478.5,550.5 L479.0,550.4 L479.5,550.3 L480.0,550.2 L480.5,550.1 L481.0,550.1 L481.5,550.0 L482.0,549.9 L482.5,549.9 L483.0,549.9 L483.5,549.9 L484.0,549.9 L484.5,549.9 L485.0,550.0 L485.5,550.1 L486.0,550.2 L486.5,550.3 L487.0,550.3 L487.5,550.5 L488.0,550.6 L488.5,550.8 L489.0,550.9 L489.5,551.0 L490.0,551.0 L490.5,550.9 L491.0,550.8 L491.5,550.8 L492.0,550.7 L492.5,550.8 L493.0,550.9 L493.5,551.0 L494.0,551.0 L494.5,551.1 L495.0,551.2 L495.5,551.3 L496.0,551.3 L496.5,551.4 L497.0,551.5 L497.5,551.5 L498.0,551.5 L498.5,551.5 L499.0,551.5 L499.5,551.5 L500.0,551.5 L500.5,551.5 L501.0,551.5 L501.5,551.4 L502.0,551.4 L502.5,551.4 L503.0,551.3 L503.5,551.2 L504.0,551.2 L504.5,551.1 L505.0,551.1 L505.5,551.2 L506.0,551.2 L506.5,551.3 L507.0,551.3 L507.5,551.3 L508.0,551.3 L508.5,551.3 L509.0,551.3 L509.5,551.3 L510.0,551.3 L510.5,551.4 L511.0,551.4 L511.5,551.4 L512.0,551.4 L512.5,551.4 L513.0,551.4 L513.5,551.3 L514.0,551.2 L514.5,551.2 L515.0,551.2 L515.5,551.2 L516.0,551.2 L516.5,551.2 L517.0,551.1 L517.5,551.1 L518.0,551.0 L518.5,550.9 L519.0,550.8 L519.5,550.6 L520.0,550.3 L520.5,550.1 L521.0,549.9 L521.5,549.7 L522.0,549.6 L522.5,549.8 L523.0,550.1 L523.5,550.3 L524.0,550.5 L524.5,550.8 L525.0,550.9 L525.5,551.0 L526.0,551.1 L526.5,551.2 L527.0,551.3 L527.5,551.2 L528.0,551.2 L528.5,551.1 L529.0,551.0 L529.5,550.9 L530.0,551.0 L530.5,550.9 L531.0,550.9 L531.5,550.9 L532.0,550.9 L532.5,551.0 L533.0,551.0 L533.5,551.0 L534.0,551.1 L534.5,551.1 L535.0,550.9 L535.5,550.6 L536.0,550.3 L536.5,550.1 L537.0,549.8 L537.5,549.7 L538.0,549.7 L538.5,549.6 L539.0,549.5 L539.5,549.3 L540.0,548.9 L540.5,548.4 L541.0,547.8 L541.5,547.1 L542.0,546.2 L542.5,545.2 L543.0,543.9 L543.5,542.2 L544.0,540.1 L544.5,537.5 L545.0,534.3 L545.5,530.8 L546.0,527.2 L546.5,523.9 L547.0,521.6 L547.5,520.6 L548.0,521.4 L548.5,523.8 L549.0,527.0 L549.5,530.6 L550.0,534.0 L550.5,537.1 L551.0,539.7 L551.5,541.9 L552.0,543.6 L552.5,545.2 L553.0,546.3 L553.5,547.3 L554.0,548.0 L554.5,548.6 L555.0,549.0 L555.5,549.3 L556.0,549.6 L556.5,549.8 L557.0,550.0 L557.5,550.2 L558.0,550.3 L558.5,550.5 L559.0,550.6 L559.5,550.8 L560.0,550.8 L560.5,550.9 L561.0,550.9 L561.5,550.9 L562.0,550.9 L562.5,551.0 L563.0,551.1 L563.5,551.1 L564.0,551.2 L564.5,551.2 L565.0,551.3 L565.5,551.4 L566.0,551.4 L566.5,551.5 L567.0,551.6 L567.5,551.5 L568.0,551.5 L568.5,551.4 L569.0,551.4 L569.5,551.4 L570.0,551.4 L570.5,551.4 L571.0,551.3 L571.5,551.3 L572.0,551.3 L572.5,551.4 L573.0,551.5 L573.5,551.6 L574.0,551.7 L574.5,551.9 L575.0,551.7 L575.5,551.6 L576.0,551.5 L576.5,551.3 L577.0,551.2 L577.5,551.3 L578.0,551.4 L578.5,551.5 L579.0,551.6 L579.5,551.7 L580.0,551.6 L580.5,551.6 L581.0,551.5 L581.5,551.5 L582.0,551.4 L582.5,551.5 L583.0,551.5 L583.5,551.6 L584.0,551.7 L584.5,551.7 L585.0,551.6 L585.5,551.5 L586.0,551.4 L586.5,551.3 L587.0,551.2 L587.5,551.3 L588.0,551.5 L588.5,551.6 L589.0,551.8 L589.5,551.9 L590.0,551.8 L590.5,551.7 L591.0,551.6 L591.5,551.5 L592.0,551.4 L592.5,551.3 L593.0,551.2 L593.5,551.2 L594.0,551.1 L594.5,551.1 L595.0,551.1 L595.5,551.1 L596.0,551.2 L596.5,551.2 L597.0,551.2 L597.5,551.2 L598.0,551.3 L598.5,551.3 L599.0,551.3 L599.5,551.3 L600.0,551.2 L600.5,551.2 L601.0,551.1 L601.5,551.0 L602.0,550.9 L602.5,551.0 L603.0,551.0 L603.5,551.1 L604.0,551.2 L604.5,551.2 L605.0,551.2 L605.5,551.2 L606.0,551.2 L606.5,551.2 L607.0,551.2 L607.5,551.2 L608.0,551.2 L608.5,551.3 L609.0,551.3 L609.5,551.3 L610.0,551.2 L610.5,551.2 L611.0,551.1 L611.5,551.0 L612.0,550.9 L612.5,550.9 L613.0,550.8 L613.5,550.8 L614.0,550.7 L614.5,550.7 L615.0,550.6 L615.5,550.6 L616.0,550.6 L616.5,550.5 L617.0,550.5 L617.5,550.5 L618.0,550.6 L618.5,550.6 L619.0,550.6 L619.5,550.7 L620.0,550.7 L620.5,550.6 L621.0,550.6 L621.5,550.6 L622.0,550.5 L622.5,550.4 L623.0,550.2 L623.5,550.0 L624.0,549.8 L624.5,549.7 L625.0,549.5 L625.5,549.3 L626.0,549.1 L626.5,548.9 L627.0,548.6 L627.5,548.6 L628.0,548.5 L628.5,548.3 L629.0,548.2 L629.5,548.0 L630.0,547.6 L630.5,547.2 L631.0,546.8 L631.5,546.3 L632.0,545.7 L632.5,545.1 L633.0,544.4 L633.5,543.7 L634.0,542.8 L634.5,541.8 L635.0,540.7 L635.5,539.3 L636.0,537.7 L636.5,535.8 L637.0,533.5 L637.5,530.8 L638.0,527.5 L638.5,523.4 L639.0,518.5 L639.5,512.4 L640.0,505.1 L640.5,496.5 L641.0,487.0 L641.5,477.3 L642.0,468.6 L642.5,462.7 L643.0,461.3 L643.5,466.8 L644.0,477.8 L644.5,490.5 L645.0,502.3 L645.5,512.1 L646.0,519.9 L646.5,526.0 L647.0,530.7 L647.5,534.3 L648.0,537.1 L648.5,539.4 L649.0,541.1 L649.5,542.6 L650.0,543.7 L650.5,544.6 L651.0,545.3 L651.5,545.9 L652.0,546.4 L652.5,547.1 L653.0,547.6 L653.5,548.1 L654.0,548.6 L654.5,549.0 L655.0,549.2 L655.5,549.3 L656.0,549.4 L656.5,549.5 L657.0,549.5 L657.5,549.7 L658.0,549.9 L658.5,550.1 L659.0,550.2 L659.5,550.4 L660.0,550.5 L660.5,550.6 L661.0,550.7 L661.5,550.8 L662.0,550.9 L662.5,551.0 L663.0,551.0 L663.5,551.1 L664.0,551.1 L664.5,551.2 L665.0,551.2 L665.5,551.1 L666.0,551.1 L666.5,551.1 L667.0,551.1 L667.5,551.1 L668.0,551.0 L668.5,551.0 L669.0,551.0 L669.5,551.0 L670.0,551.1 L670.5,551.2 L671.0,551.2 L671.5,551.3 L672.0,551.3 L672.5,551.3 L673.0,551.2 L673.5,551.2 L674.0,551.1 L674.5,551.0 L675.0,551.2 L675.5,551.3 L676.0,551.4 L676.5,551.6 L677.0,551.7 L677.5,551.6 L678.0,551.5 L678.5,551.4 L679.0,551.3 L679.5,551.2 L680.0,551.2 L680.5,551.3 L681.0,551.3 L681.5,551.3 L682.0,551.2 L682.5,551.0 L683.0,550.7 L683.5,550.4 L684.0,550.1 L684.5,549.7 L685.0,549.6 L685.5,549.5 L686.0,549.5 L686.5,549.5 L687.0,549.7 L687.5,549.8 L688.0,550.0 L688.5,550.2 L689.0,550.4 L689.5,550.6 L690.0,550.8 L690.5,550.9 L691.0,551.1 L691.5,551.2 L692.0,551.3 L692.5,551.3 L693.0,551.3 L693.5,551.3 L694.0,551.3 L694.5,551.2 L695.0,551.2 L695.5,551.2 L696.0,551.2 L696.5,551.1 L697.0,551.1 L697.5,551.2 L698.0,551.4 L698.5,551.5 L699.0,551.6 L699.5,551.8 L700.0,551.7 L700.5,551.6 L701.0,551.5 L701.5,551.4 L702.0,551.3 L702.5,551.3 L703.0,551.3 L703.5,551.3 L704.0,551.3 L704.5,551.3 L705.0,551.3 L705.5,551.3 L706.0,551.3 L706.5,551.3 L707.0,551.3 L707.5,551.3 L708.0,551.3 L708.5,551.3 L709.0,551.4 L709.5,551.4 L710.0,551.3 L710.5,551.3 L711.0,551.3 L711.5,551.2 L712.0,551.2 L712.5,551.2 L713.0,551.2 L713.5,551.2 L714.0,551.2 L714.5,551.2 L715.0,551.1 L715.5,551.1 L716.0,551.0 L716.5,550.9 L717.0,550.8 L717.5,550.6 L718.0,550.4 L718.5,550.2 L719.0,549.9 L719.5,549.6 L720.0,549.4 L720.5,549.2 L721.0,548.9 L721.5,548.6 L722.0,548.3 L722.5,547.7 L723.0,547.2 L723.5,546.6 L724.0,545.9 L724.5,545.3 L725.0,544.5 L725.5,543.7 L726.0,542.9 L726.5,542.3 L727.0,541.7 L727.5,541.6 L728.0,541.7 L728.5,542.2 L729.0,543.2 L729.5,544.6 L730.0,545.9 L730.5,547.1 L731.0,548.2 L731.5,549.1 L732.0,549.8 L732.5,550.3 L733.0,550.7 L733.5,550.9 L734.0,551.1 L734.5,551.2 L735.0,551.2 L735.5,551.2 L736.0,551.2 L736.5,551.1 L737.0,551.0 L737.5,551.2 L738.0,551.3 L738.5,551.5 L739.0,551.7 L739.5,551.8 L740.0,551.8 L740.5,551.8 L741.0,551.7 L741.5,551.7 L742.0,551.7 L742.5,551.6 L743.0,551.5 L743.5,551.4 L744.0,551.3 L744.5,551.2 L745.0,551.2 L745.5,551.2 L746.0,551.2 L746.5,551.2 L747.0,551.2 L747.5,551.4 L748.0,551.5 L748.5,551.7 L749.0,551.9 L749.5,552.0 L750.0,552.0 L750.5,551.9 L751.0,551.9 L751.5,551.8 L752.0,551.8 L752.5,551.7 L753.0,551.6 L753.5,551.5 L754.0,551.4 L754.5,551.4 L755.0,551.3 L755.5,551.3 L756.0,551.3 L756.5,551.2 L757.0,551.2 L757.5,551.2 L758.0,551.2 L758.5,551.2 L759.0,551.2 L759.5,551.2 L760.0,551.2 L760.5,551.2 L761.0,551.2 L761.5,551.2 L762.0,551.3 L762.5,551.3 L763.0,551.4 L763.5,551.5 L764.0,551.6 L764.5,551.7 L765.0,551.6 L765.5,551.5 L766.0,551.4 L766.5,551.3 L767.0,551.2 L767.5,551.2 L768.0,551.1 L768.5,551.1 L769.0,551.0 L769.5,551.0 L770.0,551.1 L770.5,551.2 L771.0,551.3 L771.5,551.4 L772.0,551.6 L772.5,551.5 L773.0,551.5 L773.5,551.4 L774.0,551.4 L774.5,551.3 L775.0,551.2 L775.5,551.1 L776.0,550.9 L776.5,550.8 L777.0,550.6 L777.5,550.7 L778.0,550.8 L778.5,550.9 L779.0,551.0 L779.5,551.1 L780.0,551.0 L780.5,550.9 L781.0,550.8 L781.5,550.7 L782.0,550.6 L782.5,550.5 L783.0,550.5 L783.5,550.5 L784.0,550.4 L784.5,550.4 L785.0,550.3 L785.5,550.2 L786.0,550.0 L786.5,549.9 L787.0,549.8 L787.5,549.7 L788.0,549.6 L788.5,549.6 L789.0,549.5 L789.5,549.3 L790.0,549.2 L790.5,549.0 L791.0,548.7 L791.5,548.5 L792.0,548.2 L792.5,548.0 L793.0,547.7 L793.5,547.3 L794.0,546.9 L794.5,546.5 L795.0,545.8 L795.5,545.0 L796.0,544.1 L796.5,543.1 L797.0,541.9 L797.5,540.6 L798.0,539.2 L798.5,537.4 L799.0,535.3 L799.5,532.8 L800.0,529.8 L800.5,526.4 L801.0,522.5 L801.5,518.1 L802.0,513.4 L802.5,508.2 L803.0,502.8 L803.5,497.1 L804.0,491.2 L804.5,485.4 L805.0,479.7 L805.5,474.5 L806.0,470.1 L806.5,466.7 L807.0,464.7 L807.5,464.4 L808.0,465.8 L808.5,468.9 L809.0,473.5 L809.5,479.2 L810.0,485.4 L810.5,491.9 L811.0,498.4 L811.5,504.6 L812.0,510.6 L812.5,516.0 L813.0,521.0 L813.5,525.4 L814.0,529.2 L814.5,532.5 L815.0,535.3 L815.5,537.7 L816.0,539.6 L816.5,541.3 L817.0,542.6 L817.5,543.7 L818.0,544.6 L818.5,545.3 L819.0,545.9 L819.5,546.4 L820.0,546.9 L820.5,547.3 L821.0,547.7 L821.5,548.1 L822.0,548.4 L822.5,548.5 L823.0,548.7 L823.5,548.8 L824.0,548.9 L824.5,548.9 L825.0,549.2 L825.5,549.4 L826.0,549.6 L826.5,549.8 L827.0,549.9 L827.5,550.0 L828.0,550.0 L828.5,550.0 L829.0,550.1 L829.5,550.1 L830.0,550.2 L830.5,550.3 L831.0,550.5 L831.5,550.6 L832.0,550.7 L832.5,550.8 L833.0,550.8 L833.5,550.9 L834.0,550.9 L834.5,550.9 L835.0,551.0 L835.5,551.0 L836.0,551.1 L836.5,551.1 L837.0,551.2 L837.5,551.2 L838.0,551.3 L838.5,551.4 L839.0,551.5 L839.5,551.6 L840.0,551.5 L840.5,551.3 L841.0,551.2 L841.5,551.1 L842.0,550.9 L842.5,551.1 L843.0,551.3 L843.5,551.4 L844.0,551.6 L844.5,551.8 L845.0,551.7 L845.5,551.7 L846.0,551.6 L846.5,551.6 L847.0,551.5 L847.5,551.5 L848.0,551.6 L848.5,551.6 L849.0,551.6 L849.5,551.6 L850.0,551.7 L850.5,551.7 L851.0,551.7 L851.5,551.8 L852.0,551.8 L852.5,551.8 L853.0,551.9 L853.5,551.9 L854.0,552.0 L854.5,552.0 L855.0,551.9 L855.5,551.8 L856.0,551.8 L856.5,551.7 L857.0,551.6 L857.5,551.6 L858.0,551.6 L858.5,551.6 L859.0,551.7 L859.5,551.7 L860.0,551.8 L860.5,551.9 L861.0,552.0 L861.5,552.1 L862.0,552.2 L862.5,552.0 L863.0,551.9 L863.5,551.7 L864.0,551.6 L864.5,551.4 L865.0,551.5 L865.5,551.6 L866.0,551.7 L866.5,551.8 L867.0,551.9 L867.5,551.9 L868.0,551.9 L868.5,551.9 L869.0,551.9 L869.5,551.9 L870.0,551.8 L870.5,551.7 L871.0,551.6 L871.5,551.5 L872.0,551.4 L872.5,551.5 L873.0,551.6 L873.5,551.7 L874.0,551.8 L874.5,551.9 L875.0,552.0 L875.5,552.0 L876.0,552.0 L876.5,552.0 L877.0,552.0 L877.5,552.1 L878.0,552.1 L878.5,552.2 L879.0,552.2 L879.5,552.2 L880.0,552.1 L880.5,552.0 L881.0,551.9 L881.5,551.8 L882.0,551.7 L882.5,551.8 L883.0,551.9 L883.5,552.1 L884.0,552.2 L884.5,552.3 L885.0,552.2 L885.5,552.1 L886.0,552.0 L886.5,552.0 L887.0,551.9 L887.5,551.9 L888.0,551.9 L888.5,551.9 L889.0,551.8 L889.5,551.8 L890.0,551.9 L890.5,552.0 L891.0,552.1 L891.5,552.1 L892.0,552.2 L892.5,552.0 L893.0,551.9 L893.5,551.7 L894.0,551.6 L894.5,551.4 L895.0,551.5 L895.5,551.7 L896.0,551.8 L896.5,551.9 L897.0,552.0 L897.5,552.0 L898.0,552.0 L898.5,552.0 L899.0,551.9 L899.5,551.9 L900.0,551.9 L900.5,551.8 L901.0,551.8 L901.5,551.7 L902.0,551.6 L902.5,551.7 L903.0,551.8 L903.5,551.9 L904.0,552.0 L904.5,552.1 L905.0,552.0 L905.5,551.9 L906.0,551.8 L906.5,551.7 L907.0,551.6 L907.5,551.6 L908.0,551.6 L908.5,551.7 L909.0,551.7 L909.5,551.7 L910.0,551.7 L910.5,551.7 L911.0,551.7 L911.5,551.7 L912.0,551.7 L912.5,551.7 L913.0,551.8 L913.5,551.8 L914.0,551.8 L914.5,551.9 L915.0,551.7 L915.5,551.6 L916.0,551.5 L916.5,551.4 L917.0,551.3 L917.5,551.3 L918.0,551.3 L918.5,551.4 L919.0,551.4 L919.5,551.4 L920.0,551.4 L920.5,551.4 L921.0,551.4 L921.5,551.3 L922.0,551.3 L922.5,551.3 L923.0,551.3 L923.5,551.3 L924.0,551.3 L924.5,551.3 L925.0,551.3 L925.5,551.4 L926.0,551.4 L926.5,551.4 L927.0,551.4 L927.5,551.3 L928.0,551.1 L928.5,551.0 L929.0,550.9 L929.5,550.7 L930.0,550.8 L930.5,550.8 L931.0,550.9 L931.5,550.9 L932.0,551.0 L932.5,550.8 L933.0,550.7 L933.5,550.5 L934.0,550.4 L934.5,550.2 L935.0,550.2 L935.5,550.1 L936.0,550.0 L936.5,549.9 L937.0,549.8 L937.5,549.6 L938.0,549.5 L938.5,549.3 L939.0,549.1 L939.5,548.9 L940.0,548.7 L940.5,548.6 L941.0,548.4 L941.5,548.2 L942.0,547.9 L942.5,547.7 L943.0,547.5 L943.5,547.2 L944.0,546.8 L944.5,546.5 L945.0,545.9 L945.5,545.2 L946.0,544.5 L946.5,543.7 L947.0,542.8 L947.5,541.9 L948.0,540.9 L948.5,539.8 L949.0,538.6 L949.5,537.2 L950.0,535.7 L950.5,534.0 L951.0,532.2 L951.5,530.3 L952.0,528.5 L952.5,526.7 L953.0,525.1 L953.5,523.7 L954.0,522.6 L954.5,521.9 L955.0,521.6 L955.5,522.4 L956.0,524.6 L956.5,527.6 L957.0,530.8 L957.5,534.0 L958.0,536.9 L958.5,539.4 L959.0,541.5 L959.5,543.2 L960.0,544.6 L960.5,545.7 L961.0,546.6 L961.5,547.4 L962.0,548.0 L962.5,548.5 L963.0,548.9 L963.5,549.3 L964.0,549.7 L964.5,549.9 L965.0,550.0 L965.5,550.1 L966.0,550.1 L966.5,550.1 L967.0,550.1 L967.5,550.4 L968.0,550.6 L968.5,550.8 L969.0,551.0 L969.5,551.2 L970.0,551.3 L970.5,551.4 L971.0,551.5 L971.5,551.6 L972.0,551.7 L972.5,551.7 L973.0,551.6 L973.5,551.6 L974.0,551.6 L974.5,551.6 L975.0,551.5 L975.5,551.4 L976.0,551.4 L976.5,551.3 L977.0,551.3 L977.5,551.3 L978.0,551.4 L978.5,551.4 L979.0,551.5 L979.5,551.6 L980.0,551.5 L980.5,551.5 L981.0,551.5 L981.5,551.4 L982.0,551.4 L982.5,551.4 L983.0,551.5 L983.5,551.5 L984.0,551.5 L984.5,551.6 L985.0,551.7 L985.5,551.9 L986.0,552.0 L986.5,552.1 L987.0,552.3 L987.5,552.2 L988.0,552.2 L988.5,552.1 L989.0,552.1 L989.5,552.0 L990.0,552.0 L990.5,552.1 L991.0,552.1 L991.5,552.1 L992.0,552.1 L992.5,552.1 L993.0,552.2 L993.5,552.2 L994.0,552.2 L994.5,552.2 L995.0,552.3 L995.5,552.3 L996.0,552.3 L996.5,552.3 L997.0,552.3 L997.5,552.3 L998.0,552.2 L998.5,552.2 L999.0,552.1 L999.5,552.1 L1000.0,552.1 L1000.5,552.1 L1001.0,552.1 L1001.5,552.1 L1002.0,552.1 L1002.5,552.1 L1003.0,552.1 L1003.5,552.1 L1004.0,552.1 L1004.5,552.1 L1005.0,552.1 L1005.5,552.1 L1006.0,552.1 L1006.5,552.1 L1007.0,552.1 L1007.5,552.1 L1008.0,552.1 L1008.5,552.0 L1009.0,552.0 L1009.5,552.0 L1010.0,552.0 L1010.5,552.0 L1011.0,552.0 L1011.5,552.0 L1012.0,552.0 L1012.5,551.8 L1013.0,551.7 L1013.5,551.6 L1014.0,551.5 L1014.5,551.3 L1015.0,551.3 L1015.5,551.3 L1016.0,551.2 L1016.5,551.1 L1017.0,551.0 L1017.5,550.8 L1018.0,550.5 L1018.5,550.2 L1019.0,549.8 L1019.5,549.4 L1020.0,549.1 L1020.5,548.8 L1021.0,548.4 L1021.5,548.2 L1022.0,548.0 L1022.5,547.7 L1023.0,547.5 L1023.5,547.4 L1024.0,547.5 L1024.5,547.6 L1025.0,548.0 L1025.5,548.3 L1026.0,548.7 L1026.5,549.1 L1027.0,549.5 L1027.5,549.8 L1028.0,550.0 L1028.5,550.3 L1029.0,550.5 L1029.5,550.6 L1030.0,550.9 L1030.5,551.2 L1031.0,551.4 L1031.5,551.6 L1032.0,551.8 L1032.5,551.9 L1033.0,552.0 L1033.5,552.0 L1034.0,552.1 L1034.5,552.1 L1035.0,552.1 L1035.5,552.1 L1036.0,552.0 L1036.5,552.0 L1037.0,552.0 L1037.5,551.9 L1038.0,551.9 L1038.5,551.8 L1039.0,551.8 L1039.5,551.7 L1040.0,551.8 L1040.5,551.9 L1041.0,552.0 L1041.5,552.1 L1042.0,552.1 L1042.5,552.1 L1043.0,552.1 L1043.5,552.1 L1044.0,552.1 L1044.5,552.1 L1045.0,552.1 L1045.5,552.0 L1046.0,552.0 L1046.5,551.9 L1047.0,551.9 L1047.5,551.8 L1048.0,551.8 L1048.5,551.7 L1049.0,551.6 L1049.5,551.6 L1050.0,551.6 L1050.5,551.6 L1051.0,551.6 L1051.5,551.6 L1052.0,551.6 L1052.5,551.6 L1053.0,551.6 L1053.5,551.6 L1054.0,551.6 L1054.5,551.6 L1055.0,551.6 L1055.5,551.5 L1056.0,551.5 L1056.5,551.5 L1057.0,551.4 L1057.5,551.4 L1058.0,551.4 L1058.5,551.4 L1059.0,551.4 L1059.5,551.4 L1060.0,551.5 L1060.5,551.5 L1061.0,551.5 L1061.5,551.5 L1062.0,551.5 L1062.5,551.5 L1063.0,551.6 L1063.5,551.6 L1064.0,551.6 L1064.5,551.6 L1065.0,551.4 L1065.5,551.2 L1066.0,551.0 L1066.5,550.8 L1067.0,550.6 L1067.5,550.6 L1068.0,550.7 L1068.5,550.7 L1069.0,550.7 L1069.5,550.8 L1070.0,550.6 L1070.5,550.4 L1071.0,550.2 L1071.5,550.1 L1072.0,549.9 L1072.5,549.8 L1073.0,549.7 L1073.5,549.6 L1074.0,549.5 L1074.5,549.4 L1075.0,549.3 L1075.5,549.3 L1076.0,549.2 L1076.5,549.2 L1077.0,549.1 L1077.5,548.8 L1078.0,548.5 L1078.5,548.1 L1079.0,547.8 L1079.5,547.4 L1080.0,547.0 L1080.5,546.6 L1081.0,546.2 L1081.5,545.7 L1082.0,545.1 L1082.5,544.3 L1083.0,543.4 L1083.5,542.4 L1084.0,541.4 L1084.5,540.2 L1085.0,538.9 L1085.5,537.5 L1086.0,536.0 L1086.5,534.4 L1087.0,532.7 L1087.5,531.1 L1088.0,529.6 L1088.5,528.0 L1089.0,526.7 L1089.5,525.5 L1090.0,524.7 L1090.5,524.3 L1091.0,524.3 L1091.5,525.5 L1092.0,527.7 L1092.5,530.4 L1093.0,533.3 L1093.5,536.1 L1094.0,538.6 L1094.5,540.8 L1095.0,542.6 L1095.5,544.1 L1096.0,545.3 L1096.5,546.4 L1097.0,547.2 L1097.5,547.8 L1098.0,548.3 L1098.5,548.7 L1099.0,549.0 L1099.5,549.3 L1100.0,549.5 L1100.5,549.8 L1101.0,550.0 L1101.5,550.2 L1102.0,550.3 L1102.5,550.4 L1103.0,550.5 L1103.5,550.6 L1104.0,550.6 L1104.5,550.7 L1105.0,550.8 L1105.5,551.0 L1106.0,551.2 L1106.5,551.3 L1107.0,551.5 L1107.5,551.5 L1108.0,551.5 L1108.5,551.4 L1109.0,551.4 L1109.5,551.3 L1110.0,551.4 L1110.5,551.4 L1111.0,551.4 L1111.5,551.4 L1112.0,551.5 L1112.5,551.5 L1113.0,551.5 L1113.5,551.4 L1114.0,551.4 L1114.5,551.4 L1115.0,551.5 L1115.5,551.5 L1116.0,551.5 L1116.5,551.5 L1117.0,551.5 L1117.5,551.6 L1118.0,551.8 L1118.5,551.9 L1119.0,552.1 L1119.5,552.2 L1120.0,552.1 L1120.5,552.0 L1121.0,551.9 L1121.5,551.8 L1122.0,551.7 L1122.5,551.9 L1123.0,552.0 L1123.5,552.2 L1124.0,552.4 L1124.5,552.5 L1125.0,552.4 L1125.5,552.2 L1126.0,552.1 L1126.5,551.9 L1127.0,551.8 L1127.5,551.9 L1128.0,552.0 L1128.5,552.2 L1129.0,552.3 L1129.5,552.5 L1130.0,552.4 L1130.5,552.2 L1131.0,552.1 L1131.5,552.0 L1132.0,551.8 L1132.5,551.8 L1133.0,551.8 L1133.5,551.8 L1134.0,551.8 L1134.5,551.7 L1135.0,551.9 L1135.5,552.0 L1136.0,552.1 L1136.5,552.2 L1137.0,552.4 L1137.5,552.3 L1138.0,552.2 L1138.5,552.1 L1139.0,552.0 L1139.5,551.9 L1140.0,552.0 L1140.5,552.1 L1141.0,552.2 L1141.5,552.3 L1142.0,552.4 L1142.5,552.3 L1143.0,552.2 L1143.5,552.0 L1144.0,551.9 L1144.5,551.8 L1145.0,551.8 L1145.5,551.8 L1146.0,551.7 L1146.5,551.7 L1147.0,551.6 L1147.5,551.7 L1148.0,551.8 L1148.5,551.9 L1149.0,552.0 L1149.5,552.0 L1150.0,551.9 L1150.5,551.7 L1151.0,551.6 L1151.5,551.3 L1152.0,551.1 L1152.5,550.8 L1153.0,550.5 L1153.5,550.1 L1154.0,549.8 L1154.5,549.4 L1155.0,548.9 L1155.5,548.6 L1156.0,548.3 L1156.5,548.1 L1157.0,548.1 L1157.5,548.2 L1158.0,548.3 L1158.5,548.6 L1159.0,548.9 L1159.5,549.2 L1160.0,549.7 L1160.5,550.2 L1161.0,550.6 L1161.5,551.0 L1162.0,551.3 L1162.5,551.5 L1163.0,551.7 L1163.5,551.9 L1164.0,552.0 L1164.5,552.1 L1165.0,552.1 L1165.5,552.1 L1166.0,552.1 L1166.5,552.1 L1167.0,552.1 L1167.5,552.2 L1168.0,552.3 L1168.5,552.4 L1169.0,552.5 L1169.5,552.6 L1170.0,552.5 L1170.5,552.4 L1171.0,552.2 L1171.5,552.1 L1172.0,552.0 L1172.5,552.1 L1173.0,552.3 L1173.5,552.4 L1174.0,552.5 L1174.5,552.7 L1175.0,552.6 L1175.5,552.6 L1176.0,552.6 L1176.5,552.5 L1177.0,552.5 L1177.5,552.4 L1178.0,552.2 L1178.5,552.1 L1179.0,552.0 L1179.5,551.9 L1180.0,551.9 L1180.5,551.9 L1181.0,551.9 L1181.5,551.9 L1182.0,551.9 L1182.5,552.0 L1183.0,552.1 L1183.5,552.2 L1184.0,552.3 L1184.5,552.4 L1185.0,552.5 L1185.5,552.5 L1186.0,552.5 L1186.5,552.6 L1187.0,552.6 L1187.5,552.5 L1188.0,552.3 L1188.5,552.2 L1189.0,552.1 L1189.5,551.9 L1190.0,552.0 L1190.5,552.0 L1191.0,552.1 L1191.5,552.1 L1192.0,552.1 L1192.5,552.2 L1193.0,552.3 L1193.5,552.4 L1194.0,552.4 L1194.5,552.5 L1195.0,552.4 L1195.5,552.3 L1196.0,552.2 L1196.5,552.1 L1197.0,552.0 L1197.5,552.1 L1198.0,552.2 L1198.5,552.4 L1199.0,552.5 L1199.5,552.6 L1200.0,552.5 L1200.5,552.5 L1201.0,552.4 L1201.5,552.3 L1202.0,552.2 L1202.5,552.2 L1203.0,552.1 L1203.5,552.0 L1204.0,551.9 L1204.5,551.8 L1205.0,551.9 L1205.5,551.9 L1206.0,551.9 L1206.5,552.0 L1207.0,552.0 L1207.5,552.0 L1208.0,552.0 L1208.5,552.1 L1209.0,552.1 L1209.5,552.1 L1210.0,552.0 L1210.5,551.9 L1211.0,551.8 L1211.5,551.7 L1212.0,551.6 L1212.5,551.5 L1213.0,551.3 L1213.5,551.2 L1214.0,551.0 L1214.5,550.7 L1215.0,550.2 L1215.5,549.7 L1216.0,549.2 L1216.5,548.6 L1217.0,548.0 L1217.5,547.6 L1218.0,547.3 L1218.5,547.1 L1219.0,547.0 L1219.5,547.1 L1220.0,547.0 L1220.5,547.1 L1221.0,547.1 L1221.5,547.2 L1222.0,547.2 L1222.5,547.3 L1223.0,547.3 L1223.5,547.3 L1224.0,547.2 L1224.5,547.2 L1225.0,547.2 L1225.5,547.3 L1226.0,547.5 L1226.5,547.8 L1227.0,548.2 L1227.5,548.6 L1228.0,549.1 L1228.5,549.5 L1229.0,549.9 L1229.5,550.2 L1230.0,550.6 L1230.5,550.9 L1231.0,551.1 L1231.5,551.3 L1232.0,551.5 L1232.5,551.7 L1233.0,551.8 L1233.5,552.0 L1234.0,552.1 L1234.5,552.3 L1235.0,552.3 L1235.5,552.4 L1236.0,552.5 L1236.5,552.5 L1237.0,552.6 L1237.5,552.6 L1238.0,552.5 L1238.5,552.5 L1239.0,552.5 L1239.5,552.5 L1240.0,552.5 L1240.5,552.4 L1241.0,552.4 L1241.5,552.4 L1242.0,552.4 L1242.5,552.3 L1243.0,552.3 L1243.5,552.2 L1244.0,552.2 L1244.5,552.1 L1245.0,552.1 L1245.5,552.1 L1246.0,552.0 L1246.5,552.0 L1247.0,552.0 L1247.5,552.1 L1248.0,552.3 L1248.5,552.5 L1249.0,552.6 L1249.5,552.8 L1250.0,552.8 L1250.5,552.7 L1251.0,552.7 L1251.5,552.6 L1252.0,552.6 L1252.5,552.6 L1253.0,552.6 L1253.5,552.6 L1254.0,552.7 L1254.5,552.7 L1255.0,552.6 L1255.5,552.5 L1256.0,552.4 L1256.5,552.3 L1257.0,552.3 L1257.5,552.3 L1258.0,552.4 L1258.5,552.4 L1259.0,552.5 L1259.5,552.5 L1260.0,552.6 L1260.5,552.7 L1261.0,552.7 L1261.5,552.8 L1262.0,552.9 L1262.5,552.8 L1263.0,552.8 L1263.5,552.8 L1264.0,552.8 L1264.5,552.7 L1265.0,552.7 L1265.5,552.7 L1266.0,552.6 L1266.5,552.6 L1267.0,552.5 L1267.5,552.5 L1268.0,552.4 L1268.5,552.4 L1269.0,552.3 L1269.5,552.3 L1270.0,552.3 L1270.5,552.3 L1271.0,552.3 L1271.5,552.4 L1272.0,552.4 L1272.5,552.5 L1273.0,552.6 L1273.5,552.6 L1274.0,552.7 L1274.5,552.8 L1275.0,552.7 L1275.5,552.6 L1276.0,552.5" fill="none" stroke="#0000f0" stroke-width="4.6" stroke-linejoin="round" stroke-linecap="round"/>
<path d="M112.0,430.2 L112.5,430.0 L113.0,429.9 L113.5,429.8 L114.0,429.7 L114.5,429.6 L115.0,429.7 L115.5,429.8 L116.0,429.9 L116.5,430.1 L117.0,430.2 L117.5,430.1 L118.0,430.0 L118.5,429.9 L119.0,429.8 L119.5,429.7 L120.0,429.7 L120.5,429.7 L121.0,429.6 L121.5,429.6 L122.0,429.6 L122.5,429.7 L123.0,429.9 L123.5,430.1 L124.0,430.2 L124.5,430.4 L125.0,430.3 L125.5,430.1 L126.0,430.0 L126.5,429.9 L127.0,429.7 L127.5,429.9 L128.0,430.0 L128.5,430.1 L129.0,430.3 L129.5,430.4 L130.0,430.4 L130.5,430.4 L131.0,430.3 L131.5,430.3 L132.0,430.3 L132.5,430.3 L133.0,430.3 L133.5,430.3 L134.0,430.3 L134.5,430.3 L135.0,430.2 L135.5,430.1 L136.0,429.9 L136.5,429.8 L137.0,429.7 L137.5,429.7 L138.0,429.8 L138.5,429.8 L139.0,429.9 L139.5,429.9 L140.0,429.9 L140.5,429.8 L141.0,429.8 L141.5,429.7 L142.0,429.6 L142.5,429.8 L143.0,429.9 L143.5,430.1 L144.0,430.2 L144.5,430.4 L145.0,430.4 L145.5,430.3 L146.0,430.3 L146.5,430.3 L147.0,430.3 L147.5,430.3 L148.0,430.2 L148.5,430.2 L149.0,430.1 L149.5,430.1 L150.0,430.1 L150.5,430.0 L151.0,430.0 L151.5,430.0 L152.0,429.9 L152.5,429.9 L153.0,429.9 L153.5,429.9 L154.0,429.9 L154.5,429.8 L155.0,429.9 L155.5,430.0 L156.0,430.1 L156.5,430.2 L157.0,430.3 L157.5,430.2 L158.0,430.2 L158.5,430.1 L159.0,430.0 L159.5,430.0 L160.0,430.0 L160.5,430.0 L161.0,430.1 L161.5,430.1 L162.0,430.1 L162.5,430.0 L163.0,429.9 L163.5,429.8 L164.0,429.8 L164.5,429.7 L165.0,429.7 L165.5,429.7 L166.0,429.7 L166.5,429.7 L167.0,429.7 L167.5,429.7 L168.0,429.7 L168.5,429.7 L169.0,429.6 L169.5,429.6 L170.0,429.7 L170.5,429.8 L171.0,429.9 L171.5,430.1 L172.0,430.2 L172.5,430.2 L173.0,430.1 L173.5,430.1 L174.0,430.1 L174.5,430.0 L175.0,430.0 L175.5,429.9 L176.0,429.8 L176.5,429.7 L177.0,429.7 L177.5,429.8 L178.0,429.9 L178.5,430.1 L179.0,430.2 L179.5,430.3 L180.0,430.2 L180.5,430.1 L181.0,430.0 L181.5,429.9 L182.0,429.8 L182.5,429.8 L183.0,429.8 L183.5,429.9 L184.0,429.9 L184.5,429.9 L185.0,429.9 L185.5,429.8 L186.0,429.8 L186.5,429.7 L187.0,429.7 L187.5,429.7 L188.0,429.7 L188.5,429.7 L189.0,429.8 L189.5,429.8 L190.0,429.9 L190.5,430.0 L191.0,430.1 L191.5,430.2 L192.0,430.3 L192.5,430.2 L193.0,430.1 L193.5,430.0 L194.0,429.9 L194.5,429.8 L195.0,429.8 L195.5,429.8 L196.0,429.7 L196.5,429.7 L197.0,429.7 L197.5,429.7 L198.0,429.8 L198.5,429.9 L199.0,429.9 L199.5,430.0 L200.0,429.9 L200.5,429.9 L201.0,429.9 L201.5,429.9 L202.0,429.8 L202.5,429.9 L203.0,430.0 L203.5,430.1 L204.0,430.2 L204.5,430.3 L205.0,430.2 L205.5,430.1 L206.0,429.9 L206.5,429.8 L207.0,429.6 L207.5,429.8 L208.0,429.9 L208.5,430.1 L209.0,430.3 L209.5,430.4 L210.0,430.3 L210.5,430.1 L211.0,429.9 L211.5,429.8 L212.0,429.6 L212.5,429.7 L213.0,429.9 L213.5,430.0 L214.0,430.2 L214.5,430.3 L215.0,430.3 L215.5,430.3 L216.0,430.2 L216.5,430.2 L217.0,430.1 L217.5,430.1 L218.0,430.0 L218.5,429.9 L219.0,429.8 L219.5,429.7 L220.0,429.8 L220.5,429.8 L221.0,429.9 L221.5,429.9 L222.0,430.0 L222.5,429.9 L223.0,429.9 L223.5,429.9 L224.0,429.8 L224.5,429.8 L225.0,429.8 L225.5,429.8 L226.0,429.8 L226.5,429.8 L227.0,429.8 L227.5,429.8 L228.0,429.7 L228.5,429.7 L229.0,429.7 L229.5,429.7 L230.0,429.7 L230.5,429.8 L231.0,429.8 L231.5,429.8 L232.0,429.9 L232.5,430.0 L233.0,430.1 L233.5,430.2 L234.0,430.3 L234.5,430.4 L235.0,430.4 L235.5,430.4 L236.0,430.4 L236.5,430.4 L237.0,430.4 L237.5,430.4 L238.0,430.4 L238.5,430.4 L239.0,430.4 L239.5,430.4 L240.0,430.2 L240.5,430.1 L241.0,429.9 L241.5,429.8 L242.0,429.6 L242.5,429.6 L243.0,429.7 L243.5,429.7 L244.0,429.7 L244.5,429.8 L245.0,429.9 L245.5,430.0 L246.0,430.1 L246.5,430.2 L247.0,430.3 L247.5,430.2 L248.0,430.0 L248.5,429.9 L249.0,429.7 L249.5,429.6 L250.0,429.7 L250.5,429.8 L251.0,429.9 L251.5,430.0 L252.0,430.2 L252.5,430.1 L253.0,430.0 L253.5,429.9 L254.0,429.8 L254.5,429.7 L255.0,429.9 L255.5,430.0 L256.0,430.1 L256.5,430.2 L257.0,430.3 L257.5,430.2 L258.0,430.0 L258.5,429.8 L259.0,429.6 L259.5,429.4 L260.0,429.6 L260.5,429.7 L261.0,429.8 L261.5,429.9 L262.0,430.0 L262.5,429.9 L263.0,429.7 L263.5,429.5 L264.0,429.3 L264.5,429.0 L265.0,428.8 L265.5,428.5 L266.0,428.2 L266.5,427.9 L267.0,427.7 L267.5,427.6 L268.0,427.6 L268.5,427.8 L269.0,428.0 L269.5,428.2 L270.0,428.6 L270.5,429.0 L271.0,429.3 L271.5,429.6 L272.0,429.9 L272.5,429.9 L273.0,429.9 L273.5,429.9 L274.0,429.9 L274.5,429.8 L275.0,429.8 L275.5,429.7 L276.0,429.7 L276.5,429.6 L277.0,429.6 L277.5,429.6 L278.0,429.7 L278.5,429.7 L279.0,429.8 L279.5,429.8 L280.0,429.9 L280.5,430.0 L281.0,430.1 L281.5,430.1 L282.0,430.2 L282.5,430.1 L283.0,430.0 L283.5,429.8 L284.0,429.7 L284.5,429.6 L285.0,429.6 L285.5,429.7 L286.0,429.7 L286.5,429.8 L287.0,429.8 L287.5,429.7 L288.0,429.6 L288.5,429.5 L289.0,429.4 L289.5,429.3 L290.0,429.3 L290.5,429.2 L291.0,429.2 L291.5,429.1 L292.0,429.0 L292.5,429.0 L293.0,429.0 L293.5,429.0 L294.0,428.9 L294.5,428.7 L295.0,428.2 L295.5,427.3 L296.0,425.8 L296.5,423.3 L297.0,419.4 L297.5,413.9 L298.0,407.8 L298.5,403.0 L299.0,402.5 L299.5,406.4 L300.0,412.3 L300.5,417.9 L301.0,422.1 L301.5,424.9 L302.0,426.5 L302.5,427.4 L303.0,428.0 L303.5,428.3 L304.0,428.5 L304.5,428.7 L305.0,428.9 L305.5,429.1 L306.0,429.3 L306.5,429.5 L307.0,429.6 L307.5,429.6 L308.0,429.7 L308.5,429.7 L309.0,429.7 L309.5,429.7 L310.0,429.7 L310.5,429.7 L311.0,429.6 L311.5,429.6 L312.0,429.6 L312.5,429.6 L313.0,429.6 L313.5,429.6 L314.0,429.6 L314.5,429.6 L315.0,429.7 L315.5,429.7 L316.0,429.8 L316.5,429.9 L317.0,430.0 L317.5,430.0 L318.0,430.0 L318.5,430.0 L319.0,430.1 L319.5,430.1 L320.0,430.1 L320.5,430.1 L321.0,430.1 L321.5,430.2 L322.0,430.2 L322.5,430.1 L323.0,430.1 L323.5,430.1 L324.0,430.0 L324.5,430.0 L325.0,429.9 L325.5,429.9 L326.0,429.8 L326.5,429.7 L327.0,429.7 L327.5,429.6 L328.0,429.6 L328.5,429.6 L329.0,429.6 L329.5,429.5 L330.0,429.7 L330.5,429.8 L331.0,429.9 L331.5,430.0 L332.0,430.1 L332.5,430.1 L333.0,430.0 L333.5,430.0 L334.0,429.9 L334.5,429.8 L335.0,429.9 L335.5,430.0 L336.0,430.0 L336.5,430.1 L337.0,430.1 L337.5,430.0 L338.0,429.9 L338.5,429.8 L339.0,429.6 L339.5,429.5 L340.0,429.7 L340.5,429.8 L341.0,429.9 L341.5,430.1 L342.0,430.2 L342.5,430.1 L343.0,430.0 L343.5,429.9 L344.0,429.9 L344.5,429.8 L345.0,429.9 L345.5,429.9 L346.0,430.0 L346.5,430.1 L347.0,430.2 L347.5,430.2 L348.0,430.2 L348.5,430.2 L349.0,430.2 L349.5,430.2 L350.0,430.2 L350.5,430.1 L351.0,430.0 L351.5,429.9 L352.0,429.9 L352.5,429.8 L353.0,429.7 L353.5,429.6 L354.0,429.5 L354.5,429.4 L355.0,429.6 L355.5,429.7 L356.0,429.9 L356.5,430.0 L357.0,430.2 L357.5,430.1 L358.0,430.0 L358.5,429.9 L359.0,429.8 L359.5,429.6 L360.0,429.7 L360.5,429.7 L361.0,429.7 L361.5,429.7 L362.0,429.6 L362.5,429.2 L363.0,428.7 L363.5,427.9 L364.0,426.9 L364.5,425.6 L365.0,424.2 L365.5,422.9 L366.0,422.1 L366.5,422.2 L367.0,423.1 L367.5,424.6 L368.0,426.0 L368.5,427.3 L369.0,428.2 L369.5,428.9 L370.0,429.2 L370.5,429.4 L371.0,429.4 L371.5,429.5 L372.0,429.4 L372.5,429.4 L373.0,429.4 L373.5,429.4 L374.0,429.4 L374.5,429.4 L375.0,429.5 L375.5,429.5 L376.0,429.6 L376.5,429.6 L377.0,429.6 L377.5,429.7 L378.0,429.7 L378.5,429.8 L379.0,429.8 L379.5,429.8 L380.0,429.7 L380.5,429.6 L381.0,429.5 L381.5,429.4 L382.0,429.3 L382.5,429.4 L383.0,429.4 L383.5,429.5 L384.0,429.6 L384.5,429.7 L385.0,429.6 L385.5,429.6 L386.0,429.5 L386.5,429.4 L387.0,429.2 L387.5,429.1 L388.0,428.7 L388.5,428.3 L389.0,427.5 L389.5,426.6 L390.0,425.3 L390.5,424.1 L391.0,423.2 L391.5,423.0 L392.0,423.7 L392.5,424.9 L393.0,426.2 L393.5,427.3 L394.0,428.2 L394.5,428.9 L395.0,429.2 L395.5,429.5 L396.0,429.6 L396.5,429.7 L397.0,429.8 L397.5,429.8 L398.0,429.9 L398.5,429.9 L399.0,429.9 L399.5,430.0 L400.0,429.9 L400.5,429.8 L401.0,429.7 L401.5,429.6 L402.0,429.5 L402.5,429.6 L403.0,429.7 L403.5,429.7 L404.0,429.8 L404.5,429.9 L405.0,429.8 L405.5,429.7 L406.0,429.7 L406.5,429.6 L407.0,429.5 L407.5,429.6 L408.0,429.7 L408.5,429.7 L409.0,429.8 L409.5,429.8 L410.0,429.7 L410.5,429.6 L411.0,429.4 L411.5,429.3 L412.0,429.2 L412.5,429.3 L413.0,429.4 L413.5,429.5 L414.0,429.7 L414.5,429.8 L415.0,429.8 L415.5,429.8 L416.0,429.8 L416.5,429.8 L417.0,429.8 L417.5,429.7 L418.0,429.5 L418.5,429.4 L419.0,429.3 L419.5,429.2 L420.0,429.2 L420.5,429.1 L421.0,429.1 L421.5,429.0 L422.0,429.0 L422.5,428.9 L423.0,428.8 L423.5,428.8 L424.0,428.7 L424.5,428.6 L425.0,428.5 L425.5,428.4 L426.0,428.3 L426.5,428.1 L427.0,428.0 L427.5,427.7 L428.0,427.4 L428.5,427.1 L429.0,426.7 L429.5,426.3 L430.0,426.1 L430.5,425.9 L431.0,425.5 L431.5,425.1 L432.0,424.5 L432.5,423.5 L433.0,422.2 L433.5,420.6 L434.0,418.6 L434.5,416.0 L435.0,412.6 L435.5,407.7 L436.0,399.5 L436.5,384.3 L437.0,355.1 L437.5,302.7 L438.0,223.2 L438.5,132.3 L439.0,86.2 L439.5,132.2 L440.0,223.1 L440.5,302.7 L441.0,355.1 L441.5,384.4 L442.0,399.5 L442.5,407.8 L443.0,412.9 L443.5,416.4 L444.0,418.9 L444.5,420.9 L445.0,422.2 L445.5,423.2 L446.0,424.0 L446.5,424.6 L447.0,425.0 L447.5,425.5 L448.0,426.0 L448.5,426.4 L449.0,426.7 L449.5,427.0 L450.0,427.3 L450.5,427.6 L451.0,427.9 L451.5,428.2 L452.0,428.4 L452.5,428.5 L453.0,428.5 L453.5,428.5 L454.0,428.5 L454.5,428.5 L455.0,428.5 L455.5,428.6 L456.0,428.6 L456.5,428.6 L457.0,428.6 L457.5,428.8 L458.0,428.9 L458.5,429.1 L459.0,429.2 L459.5,429.4 L460.0,429.4 L460.5,429.4 L461.0,429.4 L461.5,429.5 L462.0,429.5 L462.5,429.5 L463.0,429.5 L463.5,429.5 L464.0,429.5 L464.5,429.5 L465.0,429.6 L465.5,429.6 L466.0,429.7 L466.5,429.7 L467.0,429.8 L467.5,429.7 L468.0,429.6 L468.5,429.5 L469.0,429.4 L469.5,429.3 L470.0,429.4 L470.5,429.6 L471.0,429.7 L471.5,429.9 L472.0,430.0 L472.5,430.0 L473.0,430.0 L473.5,430.0 L474.0,430.0 L474.5,429.9 L475.0,429.8 L475.5,429.7 L476.0,429.6 L476.5,429.5 L477.0,429.4 L477.5,429.4 L478.0,429.4 L478.5,429.4 L479.0,429.4 L479.5,429.5 L480.0,429.5 L480.5,429.6 L481.0,429.7 L481.5,429.7 L482.0,429.8 L482.5,429.8 L483.0,429.8 L483.5,429.8 L484.0,429.8 L484.5,429.8 L485.0,429.8 L485.5,429.8 L486.0,429.7 L486.5,429.7 L487.0,429.6 L487.5,429.6 L488.0,429.6 L488.5,429.6 L489.0,429.5 L489.5,429.5 L490.0,429.6 L490.5,429.6 L491.0,429.7 L491.5,429.7 L492.0,429.8 L492.5,429.7 L493.0,429.7 L493.5,429.6 L494.0,429.6 L494.5,429.5 L495.0,429.6 L495.5,429.7 L496.0,429.8 L496.5,429.9 L497.0,430.0 L497.5,430.0 L498.0,430.0 L498.5,430.1 L499.0,430.1 L499.5,430.2 L500.0,430.1 L500.5,429.9 L501.0,429.8 L501.5,429.7 L502.0,429.6 L502.5,429.6 L503.0,429.7 L503.5,429.8 L504.0,429.9 L504.5,429.9 L505.0,430.0 L505.5,430.0 L506.0,430.0 L506.5,430.1 L507.0,430.1 L507.5,430.0 L508.0,429.9 L508.5,429.8 L509.0,429.7 L509.5,429.6 L510.0,429.7 L510.5,429.8 L511.0,429.9 L511.5,430.0 L512.0,430.1 L512.5,430.1 L513.0,430.2 L513.5,430.2 L514.0,430.2 L514.5,430.2 L515.0,430.1 L515.5,430.0 L516.0,429.8 L516.5,429.7 L517.0,429.6 L517.5,429.6 L518.0,429.5 L518.5,429.4 L519.0,429.2 L519.5,429.0 L520.0,428.8 L520.5,428.4 L521.0,428.0 L521.5,427.6 L522.0,427.3 L522.5,427.1 L523.0,427.2 L523.5,427.5 L524.0,428.0 L524.5,428.4 L525.0,428.7 L525.5,429.0 L526.0,429.2 L526.5,429.4 L527.0,429.4 L527.5,429.6 L528.0,429.7 L528.5,429.9 L529.0,430.0 L529.5,430.1 L530.0,430.1 L530.5,430.0 L531.0,430.0 L531.5,430.0 L532.0,429.9 L532.5,429.8 L533.0,429.8 L533.5,429.7 L534.0,429.6 L534.5,429.5 L535.0,429.5 L535.5,429.4 L536.0,429.4 L536.5,429.3 L537.0,429.3 L537.5,429.3 L538.0,429.3 L538.5,429.2 L539.0,429.2 L539.5,429.1 L540.0,429.1 L540.5,429.0 L541.0,429.0 L541.5,428.9 L542.0,428.7 L542.5,428.6 L543.0,428.5 L543.5,428.3 L544.0,428.0 L544.5,427.4 L545.0,426.3 L545.5,424.4 L546.0,421.4 L546.5,416.9 L547.0,410.8 L547.5,403.9 L548.0,397.8 L548.5,395.1 L549.0,396.5 L549.5,400.1 L550.0,403.5 L550.5,406.4 L551.0,409.4 L551.5,413.3 L552.0,417.3 L552.5,421.0 L553.0,423.8 L553.5,425.8 L554.0,427.1 L554.5,427.9 L555.0,428.2 L555.5,428.4 L556.0,428.5 L556.5,428.6 L557.0,428.6 L557.5,428.8 L558.0,428.9 L558.5,429.1 L559.0,429.3 L559.5,429.4 L560.0,429.5 L560.5,429.6 L561.0,429.8 L561.5,429.9 L562.0,430.0 L562.5,430.0 L563.0,430.0 L563.5,430.0 L564.0,430.1 L564.5,430.1 L565.0,430.0 L565.5,429.8 L566.0,429.7 L566.5,429.6 L567.0,429.5 L567.5,429.5 L568.0,429.6 L568.5,429.6 L569.0,429.6 L569.5,429.6 L570.0,429.7 L570.5,429.7 L571.0,429.7 L571.5,429.7 L572.0,429.7 L572.5,429.5 L573.0,429.3 L573.5,429.1 L574.0,428.8 L574.5,428.4 L575.0,428.1 L575.5,427.9 L576.0,427.8 L576.5,428.0 L577.0,428.3 L577.5,428.5 L578.0,428.7 L578.5,428.9 L579.0,429.1 L579.5,429.1 L580.0,429.3 L580.5,429.4 L581.0,429.5 L581.5,429.6 L582.0,429.7 L582.5,429.8 L583.0,429.8 L583.5,429.8 L584.0,429.8 L584.5,429.8 L585.0,429.8 L585.5,429.7 L586.0,429.6 L586.5,429.5 L587.0,429.4 L587.5,429.5 L588.0,429.5 L588.5,429.5 L589.0,429.5 L589.5,429.6 L590.0,429.7 L590.5,429.9 L591.0,430.0 L591.5,430.2 L592.0,430.3 L592.5,430.3 L593.0,430.2 L593.5,430.2 L594.0,430.2 L594.5,430.1 L595.0,430.2 L595.5,430.2 L596.0,430.2 L596.5,430.2 L597.0,430.3 L597.5,430.2 L598.0,430.2 L598.5,430.1 L599.0,430.1 L599.5,430.0 L600.0,430.0 L600.5,430.1 L601.0,430.1 L601.5,430.1 L602.0,430.2 L602.5,430.2 L603.0,430.2 L603.5,430.2 L604.0,430.2 L604.5,430.2 L605.0,430.2 L605.5,430.2 L606.0,430.2 L606.5,430.2 L607.0,430.2 L607.5,430.1 L608.0,429.9 L608.5,429.7 L609.0,429.6 L609.5,429.4 L610.0,429.5 L610.5,429.6 L611.0,429.7 L611.5,429.9 L612.0,430.0 L612.5,429.9 L613.0,429.8 L613.5,429.7 L614.0,429.7 L614.5,429.6 L615.0,429.7 L615.5,429.7 L616.0,429.8 L616.5,429.9 L617.0,429.9 L617.5,429.9 L618.0,429.8 L618.5,429.7 L619.0,429.6 L619.5,429.5 L620.0,429.6 L620.5,429.6 L621.0,429.7 L621.5,429.7 L622.0,429.7 L622.5,429.8 L623.0,429.8 L623.5,429.9 L624.0,429.9 L624.5,430.0 L625.0,429.9 L625.5,429.9 L626.0,429.8 L626.5,429.7 L627.0,429.6 L627.5,429.5 L628.0,429.4 L628.5,429.3 L629.0,429.2 L629.5,429.1 L630.0,429.1 L630.5,429.1 L631.0,429.1 L631.5,429.1 L632.0,429.1 L632.5,429.0 L633.0,428.8 L633.5,428.7 L634.0,428.6 L634.5,428.4 L635.0,428.3 L635.5,428.2 L636.0,428.1 L636.5,427.9 L637.0,427.6 L637.5,427.0 L638.0,426.3 L638.5,425.5 L639.0,424.4 L639.5,422.8 L640.0,420.4 L640.5,416.1 L641.0,408.6 L641.5,396.1 L642.0,377.6 L642.5,354.1 L643.0,330.5 L643.5,317.3 L644.0,323.4 L644.5,344.4 L645.0,368.8 L645.5,389.6 L646.0,404.3 L646.5,413.5 L647.0,418.8 L647.5,421.9 L648.0,423.8 L648.5,425.0 L649.0,425.9 L649.5,426.6 L650.0,427.2 L650.5,427.6 L651.0,428.0 L651.5,428.3 L652.0,428.6 L652.5,428.7 L653.0,428.8 L653.5,428.9 L654.0,428.9 L654.5,428.9 L655.0,429.0 L655.5,429.0 L656.0,429.0 L656.5,429.0 L657.0,429.1 L657.5,429.1 L658.0,429.2 L658.5,429.3 L659.0,429.4 L659.5,429.4 L660.0,429.5 L660.5,429.5 L661.0,429.6 L661.5,429.6 L662.0,429.6 L662.5,429.6 L663.0,429.5 L663.5,429.5 L664.0,429.4 L664.5,429.4 L665.0,429.4 L665.5,429.4 L666.0,429.4 L666.5,429.4 L667.0,429.4 L667.5,429.4 L668.0,429.4 L668.5,429.4 L669.0,429.4 L669.5,429.4 L670.0,429.5 L670.5,429.5 L671.0,429.5 L671.5,429.6 L672.0,429.6 L672.5,429.6 L673.0,429.7 L673.5,429.7 L674.0,429.7 L674.5,429.7 L675.0,429.7 L675.5,429.7 L676.0,429.7 L676.5,429.6 L677.0,429.6 L677.5,429.6 L678.0,429.6 L678.5,429.6 L679.0,429.6 L679.5,429.6 L680.0,429.5 L680.5,429.5 L681.0,429.5 L681.5,429.4 L682.0,429.4 L682.5,429.4 L683.0,429.5 L683.5,429.5 L684.0,429.5 L684.5,429.4 L685.0,429.3 L685.5,429.0 L686.0,428.8 L686.5,428.5 L687.0,428.3 L687.5,428.2 L688.0,428.2 L688.5,428.4 L689.0,428.7 L689.5,429.0 L690.0,429.3 L690.5,429.5 L691.0,429.6 L691.5,429.7 L692.0,429.8 L692.5,429.8 L693.0,429.9 L693.5,429.9 L694.0,429.9 L694.5,430.0 L695.0,429.9 L695.5,429.8 L696.0,429.7 L696.5,429.7 L697.0,429.6 L697.5,429.7 L698.0,429.8 L698.5,429.9 L699.0,430.0 L699.5,430.1 L700.0,430.0 L700.5,430.0 L701.0,429.9 L701.5,429.9 L702.0,429.8 L702.5,429.9 L703.0,429.9 L703.5,429.9 L704.0,429.9 L704.5,429.9 L705.0,429.9 L705.5,429.9 L706.0,430.0 L706.5,430.0 L707.0,430.0 L707.5,430.0 L708.0,429.9 L708.5,429.9 L709.0,429.9 L709.5,429.8 L710.0,429.8 L710.5,429.8 L711.0,429.8 L711.5,429.7 L712.0,429.7 L712.5,429.7 L713.0,429.7 L713.5,429.6 L714.0,429.6 L714.5,429.6 L715.0,429.6 L715.5,429.6 L716.0,429.6 L716.5,429.6 L717.0,429.5 L717.5,429.6 L718.0,429.6 L718.5,429.7 L719.0,429.7 L719.5,429.7 L720.0,429.7 L720.5,429.6 L721.0,429.6 L721.5,429.5 L722.0,429.5 L722.5,429.5 L723.0,429.4 L723.5,429.4 L724.0,429.4 L724.5,429.3 L725.0,429.0 L725.5,428.6 L726.0,428.1 L726.5,427.4 L727.0,426.3 L727.5,425.1 L728.0,423.5 L728.5,421.7 L729.0,419.7 L729.5,418.2 L730.0,417.7 L730.5,418.4 L731.0,420.1 L731.5,422.1 L732.0,424.2 L732.5,425.7 L733.0,426.9 L733.5,427.7 L734.0,428.2 L734.5,428.5 L735.0,428.8 L735.5,429.1 L736.0,429.2 L736.5,429.4 L737.0,429.5 L737.5,429.6 L738.0,429.6 L738.5,429.6 L739.0,429.6 L739.5,429.7 L740.0,429.6 L740.5,429.6 L741.0,429.6 L741.5,429.6 L742.0,429.6 L742.5,429.7 L743.0,429.8 L743.5,430.0 L744.0,430.1 L744.5,430.2 L745.0,430.1 L745.5,430.0 L746.0,429.9 L746.5,429.8 L747.0,429.6 L747.5,429.7 L748.0,429.8 L748.5,429.9 L749.0,430.0 L749.5,430.1 L750.0,430.0 L750.5,429.9 L751.0,429.8 L751.5,429.7 L752.0,429.5 L752.5,429.5 L753.0,429.5 L753.5,429.5 L754.0,429.5 L754.5,429.5 L755.0,429.6 L755.5,429.8 L756.0,429.9 L756.5,430.0 L757.0,430.2 L757.5,430.1 L758.0,430.0 L758.5,430.0 L759.0,429.9 L759.5,429.8 L760.0,429.7 L760.5,429.7 L761.0,429.6 L761.5,429.5 L762.0,429.5 L762.5,429.5 L763.0,429.6 L763.5,429.6 L764.0,429.7 L764.5,429.7 L765.0,429.7 L765.5,429.8 L766.0,429.8 L766.5,429.8 L767.0,429.8 L767.5,429.8 L768.0,429.9 L768.5,429.9 L769.0,430.0 L769.5,430.0 L770.0,429.9 L770.5,429.8 L771.0,429.7 L771.5,429.6 L772.0,429.4 L772.5,429.5 L773.0,429.5 L773.5,429.5 L774.0,429.5 L774.5,429.5 L775.0,429.7 L775.5,429.8 L776.0,429.9 L776.5,430.0 L777.0,430.2 L777.5,430.1 L778.0,430.1 L778.5,430.0 L779.0,430.0 L779.5,429.9 L780.0,429.8 L780.5,429.7 L781.0,429.6 L781.5,429.5 L782.0,429.3 L782.5,429.4 L783.0,429.4 L783.5,429.4 L784.0,429.4 L784.5,429.4 L785.0,429.4 L785.5,429.4 L786.0,429.4 L786.5,429.4 L787.0,429.4 L787.5,429.4 L788.0,429.4 L788.5,429.5 L789.0,429.5 L789.5,429.5 L790.0,429.5 L790.5,429.4 L791.0,429.4 L791.5,429.3 L792.0,429.3 L792.5,429.3 L793.0,429.3 L793.5,429.3 L794.0,429.2 L794.5,429.2 L795.0,429.1 L795.5,429.0 L796.0,428.9 L796.5,428.8 L797.0,428.7 L797.5,428.5 L798.0,428.3 L798.5,428.1 L799.0,427.8 L799.5,427.5 L800.0,427.3 L800.5,427.0 L801.0,426.7 L801.5,426.3 L802.0,425.7 L802.5,425.0 L803.0,423.9 L803.5,422.4 L804.0,420.2 L804.5,416.6 L805.0,411.3 L805.5,403.8 L806.0,393.7 L806.5,381.4 L807.0,368.1 L807.5,356.3 L808.0,349.4 L808.5,348.8 L809.0,352.1 L809.5,355.4 L810.0,356.5 L810.5,355.1 L811.0,353.4 L811.5,354.8 L812.0,361.7 L812.5,372.7 L813.0,385.0 L813.5,396.3 L814.0,405.6 L814.5,412.5 L815.0,417.5 L815.5,420.7 L816.0,422.9 L816.5,424.3 L817.0,425.3 L817.5,425.9 L818.0,426.3 L818.5,426.6 L819.0,426.8 L819.5,427.0 L820.0,427.4 L820.5,427.8 L821.0,428.1 L821.5,428.4 L822.0,428.7 L822.5,428.6 L823.0,428.6 L823.5,428.5 L824.0,428.5 L824.5,428.4 L825.0,428.6 L825.5,428.8 L826.0,429.0 L826.5,429.2 L827.0,429.4 L827.5,429.4 L828.0,429.4 L828.5,429.4 L829.0,429.4 L829.5,429.4 L830.0,429.5 L830.5,429.5 L831.0,429.5 L831.5,429.5 L832.0,429.5 L832.5,429.6 L833.0,429.7 L833.5,429.8 L834.0,429.9 L834.5,430.0 L835.0,429.9 L835.5,429.9 L836.0,429.8 L836.5,429.8 L837.0,429.7 L837.5,429.7 L838.0,429.7 L838.5,429.7 L839.0,429.7 L839.5,429.6 L840.0,429.7 L840.5,429.8 L841.0,429.9 L841.5,429.9 L842.0,430.0 L842.5,430.0 L843.0,430.1 L843.5,430.1 L844.0,430.1 L844.5,430.1 L845.0,430.1 L845.5,430.0 L846.0,430.0 L846.5,429.9 L847.0,429.9 L847.5,429.9 L848.0,429.8 L848.5,429.8 L849.0,429.8 L849.5,429.7 L850.0,429.7 L850.5,429.8 L851.0,429.8 L851.5,429.8 L852.0,429.8 L852.5,429.8 L853.0,429.8 L853.5,429.8 L854.0,429.8 L854.5,429.8 L855.0,429.9 L855.5,429.9 L856.0,430.0 L856.5,430.0 L857.0,430.1 L857.5,430.0 L858.0,429.9 L858.5,429.8 L859.0,429.8 L859.5,429.7 L860.0,429.7 L860.5,429.7 L861.0,429.8 L861.5,429.8 L862.0,429.8 L862.5,429.8 L863.0,429.9 L863.5,429.9 L864.0,429.9 L864.5,430.0 L865.0,429.9 L865.5,429.9 L866.0,429.9 L866.5,429.8 L867.0,429.8 L867.5,429.8 L868.0,429.8 L868.5,429.8 L869.0,429.8 L869.5,429.8 L870.0,429.8 L870.5,429.9 L871.0,430.0 L871.5,430.1 L872.0,430.2 L872.5,430.2 L873.0,430.2 L873.5,430.2 L874.0,430.2 L874.5,430.2 L875.0,430.2 L875.5,430.1 L876.0,430.0 L876.5,430.0 L877.0,429.9 L877.5,429.9 L878.0,429.9 L878.5,429.9 L879.0,429.9 L879.5,429.9 L880.0,429.8 L880.5,429.8 L881.0,429.7 L881.5,429.7 L882.0,429.6 L882.5,429.7 L883.0,429.7 L883.5,429.7 L884.0,429.7 L884.5,429.8 L885.0,429.7 L885.5,429.7 L886.0,429.7 L886.5,429.6 L887.0,429.6 L887.5,429.7 L888.0,429.8 L888.5,429.8 L889.0,429.9 L889.5,430.0 L890.0,430.0 L890.5,430.0 L891.0,430.0 L891.5,430.0 L892.0,430.0 L892.5,429.9 L893.0,429.8 L893.5,429.7 L894.0,429.7 L894.5,429.6 L895.0,429.7 L895.5,429.9 L896.0,430.0 L896.5,430.2 L897.0,430.3 L897.5,430.2 L898.0,430.1 L898.5,430.0 L899.0,429.9 L899.5,429.8 L900.0,429.9 L900.5,430.0 L901.0,430.1 L901.5,430.2 L902.0,430.2 L902.5,430.2 L903.0,430.2 L903.5,430.2 L904.0,430.2 L904.5,430.2 L905.0,430.3 L905.5,430.3 L906.0,430.3 L906.5,430.3 L907.0,430.3 L907.5,430.2 L908.0,430.1 L908.5,429.9 L909.0,429.8 L909.5,429.7 L910.0,429.7 L910.5,429.7 L911.0,429.8 L911.5,429.8 L912.0,429.9 L912.5,429.9 L913.0,430.0 L913.5,430.1 L914.0,430.2 L914.5,430.3 L915.0,430.1 L915.5,430.0 L916.0,429.8 L916.5,429.6 L917.0,429.5 L917.5,429.5 L918.0,429.5 L918.5,429.5 L919.0,429.5 L919.5,429.5 L920.0,429.6 L920.5,429.7 L921.0,429.8 L921.5,429.9 L922.0,430.0 L922.5,429.9 L923.0,429.9 L923.5,429.9 L924.0,429.9 L924.5,429.9 L925.0,430.0 L925.5,430.0 L926.0,430.1 L926.5,430.2 L927.0,430.3 L927.5,430.2 L928.0,430.2 L928.5,430.2 L929.0,430.1 L929.5,430.1 L930.0,430.1 L930.5,430.0 L931.0,430.0 L931.5,429.9 L932.0,429.9 L932.5,429.9 L933.0,430.0 L933.5,430.1 L934.0,430.2 L934.5,430.2 L935.0,430.1 L935.5,430.0 L936.0,429.9 L936.5,429.8 L937.0,429.7 L937.5,429.7 L938.0,429.7 L938.5,429.7 L939.0,429.7 L939.5,429.7 L940.0,429.7 L940.5,429.7 L941.0,429.7 L941.5,429.7 L942.0,429.7 L942.5,429.6 L943.0,429.4 L943.5,429.3 L944.0,429.2 L944.5,429.1 L945.0,429.0 L945.5,428.9 L946.0,428.7 L946.5,428.6 L947.0,428.3 L947.5,428.1 L948.0,427.6 L948.5,427.0 L949.0,426.0 L949.5,424.6 L950.0,422.6 L950.5,420.1 L951.0,417.5 L951.5,415.0 L952.0,413.1 L952.5,411.6 L953.0,409.3 L953.5,405.6 L954.0,400.5 L954.5,395.5 L955.0,393.6 L955.5,396.9 L956.0,403.6 L956.5,410.8 L957.0,416.7 L957.5,421.0 L958.0,423.8 L958.5,425.6 L959.0,426.6 L959.5,427.3 L960.0,427.7 L960.5,428.0 L961.0,428.2 L961.5,428.3 L962.0,428.4 L962.5,428.6 L963.0,428.8 L963.5,428.9 L964.0,429.1 L964.5,429.2 L965.0,429.2 L965.5,429.3 L966.0,429.4 L966.5,429.4 L967.0,429.4 L967.5,429.5 L968.0,429.6 L968.5,429.6 L969.0,429.7 L969.5,429.7 L970.0,429.7 L970.5,429.8 L971.0,429.8 L971.5,429.8 L972.0,429.8 L972.5,429.9 L973.0,429.9 L973.5,430.0 L974.0,430.1 L974.5,430.1 L975.0,430.2 L975.5,430.2 L976.0,430.2 L976.5,430.2 L977.0,430.3 L977.5,430.2 L978.0,430.1 L978.5,430.0 L979.0,429.9 L979.5,429.8 L980.0,429.8 L980.5,429.8 L981.0,429.8 L981.5,429.8 L982.0,429.8 L982.5,429.9 L983.0,429.9 L983.5,429.9 L984.0,430.0 L984.5,430.0 L985.0,430.1 L985.5,430.1 L986.0,430.2 L986.5,430.3 L987.0,430.3 L987.5,430.2 L988.0,430.1 L988.5,430.0 L989.0,429.9 L989.5,429.8 L990.0,429.8 L990.5,429.8 L991.0,429.9 L991.5,429.9 L992.0,429.9 L992.5,430.0 L993.0,430.0 L993.5,430.1 L994.0,430.2 L994.5,430.2 L995.0,430.1 L995.5,430.0 L996.0,429.9 L996.5,429.7 L997.0,429.6 L997.5,429.7 L998.0,429.7 L998.5,429.7 L999.0,429.7 L999.5,429.8 L1000.0,429.9 L1000.5,430.0 L1001.0,430.1 L1001.5,430.2 L1002.0,430.3 L1002.5,430.3 L1003.0,430.3 L1003.5,430.3 L1004.0,430.2 L1004.5,430.2 L1005.0,430.2 L1005.5,430.1 L1006.0,430.0 L1006.5,430.0 L1007.0,429.9 L1007.5,429.8 L1008.0,429.8 L1008.5,429.7 L1009.0,429.6 L1009.5,429.5 L1010.0,429.7 L1010.5,429.8 L1011.0,430.0 L1011.5,430.1 L1012.0,430.2 L1012.5,430.2 L1013.0,430.1 L1013.5,430.1 L1014.0,430.0 L1014.5,430.0 L1015.0,430.0 L1015.5,430.0 L1016.0,430.0 L1016.5,430.0 L1017.0,430.0 L1017.5,430.0 L1018.0,430.0 L1018.5,429.9 L1019.0,429.8 L1019.5,429.7 L1020.0,429.4 L1020.5,429.1 L1021.0,428.7 L1021.5,428.3 L1022.0,427.8 L1022.5,427.2 L1023.0,426.7 L1023.5,426.4 L1024.0,426.3 L1024.5,426.4 L1025.0,426.7 L1025.5,427.2 L1026.0,427.6 L1026.5,428.0 L1027.0,428.3 L1027.5,428.7 L1028.0,428.9 L1028.5,429.1 L1029.0,429.3 L1029.5,429.4 L1030.0,429.5 L1030.5,429.6 L1031.0,429.7 L1031.5,429.7 L1032.0,429.8 L1032.5,429.8 L1033.0,429.8 L1033.5,429.8 L1034.0,429.8 L1034.5,429.9 L1035.0,429.8 L1035.5,429.8 L1036.0,429.7 L1036.5,429.6 L1037.0,429.6 L1037.5,429.6 L1038.0,429.6 L1038.5,429.6 L1039.0,429.6 L1039.5,429.6 L1040.0,429.7 L1040.5,429.8 L1041.0,429.9 L1041.5,429.9 L1042.0,430.0 L1042.5,430.0 L1043.0,430.0 L1043.5,430.0 L1044.0,430.0 L1044.5,430.0 L1045.0,429.9 L1045.5,429.9 L1046.0,429.9 L1046.5,429.8 L1047.0,429.8 L1047.5,429.9 L1048.0,430.0 L1048.5,430.1 L1049.0,430.2 L1049.5,430.3 L1050.0,430.3 L1050.5,430.2 L1051.0,430.1 L1051.5,430.1 L1052.0,430.0 L1052.5,429.9 L1053.0,429.8 L1053.5,429.7 L1054.0,429.6 L1054.5,429.5 L1055.0,429.5 L1055.5,429.6 L1056.0,429.7 L1056.5,429.7 L1057.0,429.8 L1057.5,429.8 L1058.0,429.9 L1058.5,430.0 L1059.0,430.0 L1059.5,430.1 L1060.0,430.0 L1060.5,429.9 L1061.0,429.8 L1061.5,429.7 L1062.0,429.6 L1062.5,429.6 L1063.0,429.7 L1063.5,429.7 L1064.0,429.7 L1064.5,429.8 L1065.0,429.6 L1065.5,429.4 L1066.0,429.2 L1066.5,429.0 L1067.0,428.8 L1067.5,428.8 L1068.0,428.8 L1068.5,428.8 L1069.0,428.7 L1069.5,428.6 L1070.0,428.6 L1070.5,428.6 L1071.0,428.6 L1071.5,428.5 L1072.0,428.5 L1072.5,428.3 L1073.0,428.1 L1073.5,427.9 L1074.0,427.7 L1074.5,427.5 L1075.0,427.3 L1075.5,427.2 L1076.0,427.1 L1076.5,427.0 L1077.0,426.8 L1077.5,426.6 L1078.0,426.4 L1078.5,426.2 L1079.0,426.1 L1079.5,425.9 L1080.0,425.9 L1080.5,425.8 L1081.0,425.8 L1081.5,425.8 L1082.0,425.8 L1082.5,425.7 L1083.0,425.7 L1083.5,425.5 L1084.0,425.4 L1084.5,425.2 L1085.0,424.8 L1085.5,424.3 L1086.0,423.6 L1086.5,422.6 L1087.0,421.2 L1087.5,419.5 L1088.0,417.3 L1088.5,414.5 L1089.0,411.3 L1089.5,407.8 L1090.0,404.3 L1090.5,401.5 L1091.0,399.9 L1091.5,400.6 L1092.0,404.3 L1092.5,409.7 L1093.0,415.0 L1093.5,419.3 L1094.0,422.6 L1094.5,424.9 L1095.0,426.3 L1095.5,427.2 L1096.0,427.8 L1096.5,428.1 L1097.0,428.4 L1097.5,428.6 L1098.0,428.7 L1098.5,428.9 L1099.0,429.0 L1099.5,429.1 L1100.0,429.1 L1100.5,429.1 L1101.0,429.1 L1101.5,429.2 L1102.0,429.1 L1102.5,429.2 L1103.0,429.2 L1103.5,429.3 L1104.0,429.3 L1104.5,429.4 L1105.0,429.5 L1105.5,429.6 L1106.0,429.7 L1106.5,429.9 L1107.0,430.0 L1107.5,429.9 L1108.0,429.8 L1108.5,429.7 L1109.0,429.6 L1109.5,429.5 L1110.0,429.5 L1110.5,429.5 L1111.0,429.5 L1111.5,429.5 L1112.0,429.5 L1112.5,429.5 L1113.0,429.5 L1113.5,429.5 L1114.0,429.6 L1114.5,429.6 L1115.0,429.6 L1115.5,429.7 L1116.0,429.8 L1116.5,429.8 L1117.0,429.9 L1117.5,430.0 L1118.0,430.0 L1118.5,430.1 L1119.0,430.1 L1119.5,430.2 L1120.0,430.2 L1120.5,430.1 L1121.0,430.1 L1121.5,430.1 L1122.0,430.0 L1122.5,430.1 L1123.0,430.1 L1123.5,430.1 L1124.0,430.2 L1124.5,430.2 L1125.0,430.1 L1125.5,429.9 L1126.0,429.8 L1126.5,429.7 L1127.0,429.5 L1127.5,429.5 L1128.0,429.5 L1128.5,429.5 L1129.0,429.5 L1129.5,429.5 L1130.0,429.6 L1130.5,429.8 L1131.0,429.9 L1131.5,430.0 L1132.0,430.2 L1132.5,430.1 L1133.0,430.0 L1133.5,429.9 L1134.0,429.8 L1134.5,429.8 L1135.0,429.8 L1135.5,429.9 L1136.0,430.0 L1136.5,430.0 L1137.0,430.1 L1137.5,430.1 L1138.0,430.0 L1138.5,429.9 L1139.0,429.9 L1139.5,429.8 L1140.0,429.7 L1140.5,429.7 L1141.0,429.7 L1141.5,429.6 L1142.0,429.6 L1142.5,429.6 L1143.0,429.6 L1143.5,429.6 L1144.0,429.7 L1144.5,429.7 L1145.0,429.6 L1145.5,429.6 L1146.0,429.5 L1146.5,429.5 L1147.0,429.4 L1147.5,429.6 L1148.0,429.7 L1148.5,429.8 L1149.0,429.9 L1149.5,430.0 L1150.0,429.9 L1150.5,429.7 L1151.0,429.6 L1151.5,429.4 L1152.0,429.2 L1152.5,429.1 L1153.0,428.9 L1153.5,428.7 L1154.0,428.5 L1154.5,428.3 L1155.0,428.2 L1155.5,428.1 L1156.0,428.0 L1156.5,427.9 L1157.0,427.9 L1157.5,427.9 L1158.0,427.9 L1158.5,428.0 L1159.0,428.1 L1159.5,428.2 L1160.0,428.3 L1160.5,428.4 L1161.0,428.4 L1161.5,428.5 L1162.0,428.6 L1162.5,428.9 L1163.0,429.2 L1163.5,429.4 L1164.0,429.7 L1164.5,429.9 L1165.0,429.9 L1165.5,429.9 L1166.0,429.9 L1166.5,429.9 L1167.0,429.9 L1167.5,430.0 L1168.0,430.0 L1168.5,430.1 L1169.0,430.2 L1169.5,430.3 L1170.0,430.2 L1170.5,430.1 L1171.0,430.0 L1171.5,429.9 L1172.0,429.8 L1172.5,429.9 L1173.0,429.9 L1173.5,430.0 L1174.0,430.0 L1174.5,430.0 L1175.0,430.0 L1175.5,429.9 L1176.0,429.8 L1176.5,429.8 L1177.0,429.7 L1177.5,429.7 L1178.0,429.6 L1178.5,429.6 L1179.0,429.6 L1179.5,429.5 L1180.0,429.7 L1180.5,429.9 L1181.0,430.0 L1181.5,430.2 L1182.0,430.3 L1182.5,430.3 L1183.0,430.3 L1183.5,430.3 L1184.0,430.3 L1184.5,430.3 L1185.0,430.2 L1185.5,430.1 L1186.0,430.0 L1186.5,429.9 L1187.0,429.8 L1187.5,429.9 L1188.0,430.0 L1188.5,430.1 L1189.0,430.2 L1189.5,430.3 L1190.0,430.3 L1190.5,430.3 L1191.0,430.3 L1191.5,430.2 L1192.0,430.2 L1192.5,430.1 L1193.0,430.0 L1193.5,429.9 L1194.0,429.9 L1194.5,429.8 L1195.0,429.8 L1195.5,429.9 L1196.0,429.9 L1196.5,430.0 L1197.0,430.0 L1197.5,430.1 L1198.0,430.2 L1198.5,430.2 L1199.0,430.3 L1199.5,430.3 L1200.0,430.3 L1200.5,430.2 L1201.0,430.1 L1201.5,430.0 L1202.0,429.9 L1202.5,430.0 L1203.0,430.1 L1203.5,430.1 L1204.0,430.2 L1204.5,430.3 L1205.0,430.2 L1205.5,430.0 L1206.0,429.9 L1206.5,429.8 L1207.0,429.6 L1207.5,429.6 L1208.0,429.7 L1208.5,429.7 L1209.0,429.7 L1209.5,429.7 L1210.0,429.8 L1210.5,429.8 L1211.0,429.8 L1211.5,429.9 L1212.0,429.9 L1212.5,429.8 L1213.0,429.7 L1213.5,429.5 L1214.0,429.4 L1214.5,429.2 L1215.0,429.1 L1215.5,429.0 L1216.0,428.8 L1216.5,428.6 L1217.0,428.2 L1217.5,427.8 L1218.0,427.3 L1218.5,426.7 L1219.0,426.1 L1219.5,425.4 L1220.0,424.8 L1220.5,424.5 L1221.0,424.4 L1221.5,424.7 L1222.0,425.0 L1222.5,425.4 L1223.0,425.6 L1223.5,425.6 L1224.0,425.4 L1224.5,425.1 L1225.0,424.6 L1225.5,424.1 L1226.0,424.0 L1226.5,424.2 L1227.0,424.6 L1227.5,425.4 L1228.0,426.2 L1228.5,426.9 L1229.0,427.5 L1229.5,428.0 L1230.0,428.4 L1230.5,428.8 L1231.0,429.0 L1231.5,429.2 L1232.0,429.3 L1232.5,429.4 L1233.0,429.4 L1233.5,429.4 L1234.0,429.4 L1234.5,429.4 L1235.0,429.6 L1235.5,429.8 L1236.0,429.9 L1236.5,430.1 L1237.0,430.2 L1237.5,430.1 L1238.0,430.0 L1238.5,429.9 L1239.0,429.8 L1239.5,429.7 L1240.0,429.7 L1240.5,429.8 L1241.0,429.8 L1241.5,429.9 L1242.0,430.0 L1242.5,429.9 L1243.0,429.8 L1243.5,429.7 L1244.0,429.7 L1244.5,429.6 L1245.0,429.7 L1245.5,429.7 L1246.0,429.8 L1246.5,429.9 L1247.0,430.0 L1247.5,429.9 L1248.0,429.9 L1248.5,429.9 L1249.0,429.9 L1249.5,429.8 L1250.0,429.8 L1250.5,429.9 L1251.0,429.9 L1251.5,429.9 L1252.0,429.9 L1252.5,429.8 L1253.0,429.7 L1253.5,429.7 L1254.0,429.6 L1254.5,429.6 L1255.0,429.6 L1255.5,429.6 L1256.0,429.6 L1256.5,429.6 L1257.0,429.6 L1257.5,429.8 L1258.0,429.9 L1258.5,430.0 L1259.0,430.1 L1259.5,430.3 L1260.0,430.2 L1260.5,430.1 L1261.0,430.0 L1261.5,429.9 L1262.0,429.8 L1262.5,429.8 L1263.0,429.8 L1263.5,429.8 L1264.0,429.8 L1264.5,429.7 L1265.0,429.7 L1265.5,429.7 L1266.0,429.7 L1266.5,429.7 L1267.0,429.7 L1267.5,429.7 L1268.0,429.7 L1268.5,429.8 L1269.0,429.8 L1269.5,429.8 L1270.0,429.8 L1270.5,429.8 L1271.0,429.8 L1271.5,429.8 L1272.0,429.7 L1272.5,429.7 L1273.0,429.7 L1273.5,429.6 L1274.0,429.6 L1274.5,429.6 L1275.0,429.7 L1275.5,429.8 L1276.0,429.9" fill="none" stroke="#0f7f80" stroke-width="4.5" stroke-linejoin="round" stroke-linecap="round"/>
<g stroke="#303030" fill="none">
<line x1="111.5" y1="0" x2="111.5" y2="860.8" stroke-width="3.2"/>
<line x1="109.9" y1="2.0" x2="1279" y2="2.0" stroke-width="4.0" stroke="#3c3c3c"/>
<line x1="1276.9" y1="0" x2="1276.9" y2="860.8" stroke-width="4"/>
<line x1="109.9" y1="859" x2="1279" y2="859" stroke-width="3.6"/>
<line x1="257.3" y1="840" x2="257.3" y2="859" stroke-width="3"/>
<line x1="548.5" y1="840" x2="548.5" y2="859" stroke-width="3"/>
<line x1="839.8" y1="840" x2="839.8" y2="859" stroke-width="3"/>
<line x1="1131.0" y1="840" x2="1131.0" y2="859" stroke-width="3"/>
<line x1="402.9" y1="849" x2="402.9" y2="859" stroke-width="3"/>
<line x1="694.2" y1="849" x2="694.2" y2="859" stroke-width="3"/>
<line x1="985.4" y1="849" x2="985.4" y2="859" stroke-width="3"/>
</g>
<text x="257.3" y="920" font-size="54" text-anchor="middle">20</text>
<text x="548.5" y="920" font-size="54" text-anchor="middle">40</text>
<text x="839.8" y="920" font-size="54" text-anchor="middle">60</text>
<text x="1131.0" y="920" font-size="54" text-anchor="middle">80</text>
<text x="588.7" y="984.2" font-size="70">2</text>
<text transform="translate(623.6,984.6) scale(1.16,1)" font-size="62.5" style="font-weight:normal">θ</text>
<text x="658.3" y="984.2" font-size="69.5">/deg.</text>
<text transform="translate(49,663) rotate(-90)" font-size="70">Intensity(a.u.)</text>
<line x1="918" y1="56.2" x2="1016.5" y2="56.2" stroke="#000" stroke-width="4"/>
<text x="1027.7" y="70.7" font-size="54">#1-950°C</text>
<line x1="918" y1="123.8" x2="1016.5" y2="123.8" stroke="#f00000" stroke-width="4"/>
<text x="1027.7" y="138.3" font-size="54">#2-1200°C</text>
<line x1="918" y1="191.4" x2="1016.5" y2="191.4" stroke="#0000f0" stroke-width="4"/>
<text x="1027.7" y="205.9" font-size="54">#3-1300°C</text>
<line x1="918" y1="259.0" x2="1016.5" y2="259.0" stroke="#0f7f80" stroke-width="4"/>
<text x="1027.7" y="273.5" font-size="54">#4-1500°C</text>
<path d="M143.5,130.1 L152.5,140.6 L143.5,151.1 L134.5,140.6 Z" fill="#000"/>
<text x="159.6" y="151.8" font-size="52">La</text>
<text x="219.8" y="172.6" font-size="31">2</text>
<text x="235.8" y="151.8" font-size="52">Ga</text>
<text x="304.7" y="172.6" font-size="31">4</text>
<text x="320.0" y="151.8" font-size="52">O</text>
<text x="362.0" y="172.6" font-size="31">9</text>
<g fill="#000"><ellipse cx="143.0" cy="224.8" rx="5.0" ry="4.8"/><ellipse cx="136.0" cy="235.0" rx="5.3" ry="5.0"/><ellipse cx="150.0" cy="235.0" rx="5.3" ry="5.0"/><path d="M141.7,227.8 L144.3,227.8 L144.2,238.8 L145.2,243.4 L140.8,243.4 L141.8,238.8 Z"/><path d="M140.0,231.3 L146.0,231.3 L146.0,236.8 L140.0,236.8 Z"/></g>
<text x="160.0" y="243.6" font-size="52">LaSrGa</text>
<text x="341.5" y="265.2" font-size="31">3</text>
<text x="357.8" y="243.6" font-size="52">O</text>
<text x="398.9" y="265.2" font-size="31">7</text>
<path d="M366.3,382.9 L375.1,393.5 L366.3,404.1 L357.6,393.5 Z" fill="#000"/>
<path d="M392.0,380.4 L400.8,391.0 L392.0,401.6 L383.2,391.0 Z" fill="#000"/>
<path d="M368.3,518.5 L377.1,529.1 L368.3,539.7 L359.6,529.1 Z" fill="#000"/>
<path d="M392.3,502.1 L401.1,512.7 L392.3,523.3 L383.6,512.7 Z" fill="#000"/>
<path d="M366.3,641.7 L375.1,652.3 L366.3,662.9 L357.6,652.3 Z" fill="#000"/>
<path d="M390.2,625.6 L398.9,636.2 L390.2,646.8 L381.4,636.2 Z" fill="#000"/>
<path d="M366.3,759.7 L375.1,770.3 L366.3,780.9 L357.6,770.3 Z" fill="#000"/>
<path d="M389.8,749.1 L398.6,759.7 L389.8,770.3 L381.1,759.7 Z" fill="#000"/>
<g fill="#000"><ellipse cx="404.8" cy="521.3" rx="4.8" ry="4.7"/><ellipse cx="398.0" cy="531.2" rx="5.1" ry="4.8"/><ellipse cx="411.6" cy="531.2" rx="5.1" ry="4.8"/><path d="M403.5,524.2 L406.1,524.2 L406.0,534.9 L406.9,539.3 L402.7,539.3 L403.6,534.9 Z"/><path d="M401.9,527.6 L407.7,527.6 L407.7,532.9 L401.9,532.9 Z"/></g>
<g fill="#000"><ellipse cx="407.1" cy="639.5" rx="4.8" ry="4.7"/><ellipse cx="400.3" cy="649.4" rx="5.1" ry="4.8"/><ellipse cx="413.9" cy="649.4" rx="5.1" ry="4.8"/><path d="M405.8,642.4 L408.4,642.4 L408.3,653.1 L409.2,657.5 L405.0,657.5 L405.9,653.1 Z"/><path d="M404.2,645.8 L410.0,645.8 L410.0,651.1 L404.2,651.1 Z"/></g>
<g fill="#000"><ellipse cx="408.1" cy="757.2" rx="4.8" ry="4.7"/><ellipse cx="401.3" cy="767.1" rx="5.1" ry="4.8"/><ellipse cx="414.9" cy="767.1" rx="5.1" ry="4.8"/><path d="M406.8,760.1 L409.4,760.1 L409.3,770.8 L410.2,775.2 L406.0,775.2 L406.9,770.8 Z"/><path d="M405.2,763.5 L411.0,763.5 L411.0,768.8 L405.2,768.8 Z"/></g>
</svg></body></html>
